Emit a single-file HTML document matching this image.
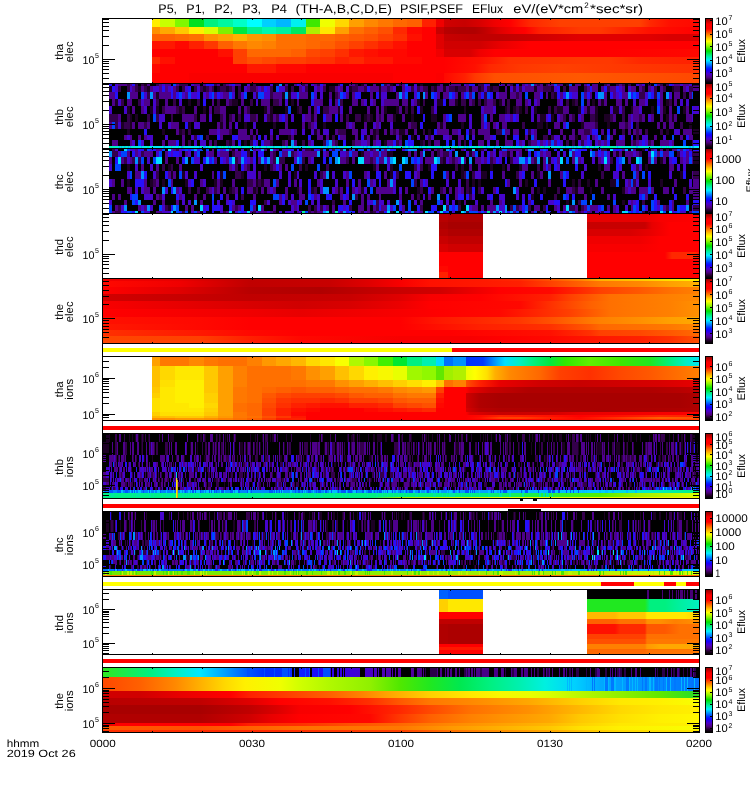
<!DOCTYPE html><html><head><meta charset="utf-8"><title>THEMIS SST EFlux</title><style>html,body{margin:0;padding:0;background:#fff}svg{display:block}path{fill:none}text{text-rendering:geometricPrecision}</style></head><body><svg width="750" height="800" viewBox="0 0 750 800" shape-rendering="crispEdges" font-family="'Liberation Sans', sans-serif" fill="#000"><defs><linearGradient id="g1" gradientUnits="userSpaceOnUse" x1="444" y1="0" x2="699" y2="0"><stop offset="0.0000" stop-color="#d00000"/><stop offset="0.0824" stop-color="#c80000"/><stop offset="0.1412" stop-color="#d80000"/><stop offset="0.2000" stop-color="#f00000"/><stop offset="0.2588" stop-color="#ff0000"/><stop offset="0.3373" stop-color="#ff2800"/><stop offset="0.4549" stop-color="#ff4000"/><stop offset="0.7686" stop-color="#ff4000"/><stop offset="0.8078" stop-color="#ff2800"/><stop offset="0.8863" stop-color="#ff1000"/><stop offset="1.0000" stop-color="#ff0800"/></linearGradient><linearGradient id="g2" gradientUnits="userSpaceOnUse" x1="444" y1="0" x2="699" y2="0"><stop offset="0.0000" stop-color="#b80000"/><stop offset="0.0627" stop-color="#b00000"/><stop offset="0.1216" stop-color="#b00000"/><stop offset="0.1608" stop-color="#c00000"/><stop offset="0.2196" stop-color="#e00000"/><stop offset="0.2784" stop-color="#f80000"/><stop offset="0.3176" stop-color="#ff0000"/><stop offset="0.3765" stop-color="#ff2000"/><stop offset="0.5333" stop-color="#ff3800"/><stop offset="0.6118" stop-color="#ff3800"/><stop offset="0.6902" stop-color="#ff2800"/><stop offset="0.8078" stop-color="#ff1000"/><stop offset="1.0000" stop-color="#ff0000"/></linearGradient><linearGradient id="g3" gradientUnits="userSpaceOnUse" x1="444" y1="0" x2="699" y2="0"><stop offset="0.0000" stop-color="#c80000"/><stop offset="0.1020" stop-color="#c00000"/><stop offset="0.2196" stop-color="#c00000"/><stop offset="0.3176" stop-color="#c80000"/><stop offset="0.4549" stop-color="#d80000"/><stop offset="0.5333" stop-color="#e00000"/><stop offset="0.8078" stop-color="#e00000"/><stop offset="0.8863" stop-color="#d80000"/><stop offset="1.0000" stop-color="#d80000"/></linearGradient><linearGradient id="g4" gradientUnits="userSpaceOnUse" x1="444" y1="0" x2="699" y2="0"><stop offset="0.0000" stop-color="#d00000"/><stop offset="0.1412" stop-color="#d00000"/><stop offset="0.2196" stop-color="#e80000"/><stop offset="0.2980" stop-color="#f80000"/><stop offset="0.3373" stop-color="#ff0000"/><stop offset="1.0000" stop-color="#ff0000"/></linearGradient><linearGradient id="g5" gradientUnits="userSpaceOnUse" x1="444" y1="0" x2="699" y2="0"><stop offset="0.0000" stop-color="#d80000"/><stop offset="0.1020" stop-color="#d80000"/><stop offset="0.1412" stop-color="#f00000"/><stop offset="0.2000" stop-color="#ff0000"/><stop offset="0.6118" stop-color="#ff0000"/><stop offset="1.0000" stop-color="#ff0800"/></linearGradient><linearGradient id="g6" gradientUnits="userSpaceOnUse" x1="444" y1="0" x2="699" y2="0"><stop offset="0.0000" stop-color="#ff0000"/><stop offset="0.1412" stop-color="#ff1000"/><stop offset="0.2588" stop-color="#ff3000"/><stop offset="0.5333" stop-color="#ff3800"/><stop offset="0.6510" stop-color="#ff3800"/><stop offset="0.7686" stop-color="#ff2800"/><stop offset="1.0000" stop-color="#ff2000"/></linearGradient><linearGradient id="g7" gradientUnits="userSpaceOnUse" x1="444" y1="0" x2="699" y2="0"><stop offset="0.0000" stop-color="#ff0000"/><stop offset="0.1216" stop-color="#ff1000"/><stop offset="0.1804" stop-color="#ff2800"/><stop offset="0.2980" stop-color="#ff3800"/><stop offset="0.4549" stop-color="#ff4000"/><stop offset="0.6902" stop-color="#ff3800"/><stop offset="1.0000" stop-color="#ff3000"/></linearGradient><linearGradient id="g8" gradientUnits="userSpaceOnUse" x1="444" y1="0" x2="699" y2="0"><stop offset="0.0000" stop-color="#ff0800"/><stop offset="0.0824" stop-color="#ff2000"/><stop offset="0.1216" stop-color="#ff3800"/><stop offset="0.2000" stop-color="#ff5000"/><stop offset="0.5333" stop-color="#ff5800"/><stop offset="0.7686" stop-color="#ff5000"/><stop offset="1.0000" stop-color="#ff4800"/></linearGradient><linearGradient id="g9" gradientUnits="userSpaceOnUse" x1="109" y1="0" x2="699" y2="0"><stop offset="0.0000" stop-color="#00f0c0"/><stop offset="0.0864" stop-color="#00e8ff"/><stop offset="0.2390" stop-color="#00f0e0"/><stop offset="0.3746" stop-color="#00d8ff"/><stop offset="0.5271" stop-color="#00f0e0"/><stop offset="0.6966" stop-color="#00e0ff"/><stop offset="0.8492" stop-color="#00f0d0"/><stop offset="1.0000" stop-color="#00e8ff"/></linearGradient><linearGradient id="g10" gradientUnits="userSpaceOnUse" x1="587" y1="0" x2="699" y2="0"><stop offset="0.0000" stop-color="#e80000"/><stop offset="0.5179" stop-color="#e80000"/><stop offset="0.6518" stop-color="#f80000"/><stop offset="1.0000" stop-color="#ff0000"/></linearGradient><linearGradient id="g11" gradientUnits="userSpaceOnUse" x1="587" y1="0" x2="699" y2="0"><stop offset="0.0000" stop-color="#c80000"/><stop offset="0.5179" stop-color="#c80000"/><stop offset="0.5804" stop-color="#e80000"/><stop offset="0.7411" stop-color="#ff0000"/><stop offset="1.0000" stop-color="#ff0000"/></linearGradient><linearGradient id="g12" gradientUnits="userSpaceOnUse" x1="587" y1="0" x2="699" y2="0"><stop offset="0.0000" stop-color="#d80000"/><stop offset="0.3839" stop-color="#d80000"/><stop offset="0.5625" stop-color="#e80000"/><stop offset="0.7411" stop-color="#ff0000"/><stop offset="1.0000" stop-color="#ff0000"/></linearGradient><linearGradient id="g13" gradientUnits="userSpaceOnUse" x1="587" y1="0" x2="699" y2="0"><stop offset="0.0000" stop-color="#f00000"/><stop offset="0.4732" stop-color="#f00000"/><stop offset="0.6518" stop-color="#ff0000"/><stop offset="1.0000" stop-color="#ff0000"/></linearGradient><linearGradient id="g14" gradientUnits="userSpaceOnUse" x1="587" y1="0" x2="699" y2="0"><stop offset="0.0000" stop-color="#f80000"/><stop offset="0.4732" stop-color="#f80000"/><stop offset="0.6518" stop-color="#ff0000"/><stop offset="1.0000" stop-color="#ff0000"/></linearGradient><linearGradient id="g15" gradientUnits="userSpaceOnUse" x1="587" y1="0" x2="699" y2="0"><stop offset="0.0000" stop-color="#ff0000"/><stop offset="0.6964" stop-color="#ff0000"/><stop offset="0.7589" stop-color="#ff2800"/><stop offset="0.9643" stop-color="#ff2800"/><stop offset="1.0000" stop-color="#ff1000"/></linearGradient><linearGradient id="g16" gradientUnits="userSpaceOnUse" x1="587" y1="0" x2="699" y2="0"><stop offset="0.0000" stop-color="#ff0000"/><stop offset="1.0000" stop-color="#ff0000"/></linearGradient><linearGradient id="g17" gradientUnits="userSpaceOnUse" x1="587" y1="0" x2="699" y2="0"><stop offset="0.0000" stop-color="#ff0000"/><stop offset="1.0000" stop-color="#ff0000"/></linearGradient><linearGradient id="g18" gradientUnits="userSpaceOnUse" x1="587" y1="0" x2="699" y2="0"><stop offset="0.0000" stop-color="#ff0000"/><stop offset="1.0000" stop-color="#ff0000"/></linearGradient><linearGradient id="g19" gradientUnits="userSpaceOnUse" x1="103" y1="0" x2="699" y2="0"><stop offset="0.0000" stop-color="#f00000"/><stop offset="0.1292" stop-color="#e80000"/><stop offset="0.2466" stop-color="#c00000"/><stop offset="0.3809" stop-color="#c80000"/><stop offset="0.4480" stop-color="#e00000"/><stop offset="0.4983" stop-color="#f80000"/><stop offset="0.5487" stop-color="#ff1000"/><stop offset="0.6326" stop-color="#ff1800"/><stop offset="0.6997" stop-color="#ff2800"/><stop offset="0.7500" stop-color="#ff5000"/><stop offset="0.8003" stop-color="#ff8000"/><stop offset="0.8339" stop-color="#ffb000"/><stop offset="0.9010" stop-color="#ffc800"/><stop offset="0.9513" stop-color="#ffe000"/><stop offset="1.0000" stop-color="#fff000"/></linearGradient><linearGradient id="g20" gradientUnits="userSpaceOnUse" x1="103" y1="0" x2="699" y2="0"><stop offset="0.0000" stop-color="#ff0800"/><stop offset="0.1292" stop-color="#f00000"/><stop offset="0.2466" stop-color="#c00000"/><stop offset="0.3809" stop-color="#c80000"/><stop offset="0.4480" stop-color="#e00000"/><stop offset="0.4983" stop-color="#f80000"/><stop offset="0.5487" stop-color="#ff1000"/><stop offset="0.6326" stop-color="#ff1800"/><stop offset="0.6997" stop-color="#ff2000"/><stop offset="0.7500" stop-color="#ff4000"/><stop offset="0.8003" stop-color="#ff6000"/><stop offset="0.8339" stop-color="#ff7800"/><stop offset="0.9010" stop-color="#ff8800"/><stop offset="0.9513" stop-color="#ffa000"/><stop offset="1.0000" stop-color="#ffb000"/></linearGradient><linearGradient id="g21" gradientUnits="userSpaceOnUse" x1="103" y1="0" x2="699" y2="0"><stop offset="0.0000" stop-color="#ff0000"/><stop offset="0.1292" stop-color="#e00000"/><stop offset="0.2466" stop-color="#b80000"/><stop offset="0.3641" stop-color="#b00000"/><stop offset="0.4480" stop-color="#c00000"/><stop offset="0.4983" stop-color="#c80000"/><stop offset="0.5654" stop-color="#d00000"/><stop offset="0.6158" stop-color="#e80000"/><stop offset="0.6661" stop-color="#ff0000"/><stop offset="0.7500" stop-color="#ff0800"/><stop offset="0.8003" stop-color="#ff2800"/><stop offset="0.8339" stop-color="#ff4000"/><stop offset="0.9010" stop-color="#ff5800"/><stop offset="0.9513" stop-color="#ff7000"/><stop offset="1.0000" stop-color="#ff8000"/></linearGradient><linearGradient id="g22" gradientUnits="userSpaceOnUse" x1="103" y1="0" x2="699" y2="0"><stop offset="0.0000" stop-color="#d00000"/><stop offset="0.2466" stop-color="#c00000"/><stop offset="0.4144" stop-color="#c80000"/><stop offset="0.4983" stop-color="#e00000"/><stop offset="0.5487" stop-color="#f80000"/><stop offset="0.6326" stop-color="#ff0000"/><stop offset="0.7500" stop-color="#ff2000"/><stop offset="0.7836" stop-color="#ff4000"/><stop offset="0.8171" stop-color="#ff5800"/><stop offset="0.8507" stop-color="#ff7000"/><stop offset="0.9010" stop-color="#ff7800"/><stop offset="0.9513" stop-color="#ff8000"/><stop offset="1.0000" stop-color="#ff8800"/></linearGradient><linearGradient id="g23" gradientUnits="userSpaceOnUse" x1="103" y1="0" x2="699" y2="0"><stop offset="0.0000" stop-color="#f80000"/><stop offset="0.2466" stop-color="#d80000"/><stop offset="0.3305" stop-color="#d00000"/><stop offset="0.4144" stop-color="#d80000"/><stop offset="0.4983" stop-color="#ec0000"/><stop offset="0.5487" stop-color="#ff0000"/><stop offset="0.6997" stop-color="#ff0800"/><stop offset="0.7500" stop-color="#ff3000"/><stop offset="0.7836" stop-color="#ff4800"/><stop offset="0.8171" stop-color="#ff6000"/><stop offset="0.8507" stop-color="#ff7000"/><stop offset="0.9010" stop-color="#ff7800"/><stop offset="0.9513" stop-color="#ff8000"/><stop offset="1.0000" stop-color="#ff9000"/></linearGradient><linearGradient id="g24" gradientUnits="userSpaceOnUse" x1="103" y1="0" x2="699" y2="0"><stop offset="0.0000" stop-color="#ff0000"/><stop offset="0.2466" stop-color="#f00000"/><stop offset="0.3305" stop-color="#e80000"/><stop offset="0.4144" stop-color="#f00000"/><stop offset="0.4983" stop-color="#f80000"/><stop offset="0.5654" stop-color="#ff0000"/><stop offset="0.6661" stop-color="#ff0800"/><stop offset="0.7500" stop-color="#ff3000"/><stop offset="0.7836" stop-color="#ff4000"/><stop offset="0.8171" stop-color="#ff5800"/><stop offset="0.8507" stop-color="#ff7000"/><stop offset="0.9010" stop-color="#ff7800"/><stop offset="0.9513" stop-color="#ff8000"/><stop offset="1.0000" stop-color="#ff9000"/></linearGradient><linearGradient id="g25" gradientUnits="userSpaceOnUse" x1="103" y1="0" x2="699" y2="0"><stop offset="0.0000" stop-color="#ff1000"/><stop offset="0.1628" stop-color="#ff0800"/><stop offset="0.2466" stop-color="#ff0000"/><stop offset="0.4983" stop-color="#ff0000"/><stop offset="0.5654" stop-color="#ff1800"/><stop offset="0.6326" stop-color="#ff2800"/><stop offset="0.6997" stop-color="#ff3800"/><stop offset="0.7500" stop-color="#ff5000"/><stop offset="0.8171" stop-color="#ff7800"/><stop offset="0.8339" stop-color="#ff8000"/><stop offset="0.9010" stop-color="#ff9000"/><stop offset="0.9513" stop-color="#ffa000"/><stop offset="1.0000" stop-color="#ffa800"/></linearGradient><linearGradient id="g26" gradientUnits="userSpaceOnUse" x1="103" y1="0" x2="699" y2="0"><stop offset="0.0000" stop-color="#ff1800"/><stop offset="0.2466" stop-color="#ff0000"/><stop offset="0.4983" stop-color="#ff0000"/><stop offset="0.5654" stop-color="#ff1000"/><stop offset="0.6326" stop-color="#ff2000"/><stop offset="0.6997" stop-color="#ff2800"/><stop offset="0.7500" stop-color="#ff3000"/><stop offset="0.8171" stop-color="#ff5800"/><stop offset="0.8339" stop-color="#ff6800"/><stop offset="0.9010" stop-color="#ff7000"/><stop offset="0.9513" stop-color="#ff7800"/><stop offset="1.0000" stop-color="#ff8800"/></linearGradient><linearGradient id="g27" gradientUnits="userSpaceOnUse" x1="103" y1="0" x2="699" y2="0"><stop offset="0.0000" stop-color="#ff3000"/><stop offset="0.1628" stop-color="#ff1800"/><stop offset="0.2466" stop-color="#ff0800"/><stop offset="0.3305" stop-color="#ff0000"/><stop offset="0.5822" stop-color="#ff0000"/><stop offset="0.6661" stop-color="#ff0800"/><stop offset="0.7500" stop-color="#ff1000"/><stop offset="0.8171" stop-color="#ff3000"/><stop offset="0.8339" stop-color="#ff4000"/><stop offset="0.9010" stop-color="#ff4800"/><stop offset="0.9513" stop-color="#ff5800"/><stop offset="1.0000" stop-color="#ff6800"/></linearGradient><linearGradient id="g28" gradientUnits="userSpaceOnUse" x1="103" y1="0" x2="699" y2="0"><stop offset="0.0000" stop-color="#ff4800"/><stop offset="0.1628" stop-color="#ff4000"/><stop offset="0.2466" stop-color="#ff2000"/><stop offset="0.3305" stop-color="#ff0800"/><stop offset="0.4983" stop-color="#f80000"/><stop offset="0.6158" stop-color="#f80000"/><stop offset="0.6661" stop-color="#ff0000"/><stop offset="0.7500" stop-color="#ff0800"/><stop offset="0.8339" stop-color="#ff1800"/><stop offset="0.9010" stop-color="#ff2000"/><stop offset="0.9513" stop-color="#ff3000"/><stop offset="1.0000" stop-color="#ff5000"/></linearGradient><linearGradient id="g29" gradientUnits="userSpaceOnUse" x1="466" y1="0" x2="699" y2="0"><stop offset="0.0000" stop-color="#0030ff"/><stop offset="0.0730" stop-color="#0038ff"/><stop offset="0.1030" stop-color="#0070ff"/><stop offset="0.1330" stop-color="#00a8ff"/><stop offset="0.1674" stop-color="#00e0ff"/><stop offset="0.2318" stop-color="#00f0c0"/><stop offset="0.2876" stop-color="#00f080"/><stop offset="0.3605" stop-color="#00e840"/><stop offset="0.4249" stop-color="#30e800"/><stop offset="0.5322" stop-color="#60f000"/><stop offset="0.6609" stop-color="#40e800"/><stop offset="0.7897" stop-color="#20e820"/><stop offset="0.8755" stop-color="#00f080"/><stop offset="0.9399" stop-color="#00f0c0"/><stop offset="1.0000" stop-color="#00e8f0"/></linearGradient><linearGradient id="g30" gradientUnits="userSpaceOnUse" x1="466" y1="0" x2="699" y2="0"><stop offset="0.0000" stop-color="#e8ff00"/><stop offset="0.0386" stop-color="#ffff00"/><stop offset="0.0901" stop-color="#ffe000"/><stop offset="0.1245" stop-color="#ffb000"/><stop offset="0.1888" stop-color="#ff8800"/><stop offset="0.3176" stop-color="#ff6800"/><stop offset="0.4034" stop-color="#ff4000"/><stop offset="0.5322" stop-color="#ff3000"/><stop offset="0.6609" stop-color="#ff4800"/><stop offset="0.7897" stop-color="#ff5800"/><stop offset="0.9185" stop-color="#ff7000"/><stop offset="1.0000" stop-color="#ff8000"/></linearGradient><linearGradient id="g31" gradientUnits="userSpaceOnUse" x1="466" y1="0" x2="699" y2="0"><stop offset="0.0000" stop-color="#ff5000"/><stop offset="0.0601" stop-color="#ff2000"/><stop offset="0.1459" stop-color="#e80000"/><stop offset="0.3176" stop-color="#d00000"/><stop offset="0.4893" stop-color="#c80000"/><stop offset="0.6609" stop-color="#d00000"/><stop offset="0.8326" stop-color="#d80000"/><stop offset="1.0000" stop-color="#e80000"/></linearGradient><linearGradient id="g32" gradientUnits="userSpaceOnUse" x1="466" y1="0" x2="699" y2="0"><stop offset="0.0000" stop-color="#ff0000"/><stop offset="0.0172" stop-color="#e80000"/><stop offset="0.1030" stop-color="#c80000"/><stop offset="0.2747" stop-color="#b00000"/><stop offset="0.7897" stop-color="#b00000"/><stop offset="0.9185" stop-color="#b80000"/><stop offset="1.0000" stop-color="#c00000"/></linearGradient><linearGradient id="g33" gradientUnits="userSpaceOnUse" x1="466" y1="0" x2="699" y2="0"><stop offset="0.0000" stop-color="#d00000"/><stop offset="0.0601" stop-color="#b00000"/><stop offset="0.1459" stop-color="#a80000"/><stop offset="0.9185" stop-color="#a80000"/><stop offset="1.0000" stop-color="#b00000"/></linearGradient><linearGradient id="g34" gradientUnits="userSpaceOnUse" x1="466" y1="0" x2="699" y2="0"><stop offset="0.0000" stop-color="#d00000"/><stop offset="0.0601" stop-color="#b00000"/><stop offset="0.1459" stop-color="#a80000"/><stop offset="0.9185" stop-color="#a80000"/><stop offset="1.0000" stop-color="#b00000"/></linearGradient><linearGradient id="g35" gradientUnits="userSpaceOnUse" x1="466" y1="0" x2="699" y2="0"><stop offset="0.0000" stop-color="#d00000"/><stop offset="0.0601" stop-color="#b00000"/><stop offset="0.1459" stop-color="#a80000"/><stop offset="0.9185" stop-color="#a80000"/><stop offset="1.0000" stop-color="#b00000"/></linearGradient><linearGradient id="g36" gradientUnits="userSpaceOnUse" x1="466" y1="0" x2="699" y2="0"><stop offset="0.0000" stop-color="#d80000"/><stop offset="0.0601" stop-color="#b80000"/><stop offset="0.1459" stop-color="#b00000"/><stop offset="0.5751" stop-color="#a80000"/><stop offset="1.0000" stop-color="#b00000"/></linearGradient><linearGradient id="g37" gradientUnits="userSpaceOnUse" x1="466" y1="0" x2="699" y2="0"><stop offset="0.0000" stop-color="#ff0000"/><stop offset="0.0172" stop-color="#e00000"/><stop offset="0.1459" stop-color="#c80000"/><stop offset="0.3605" stop-color="#d00000"/><stop offset="0.4893" stop-color="#e80000"/><stop offset="0.6609" stop-color="#f00000"/><stop offset="1.0000" stop-color="#ff0000"/></linearGradient><linearGradient id="g38" gradientUnits="userSpaceOnUse" x1="466" y1="0" x2="699" y2="0"><stop offset="0.0000" stop-color="#ff0000"/><stop offset="0.0601" stop-color="#ff0800"/><stop offset="0.1459" stop-color="#ff2000"/><stop offset="0.3605" stop-color="#ff1000"/><stop offset="0.4893" stop-color="#ff0000"/><stop offset="0.6609" stop-color="#ff1000"/><stop offset="0.8326" stop-color="#ff2800"/><stop offset="1.0000" stop-color="#ff2000"/></linearGradient><linearGradient id="g39" gradientUnits="userSpaceOnUse" x1="466" y1="0" x2="699" y2="0"><stop offset="0.0000" stop-color="#ff0000"/><stop offset="0.0601" stop-color="#ff1000"/><stop offset="0.1459" stop-color="#ff4000"/><stop offset="0.2318" stop-color="#ff4000"/><stop offset="0.3605" stop-color="#ff2000"/><stop offset="0.4893" stop-color="#ff0800"/><stop offset="0.5751" stop-color="#ff2000"/><stop offset="0.7039" stop-color="#ff4000"/><stop offset="0.8326" stop-color="#ff6000"/><stop offset="1.0000" stop-color="#ff5000"/></linearGradient><linearGradient id="g40" gradientUnits="userSpaceOnUse" x1="466" y1="0" x2="699" y2="0"><stop offset="0.0000" stop-color="#ff0000"/><stop offset="0.5751" stop-color="#ff1000"/><stop offset="0.7897" stop-color="#ff3000"/><stop offset="1.0000" stop-color="#ff4000"/></linearGradient><linearGradient id="g41" gradientUnits="userSpaceOnUse" x1="103" y1="0" x2="699" y2="0"><stop offset="0.0000" stop-color="#0080ff"/><stop offset="0.4983" stop-color="#0090ff"/><stop offset="0.6661" stop-color="#00a8ff"/><stop offset="0.7668" stop-color="#00c0ff"/><stop offset="0.8339" stop-color="#00d0ff"/><stop offset="0.9178" stop-color="#00f0c0"/><stop offset="1.0000" stop-color="#00f080"/></linearGradient><linearGradient id="g42" gradientUnits="userSpaceOnUse" x1="103" y1="0" x2="699" y2="0"><stop offset="0.0000" stop-color="#00f088"/><stop offset="0.6326" stop-color="#00f080"/><stop offset="0.7332" stop-color="#20f040"/><stop offset="0.8339" stop-color="#50f000"/><stop offset="0.9010" stop-color="#a0f000"/><stop offset="1.0000" stop-color="#d8ff00"/></linearGradient><linearGradient id="g43" gradientUnits="userSpaceOnUse" x1="103" y1="0" x2="699" y2="0"><stop offset="0.0000" stop-color="#00f080"/><stop offset="0.4480" stop-color="#00f080"/><stop offset="0.4983" stop-color="#a0f000"/><stop offset="0.6661" stop-color="#e0ff00"/><stop offset="1.0000" stop-color="#f8f000"/></linearGradient><linearGradient id="g44" gradientUnits="userSpaceOnUse" x1="103" y1="0" x2="699" y2="0"><stop offset="0.0000" stop-color="#0070ff"/><stop offset="0.4983" stop-color="#0080ff"/><stop offset="0.7500" stop-color="#00a0ff"/><stop offset="1.0000" stop-color="#00c0ff"/></linearGradient><linearGradient id="g45" gradientUnits="userSpaceOnUse" x1="103" y1="0" x2="699" y2="0"><stop offset="0.0000" stop-color="#70e800"/><stop offset="0.3305" stop-color="#80f000"/><stop offset="0.5822" stop-color="#98f000"/><stop offset="0.7668" stop-color="#a8f000"/><stop offset="0.9178" stop-color="#c8f800"/><stop offset="1.0000" stop-color="#d8ff00"/></linearGradient><linearGradient id="g46" gradientUnits="userSpaceOnUse" x1="103" y1="0" x2="699" y2="0"><stop offset="0.0000" stop-color="#ff8000"/><stop offset="0.6661" stop-color="#ff7800"/><stop offset="1.0000" stop-color="#ff6000"/></linearGradient><linearGradient id="g47" gradientUnits="userSpaceOnUse" x1="587" y1="0" x2="699" y2="0"><stop offset="0.0000" stop-color="#20e820"/><stop offset="0.5179" stop-color="#20e820"/><stop offset="0.5625" stop-color="#00f080"/><stop offset="0.6964" stop-color="#00f080"/><stop offset="0.8304" stop-color="#00f0a0"/><stop offset="1.0000" stop-color="#00f0c0"/></linearGradient><linearGradient id="g48" gradientUnits="userSpaceOnUse" x1="587" y1="0" x2="699" y2="0"><stop offset="0.0000" stop-color="#ffb800"/><stop offset="0.2500" stop-color="#ffb800"/><stop offset="0.2946" stop-color="#ffc800"/><stop offset="0.5179" stop-color="#ffc800"/><stop offset="0.5357" stop-color="#ffe800"/><stop offset="0.8750" stop-color="#ffe800"/><stop offset="1.0000" stop-color="#ffd000"/></linearGradient><linearGradient id="g49" gradientUnits="userSpaceOnUse" x1="587" y1="0" x2="699" y2="0"><stop offset="0.0000" stop-color="#ff6000"/><stop offset="0.2500" stop-color="#ff6000"/><stop offset="0.2946" stop-color="#ff7000"/><stop offset="0.5179" stop-color="#ff7000"/><stop offset="0.5357" stop-color="#ff9000"/><stop offset="0.6518" stop-color="#ff9000"/><stop offset="0.7857" stop-color="#ff8000"/><stop offset="1.0000" stop-color="#ff9000"/></linearGradient><linearGradient id="g50" gradientUnits="userSpaceOnUse" x1="587" y1="0" x2="699" y2="0"><stop offset="0.0000" stop-color="#ff1000"/><stop offset="0.2500" stop-color="#ff1000"/><stop offset="0.2946" stop-color="#ff2800"/><stop offset="0.5179" stop-color="#ff2800"/><stop offset="0.5357" stop-color="#ff5800"/><stop offset="0.6964" stop-color="#ff5800"/><stop offset="0.8304" stop-color="#ff7000"/><stop offset="1.0000" stop-color="#ff7000"/></linearGradient><linearGradient id="g51" gradientUnits="userSpaceOnUse" x1="587" y1="0" x2="699" y2="0"><stop offset="0.0000" stop-color="#ff1000"/><stop offset="0.2500" stop-color="#ff1000"/><stop offset="0.2946" stop-color="#ff2800"/><stop offset="0.5179" stop-color="#ff2800"/><stop offset="0.5357" stop-color="#ff5800"/><stop offset="0.6964" stop-color="#ff5800"/><stop offset="0.8304" stop-color="#ff7000"/><stop offset="1.0000" stop-color="#ff7000"/></linearGradient><linearGradient id="g52" gradientUnits="userSpaceOnUse" x1="587" y1="0" x2="699" y2="0"><stop offset="0.0000" stop-color="#ff4000"/><stop offset="0.5179" stop-color="#ff4000"/><stop offset="0.5357" stop-color="#ff7000"/><stop offset="1.0000" stop-color="#ff7000"/></linearGradient><linearGradient id="g53" gradientUnits="userSpaceOnUse" x1="587" y1="0" x2="699" y2="0"><stop offset="0.0000" stop-color="#ff5000"/><stop offset="0.5179" stop-color="#ff5000"/><stop offset="0.5357" stop-color="#ff7800"/><stop offset="1.0000" stop-color="#ff7800"/></linearGradient><linearGradient id="g54" gradientUnits="userSpaceOnUse" x1="587" y1="0" x2="699" y2="0"><stop offset="0.0000" stop-color="#ff8000"/><stop offset="0.5179" stop-color="#ff8000"/><stop offset="0.5357" stop-color="#ff9800"/><stop offset="0.6518" stop-color="#ffa800"/><stop offset="1.0000" stop-color="#ffa800"/></linearGradient><linearGradient id="g55" gradientUnits="userSpaceOnUse" x1="587" y1="0" x2="699" y2="0"><stop offset="0.0000" stop-color="#ff6800"/><stop offset="0.5179" stop-color="#ff6800"/><stop offset="0.5357" stop-color="#ff7000"/><stop offset="1.0000" stop-color="#ff7800"/></linearGradient><linearGradient id="g56" gradientUnits="userSpaceOnUse" x1="103" y1="0" x2="699" y2="0"><stop offset="0.0000" stop-color="#ff4800"/><stop offset="0.0621" stop-color="#ff6000"/><stop offset="0.1208" stop-color="#ff8800"/><stop offset="0.1628" stop-color="#ffb000"/><stop offset="0.2047" stop-color="#ffd800"/><stop offset="0.2383" stop-color="#fff000"/><stop offset="0.2970" stop-color="#f0ff00"/><stop offset="0.3305" stop-color="#d0ff00"/><stop offset="0.3809" stop-color="#b0f800"/><stop offset="0.4480" stop-color="#90f000"/><stop offset="0.4983" stop-color="#50e800"/><stop offset="0.5487" stop-color="#20e820"/><stop offset="0.5990" stop-color="#00e850"/><stop offset="0.6493" stop-color="#00f080"/><stop offset="0.6997" stop-color="#00f0b0"/><stop offset="0.7416" stop-color="#00f0e0"/><stop offset="0.7919" stop-color="#00d0ff"/><stop offset="0.8339" stop-color="#00a8ff"/><stop offset="0.9178" stop-color="#0090ff"/><stop offset="1.0000" stop-color="#0070ff"/></linearGradient><linearGradient id="g57" gradientUnits="userSpaceOnUse" x1="103" y1="0" x2="699" y2="0"><stop offset="0.0000" stop-color="#d00000"/><stop offset="0.0621" stop-color="#d00000"/><stop offset="0.1292" stop-color="#e80000"/><stop offset="0.2131" stop-color="#ff0000"/><stop offset="0.2466" stop-color="#ff2000"/><stop offset="0.3138" stop-color="#ff4000"/><stop offset="0.3809" stop-color="#ff6000"/><stop offset="0.4312" stop-color="#ff8000"/><stop offset="0.4732" stop-color="#ffa000"/><stop offset="0.4983" stop-color="#ffb000"/><stop offset="0.5487" stop-color="#ffd000"/><stop offset="0.6158" stop-color="#ffe800"/><stop offset="0.6661" stop-color="#f8f800"/><stop offset="0.7164" stop-color="#e8ff00"/><stop offset="0.7500" stop-color="#d8ff00"/><stop offset="0.8003" stop-color="#b8f800"/><stop offset="0.8674" stop-color="#90f000"/><stop offset="0.9346" stop-color="#60e800"/><stop offset="0.9849" stop-color="#30e020"/><stop offset="1.0000" stop-color="#30e020"/></linearGradient><linearGradient id="g58" gradientUnits="userSpaceOnUse" x1="103" y1="0" x2="699" y2="0"><stop offset="0.0000" stop-color="#b80000"/><stop offset="0.1628" stop-color="#c00000"/><stop offset="0.2466" stop-color="#e00000"/><stop offset="0.2970" stop-color="#ff0000"/><stop offset="0.3809" stop-color="#ff1000"/><stop offset="0.4480" stop-color="#ff3000"/><stop offset="0.4983" stop-color="#ff5800"/><stop offset="0.5487" stop-color="#ff7800"/><stop offset="0.6158" stop-color="#ff8800"/><stop offset="0.6661" stop-color="#ff9800"/><stop offset="0.7164" stop-color="#ffa800"/><stop offset="0.7500" stop-color="#ffb800"/><stop offset="0.8003" stop-color="#ffd000"/><stop offset="0.8674" stop-color="#ffe800"/><stop offset="0.9346" stop-color="#fff000"/><stop offset="1.0000" stop-color="#f8ff00"/></linearGradient><linearGradient id="g59" gradientUnits="userSpaceOnUse" x1="103" y1="0" x2="699" y2="0"><stop offset="0.0000" stop-color="#a80000"/><stop offset="0.1628" stop-color="#a80000"/><stop offset="0.2466" stop-color="#c00000"/><stop offset="0.2886" stop-color="#d80000"/><stop offset="0.3305" stop-color="#f80000"/><stop offset="0.4144" stop-color="#ff0000"/><stop offset="0.4983" stop-color="#ff2800"/><stop offset="0.5487" stop-color="#ff4800"/><stop offset="0.6158" stop-color="#ff7000"/><stop offset="0.6661" stop-color="#ff8000"/><stop offset="0.7164" stop-color="#ff9000"/><stop offset="0.7500" stop-color="#ffa000"/><stop offset="0.8003" stop-color="#ffb800"/><stop offset="0.8674" stop-color="#ffd800"/><stop offset="0.9346" stop-color="#ffe800"/><stop offset="1.0000" stop-color="#fff000"/></linearGradient><linearGradient id="g60" gradientUnits="userSpaceOnUse" x1="103" y1="0" x2="699" y2="0"><stop offset="0.0000" stop-color="#b00000"/><stop offset="0.1628" stop-color="#b00000"/><stop offset="0.2466" stop-color="#d00000"/><stop offset="0.2802" stop-color="#e80000"/><stop offset="0.3305" stop-color="#ff0000"/><stop offset="0.4480" stop-color="#ff0800"/><stop offset="0.4983" stop-color="#ff3800"/><stop offset="0.5487" stop-color="#ff6000"/><stop offset="0.6158" stop-color="#ff8000"/><stop offset="0.6661" stop-color="#ff9000"/><stop offset="0.7500" stop-color="#ffa800"/><stop offset="0.8003" stop-color="#ffc800"/><stop offset="0.8674" stop-color="#ffe000"/><stop offset="0.9346" stop-color="#fff000"/><stop offset="1.0000" stop-color="#fff800"/></linearGradient><linearGradient id="g61" gradientUnits="userSpaceOnUse" x1="103" y1="0" x2="699" y2="0"><stop offset="0.0000" stop-color="#e80000"/><stop offset="0.0285" stop-color="#ff0000"/><stop offset="0.2131" stop-color="#ff0000"/><stop offset="0.2466" stop-color="#ff2000"/><stop offset="0.3305" stop-color="#ff3000"/><stop offset="0.4144" stop-color="#ff5000"/><stop offset="0.4983" stop-color="#ff6800"/><stop offset="0.5822" stop-color="#ff8800"/><stop offset="0.6661" stop-color="#ffa000"/><stop offset="0.7500" stop-color="#ffb800"/><stop offset="0.8003" stop-color="#ffd000"/><stop offset="0.8674" stop-color="#ffe800"/><stop offset="1.0000" stop-color="#fff000"/></linearGradient><linearGradient id="g62" gradientUnits="userSpaceOnUse" x1="103" y1="0" x2="699" y2="0"><stop offset="0.0000" stop-color="#ff5800"/><stop offset="0.1628" stop-color="#ff5000"/><stop offset="0.2466" stop-color="#ff6000"/><stop offset="0.3305" stop-color="#ff7000"/><stop offset="0.4983" stop-color="#ff7800"/><stop offset="0.5822" stop-color="#ff9800"/><stop offset="0.6661" stop-color="#ffb000"/><stop offset="0.7500" stop-color="#ffc800"/><stop offset="0.8003" stop-color="#ffe000"/><stop offset="0.8674" stop-color="#fff000"/><stop offset="1.0000" stop-color="#f8ff00"/></linearGradient><linearGradient id="g63" gradientUnits="userSpaceOnUse" x1="103" y1="0" x2="699" y2="0"><stop offset="0.0000" stop-color="#ff3000"/><stop offset="0.2466" stop-color="#ff2800"/><stop offset="0.4983" stop-color="#ff4000"/><stop offset="0.5822" stop-color="#ff7000"/><stop offset="0.6661" stop-color="#ff9000"/><stop offset="0.7500" stop-color="#ffa800"/><stop offset="0.8003" stop-color="#ffc000"/><stop offset="0.8674" stop-color="#ffd800"/><stop offset="1.0000" stop-color="#ffe800"/></linearGradient><linearGradient id="g64" gradientUnits="userSpaceOnUse" x1="103" y1="0" x2="420" y2="0"><stop offset="0.0000" stop-color="#30e820"/><stop offset="0.1483" stop-color="#00f080"/><stop offset="0.2271" stop-color="#00f0c0"/><stop offset="0.3060" stop-color="#00e8ff"/><stop offset="0.3849" stop-color="#00a0ff"/><stop offset="0.4479" stop-color="#0060ff"/><stop offset="0.5110" stop-color="#0030ff"/><stop offset="0.6057" stop-color="#0828ff"/><stop offset="0.6845" stop-color="#2008f8"/><stop offset="0.7634" stop-color="#3800e0"/><stop offset="0.8580" stop-color="#4800c0"/><stop offset="0.9369" stop-color="#5000a8"/><stop offset="1.0000" stop-color="#4c0098"/></linearGradient><linearGradient id="g65" x1="0" y1="1" x2="0" y2="0"><stop offset="0.000" stop-color="#000000"/><stop offset="0.035" stop-color="#1e0023"/><stop offset="0.090" stop-color="#500082"/><stop offset="0.140" stop-color="#4b00c8"/><stop offset="0.200" stop-color="#1400ff"/><stop offset="0.235" stop-color="#0028ff"/><stop offset="0.300" stop-color="#0096ff"/><stop offset="0.355" stop-color="#00f0ff"/><stop offset="0.420" stop-color="#00f096"/><stop offset="0.500" stop-color="#00e100"/><stop offset="0.575" stop-color="#8cf500"/><stop offset="0.650" stop-color="#ffff00"/><stop offset="0.700" stop-color="#ffc800"/><stop offset="0.760" stop-color="#ff7800"/><stop offset="0.845" stop-color="#ff0000"/><stop offset="0.920" stop-color="#fa0000"/><stop offset="1.000" stop-color="#960000"/></linearGradient><linearGradient id="g66" x1="0" y1="1" x2="0" y2="0"><stop offset="0.000" stop-color="#000000"/><stop offset="0.035" stop-color="#1e0023"/><stop offset="0.090" stop-color="#500082"/><stop offset="0.140" stop-color="#4b00c8"/><stop offset="0.200" stop-color="#1400ff"/><stop offset="0.235" stop-color="#0028ff"/><stop offset="0.300" stop-color="#0096ff"/><stop offset="0.355" stop-color="#00f0ff"/><stop offset="0.420" stop-color="#00f096"/><stop offset="0.500" stop-color="#00e100"/><stop offset="0.575" stop-color="#8cf500"/><stop offset="0.650" stop-color="#ffff00"/><stop offset="0.700" stop-color="#ffc800"/><stop offset="0.760" stop-color="#ff7800"/><stop offset="0.845" stop-color="#ff0000"/><stop offset="0.920" stop-color="#fa0000"/><stop offset="1.000" stop-color="#960000"/></linearGradient><linearGradient id="g67" x1="0" y1="1" x2="0" y2="0"><stop offset="0.000" stop-color="#000000"/><stop offset="0.035" stop-color="#1e0023"/><stop offset="0.090" stop-color="#500082"/><stop offset="0.140" stop-color="#4b00c8"/><stop offset="0.200" stop-color="#1400ff"/><stop offset="0.235" stop-color="#0028ff"/><stop offset="0.300" stop-color="#0096ff"/><stop offset="0.355" stop-color="#00f0ff"/><stop offset="0.420" stop-color="#00f096"/><stop offset="0.500" stop-color="#00e100"/><stop offset="0.575" stop-color="#8cf500"/><stop offset="0.650" stop-color="#ffff00"/><stop offset="0.700" stop-color="#ffc800"/><stop offset="0.760" stop-color="#ff7800"/><stop offset="0.845" stop-color="#ff0000"/><stop offset="0.920" stop-color="#fa0000"/><stop offset="1.000" stop-color="#960000"/></linearGradient><linearGradient id="g68" x1="0" y1="1" x2="0" y2="0"><stop offset="0.000" stop-color="#000000"/><stop offset="0.035" stop-color="#1e0023"/><stop offset="0.090" stop-color="#500082"/><stop offset="0.140" stop-color="#4b00c8"/><stop offset="0.200" stop-color="#1400ff"/><stop offset="0.235" stop-color="#0028ff"/><stop offset="0.300" stop-color="#0096ff"/><stop offset="0.355" stop-color="#00f0ff"/><stop offset="0.420" stop-color="#00f096"/><stop offset="0.500" stop-color="#00e100"/><stop offset="0.575" stop-color="#8cf500"/><stop offset="0.650" stop-color="#ffff00"/><stop offset="0.700" stop-color="#ffc800"/><stop offset="0.760" stop-color="#ff7800"/><stop offset="0.845" stop-color="#ff0000"/><stop offset="0.920" stop-color="#fa0000"/><stop offset="1.000" stop-color="#960000"/></linearGradient><linearGradient id="g69" x1="0" y1="1" x2="0" y2="0"><stop offset="0.000" stop-color="#000000"/><stop offset="0.035" stop-color="#1e0023"/><stop offset="0.090" stop-color="#500082"/><stop offset="0.140" stop-color="#4b00c8"/><stop offset="0.200" stop-color="#1400ff"/><stop offset="0.235" stop-color="#0028ff"/><stop offset="0.300" stop-color="#0096ff"/><stop offset="0.355" stop-color="#00f0ff"/><stop offset="0.420" stop-color="#00f096"/><stop offset="0.500" stop-color="#00e100"/><stop offset="0.575" stop-color="#8cf500"/><stop offset="0.650" stop-color="#ffff00"/><stop offset="0.700" stop-color="#ffc800"/><stop offset="0.760" stop-color="#ff7800"/><stop offset="0.845" stop-color="#ff0000"/><stop offset="0.920" stop-color="#fa0000"/><stop offset="1.000" stop-color="#960000"/></linearGradient><linearGradient id="g70" x1="0" y1="1" x2="0" y2="0"><stop offset="0.000" stop-color="#000000"/><stop offset="0.035" stop-color="#1e0023"/><stop offset="0.090" stop-color="#500082"/><stop offset="0.140" stop-color="#4b00c8"/><stop offset="0.200" stop-color="#1400ff"/><stop offset="0.235" stop-color="#0028ff"/><stop offset="0.300" stop-color="#0096ff"/><stop offset="0.355" stop-color="#00f0ff"/><stop offset="0.420" stop-color="#00f096"/><stop offset="0.500" stop-color="#00e100"/><stop offset="0.575" stop-color="#8cf500"/><stop offset="0.650" stop-color="#ffff00"/><stop offset="0.700" stop-color="#ffc800"/><stop offset="0.760" stop-color="#ff7800"/><stop offset="0.845" stop-color="#ff0000"/><stop offset="0.920" stop-color="#fa0000"/><stop offset="1.000" stop-color="#960000"/></linearGradient><linearGradient id="g71" x1="0" y1="1" x2="0" y2="0"><stop offset="0.000" stop-color="#000000"/><stop offset="0.035" stop-color="#1e0023"/><stop offset="0.090" stop-color="#500082"/><stop offset="0.140" stop-color="#4b00c8"/><stop offset="0.200" stop-color="#1400ff"/><stop offset="0.235" stop-color="#0028ff"/><stop offset="0.300" stop-color="#0096ff"/><stop offset="0.355" stop-color="#00f0ff"/><stop offset="0.420" stop-color="#00f096"/><stop offset="0.500" stop-color="#00e100"/><stop offset="0.575" stop-color="#8cf500"/><stop offset="0.650" stop-color="#ffff00"/><stop offset="0.700" stop-color="#ffc800"/><stop offset="0.760" stop-color="#ff7800"/><stop offset="0.845" stop-color="#ff0000"/><stop offset="0.920" stop-color="#fa0000"/><stop offset="1.000" stop-color="#960000"/></linearGradient><linearGradient id="g72" x1="0" y1="1" x2="0" y2="0"><stop offset="0.000" stop-color="#000000"/><stop offset="0.035" stop-color="#1e0023"/><stop offset="0.090" stop-color="#500082"/><stop offset="0.140" stop-color="#4b00c8"/><stop offset="0.200" stop-color="#1400ff"/><stop offset="0.235" stop-color="#0028ff"/><stop offset="0.300" stop-color="#0096ff"/><stop offset="0.355" stop-color="#00f0ff"/><stop offset="0.420" stop-color="#00f096"/><stop offset="0.500" stop-color="#00e100"/><stop offset="0.575" stop-color="#8cf500"/><stop offset="0.650" stop-color="#ffff00"/><stop offset="0.700" stop-color="#ffc800"/><stop offset="0.760" stop-color="#ff7800"/><stop offset="0.845" stop-color="#ff0000"/><stop offset="0.920" stop-color="#fa0000"/><stop offset="1.000" stop-color="#960000"/></linearGradient><linearGradient id="g73" x1="0" y1="1" x2="0" y2="0"><stop offset="0.000" stop-color="#000000"/><stop offset="0.035" stop-color="#1e0023"/><stop offset="0.090" stop-color="#500082"/><stop offset="0.140" stop-color="#4b00c8"/><stop offset="0.200" stop-color="#1400ff"/><stop offset="0.235" stop-color="#0028ff"/><stop offset="0.300" stop-color="#0096ff"/><stop offset="0.355" stop-color="#00f0ff"/><stop offset="0.420" stop-color="#00f096"/><stop offset="0.500" stop-color="#00e100"/><stop offset="0.575" stop-color="#8cf500"/><stop offset="0.650" stop-color="#ffff00"/><stop offset="0.700" stop-color="#ffc800"/><stop offset="0.760" stop-color="#ff7800"/><stop offset="0.845" stop-color="#ff0000"/><stop offset="0.920" stop-color="#fa0000"/><stop offset="1.000" stop-color="#960000"/></linearGradient><linearGradient id="g74" x1="0" y1="1" x2="0" y2="0"><stop offset="0.000" stop-color="#000000"/><stop offset="0.035" stop-color="#1e0023"/><stop offset="0.090" stop-color="#500082"/><stop offset="0.140" stop-color="#4b00c8"/><stop offset="0.200" stop-color="#1400ff"/><stop offset="0.235" stop-color="#0028ff"/><stop offset="0.300" stop-color="#0096ff"/><stop offset="0.355" stop-color="#00f0ff"/><stop offset="0.420" stop-color="#00f096"/><stop offset="0.500" stop-color="#00e100"/><stop offset="0.575" stop-color="#8cf500"/><stop offset="0.650" stop-color="#ffff00"/><stop offset="0.700" stop-color="#ffc800"/><stop offset="0.760" stop-color="#ff7800"/><stop offset="0.845" stop-color="#ff0000"/><stop offset="0.920" stop-color="#fa0000"/><stop offset="1.000" stop-color="#960000"/></linearGradient></defs><rect width="750" height="800" fill="#fff"/><rect x="152" y="19" width="8" height="8" fill="#ffee00"/>
<rect x="160" y="19" width="15" height="8" fill="#c8ff00"/>
<rect x="175" y="19" width="14" height="8" fill="#80f800"/>
<rect x="189" y="19" width="15" height="8" fill="#00e020"/>
<rect x="204" y="19" width="14" height="8" fill="#00f080"/>
<rect x="218" y="19" width="15" height="8" fill="#00f8a0"/>
<rect x="233" y="19" width="14" height="8" fill="#00ffc8"/>
<rect x="247" y="19" width="15" height="8" fill="#00ffff"/>
<rect x="262" y="19" width="14" height="8" fill="#00d0ff"/>
<rect x="276" y="19" width="15" height="8" fill="#00b8ff"/>
<rect x="291" y="19" width="15" height="8" fill="#00f0f0"/>
<rect x="306" y="19" width="14" height="8" fill="#40e800"/>
<rect x="320" y="19" width="15" height="8" fill="#f0ff00"/>
<rect x="335" y="19" width="14" height="8" fill="#ffd800"/>
<rect x="349" y="19" width="15" height="8" fill="#ffa000"/>
<rect x="364" y="19" width="14" height="8" fill="#ff8800"/>
<rect x="378" y="19" width="15" height="8" fill="#ff7800"/>
<rect x="393" y="19" width="14" height="8" fill="#ff6800"/>
<rect x="407" y="19" width="15" height="8" fill="#ff6000"/>
<rect x="422" y="19" width="14" height="8" fill="#ff2000"/>
<rect x="436" y="19" width="8" height="8" fill="#f00000"/>
<rect x="444" y="19" width="255" height="8" fill="url(#g1)"/>
<rect x="152" y="27" width="8" height="7" fill="#ff9000"/>
<rect x="160" y="27" width="15" height="7" fill="#ffa800"/>
<rect x="175" y="27" width="14" height="7" fill="#ffc800"/>
<rect x="189" y="27" width="15" height="7" fill="#fff000"/>
<rect x="204" y="27" width="14" height="7" fill="#d8ff00"/>
<rect x="218" y="27" width="15" height="7" fill="#80f000"/>
<rect x="233" y="27" width="14" height="7" fill="#00e840"/>
<rect x="247" y="27" width="15" height="7" fill="#00f090"/>
<rect x="262" y="27" width="14" height="7" fill="#00f8b0"/>
<rect x="276" y="27" width="15" height="7" fill="#00f0a0"/>
<rect x="291" y="27" width="15" height="7" fill="#00e860"/>
<rect x="306" y="27" width="14" height="7" fill="#b0f000"/>
<rect x="320" y="27" width="15" height="7" fill="#ffe800"/>
<rect x="335" y="27" width="14" height="7" fill="#ffa000"/>
<rect x="349" y="27" width="15" height="7" fill="#ff7000"/>
<rect x="364" y="27" width="14" height="7" fill="#ff6000"/>
<rect x="378" y="27" width="15" height="7" fill="#ff5000"/>
<rect x="393" y="27" width="14" height="7" fill="#ff2800"/>
<rect x="407" y="27" width="15" height="7" fill="#ff0800"/>
<rect x="422" y="27" width="14" height="7" fill="#ff0000"/>
<rect x="436" y="27" width="8" height="7" fill="#c80000"/>
<rect x="444" y="27" width="255" height="7" fill="url(#g2)"/>
<rect x="152" y="34" width="23" height="7" fill="#ff6000"/>
<rect x="175" y="34" width="14" height="7" fill="#ff6800"/>
<rect x="189" y="34" width="15" height="7" fill="#ff7000"/>
<rect x="204" y="34" width="14" height="7" fill="#ff9000"/>
<rect x="218" y="34" width="15" height="7" fill="#ffa000"/>
<rect x="233" y="34" width="14" height="7" fill="#ffb000"/>
<rect x="247" y="34" width="15" height="7" fill="#ff9800"/>
<rect x="262" y="34" width="14" height="7" fill="#ff9000"/>
<rect x="276" y="34" width="30" height="7" fill="#ff7000"/>
<rect x="306" y="34" width="29" height="7" fill="#ff6800"/>
<rect x="335" y="34" width="14" height="7" fill="#ff6000"/>
<rect x="349" y="34" width="15" height="7" fill="#ff5800"/>
<rect x="364" y="34" width="14" height="7" fill="#ff5000"/>
<rect x="378" y="34" width="15" height="7" fill="#ff4000"/>
<rect x="393" y="34" width="14" height="7" fill="#ff3000"/>
<rect x="407" y="34" width="15" height="7" fill="#ff1000"/>
<rect x="422" y="34" width="14" height="7" fill="#ff0000"/>
<rect x="436" y="34" width="8" height="7" fill="#e00000"/>
<rect x="444" y="34" width="255" height="7" fill="url(#g3)"/>
<rect x="152" y="41" width="8" height="8" fill="#ff1000"/>
<rect x="160" y="41" width="15" height="8" fill="#ff1800"/>
<rect x="175" y="41" width="14" height="8" fill="#ff0800"/>
<rect x="189" y="41" width="15" height="8" fill="#ff2000"/>
<rect x="204" y="41" width="14" height="8" fill="#ff3800"/>
<rect x="218" y="41" width="15" height="8" fill="#ff6000"/>
<rect x="233" y="41" width="14" height="8" fill="#ff7800"/>
<rect x="247" y="41" width="15" height="8" fill="#ff8800"/>
<rect x="262" y="41" width="14" height="8" fill="#ff8000"/>
<rect x="276" y="41" width="30" height="8" fill="#ff7000"/>
<rect x="306" y="41" width="14" height="8" fill="#ff6800"/>
<rect x="320" y="41" width="15" height="8" fill="#ff6000"/>
<rect x="335" y="41" width="14" height="8" fill="#ff5000"/>
<rect x="349" y="41" width="15" height="8" fill="#ff4000"/>
<rect x="364" y="41" width="14" height="8" fill="#ff3000"/>
<rect x="378" y="41" width="15" height="8" fill="#ff2000"/>
<rect x="393" y="41" width="14" height="8" fill="#ff1000"/>
<rect x="407" y="41" width="29" height="8" fill="#ff0000"/>
<rect x="436" y="41" width="8" height="8" fill="#e00000"/>
<rect x="444" y="41" width="255" height="8" fill="url(#g4)"/>
<rect x="152" y="49" width="66" height="8" fill="#ff0000"/>
<rect x="218" y="49" width="15" height="8" fill="#ff1000"/>
<rect x="233" y="49" width="14" height="8" fill="#ff4000"/>
<rect x="247" y="49" width="44" height="8" fill="#ff6800"/>
<rect x="291" y="49" width="15" height="8" fill="#ff6000"/>
<rect x="306" y="49" width="14" height="8" fill="#ff4800"/>
<rect x="320" y="49" width="15" height="8" fill="#ff4000"/>
<rect x="335" y="49" width="14" height="8" fill="#ff3000"/>
<rect x="349" y="49" width="15" height="8" fill="#ff1800"/>
<rect x="364" y="49" width="14" height="8" fill="#ff1000"/>
<rect x="378" y="49" width="29" height="8" fill="#ff0800"/>
<rect x="407" y="49" width="29" height="8" fill="#ff0000"/>
<rect x="436" y="49" width="8" height="8" fill="#f00000"/>
<rect x="444" y="49" width="255" height="8" fill="url(#g5)"/>
<rect x="152" y="57" width="8" height="7" fill="#ff2800"/>
<rect x="160" y="57" width="15" height="7" fill="#ff1000"/>
<rect x="175" y="57" width="58" height="7" fill="#ff0000"/>
<rect x="233" y="57" width="14" height="7" fill="#ff4000"/>
<rect x="247" y="57" width="15" height="7" fill="#ff5000"/>
<rect x="262" y="57" width="14" height="7" fill="#ff4800"/>
<rect x="276" y="57" width="30" height="7" fill="#ff4000"/>
<rect x="306" y="57" width="14" height="7" fill="#ff3800"/>
<rect x="320" y="57" width="15" height="7" fill="#ff3000"/>
<rect x="335" y="57" width="14" height="7" fill="#ff2000"/>
<rect x="349" y="57" width="15" height="7" fill="#ff2800"/>
<rect x="364" y="57" width="29" height="7" fill="#ff1800"/>
<rect x="393" y="57" width="29" height="7" fill="#ff0800"/>
<rect x="422" y="57" width="14" height="7" fill="#ff0000"/>
<rect x="436" y="57" width="8" height="7" fill="#ff0000"/>
<rect x="444" y="57" width="255" height="7" fill="url(#g6)"/>
<rect x="152" y="64" width="8" height="9" fill="#ff0800"/>
<rect x="160" y="64" width="87" height="9" fill="#ff0000"/>
<rect x="247" y="64" width="29" height="9" fill="#ff1800"/>
<rect x="276" y="64" width="30" height="9" fill="#ff0800"/>
<rect x="306" y="64" width="130" height="9" fill="#ff0000"/>
<rect x="436" y="64" width="8" height="9" fill="#ff0000"/>
<rect x="444" y="64" width="255" height="9" fill="url(#g7)"/>
<rect x="152" y="73" width="37" height="10" fill="#ff0000"/>
<rect x="189" y="73" width="204" height="10" fill="#fa0000"/>
<rect x="393" y="73" width="43" height="10" fill="#ff0000"/>
<rect x="436" y="73" width="8" height="10" fill="#fc0000"/>
<rect x="444" y="73" width="255" height="10" fill="url(#g8)"/>
<rect x="109" y="84" width="590" height="64" fill="#000"/>
<path d="M144 85h3M276 85h3M361 85h3M390 85h3M420 85h3M437 85h3M566 85h3" stroke="#1c0024" stroke-width="2"/>
<path d="M127 85h3M135 85h3M141 85h3M156 85h3M179 85h9M214 85h3M223 85h3M253 85h3M302 85h3M317 85h3M338 85h2M355 85h3M384 85h3M399 85h3M478 85h6M510 85h3M537 85h3M546 85h2M604 85h3M616 85h3M622 85h3M628 85h3M648 85h3M660 85h3M666 85h3M693 85h6" stroke="#34004c" stroke-width="2"/>
<path d="M118 85h9M130 85h2M147 85h3M159 85h3M165 85h6M176 85h3M194 85h6M203 85h3M217 85h3M226 85h3M235 85h6M285 85h3M294 85h3M305 85h3M314 85h3M323 85h3M349 85h6M364 85h3M373 85h3M387 85h3M402 85h3M440 85h3M449 85h12M466 85h3M502 85h3M507 85h3M522 85h3M528 85h3M534 85h3M540 85h3M548 85h6M557 85h6M575 85h6M584 85h3M592 85h6M607 85h3M619 85h3M639 85h3M657 85h3M674 85h6M683 85h6" stroke="#4e008c" stroke-width="2"/>
<path d="M115 85h3M162 85h3M191 85h3M229 85h3M247 85h3M270 85h3M299 85h3M311 85h3M396 85h3M414 85h3M464 85h2M487 85h3M499 85h3M525 85h3M636 85h3M642 85h3M672 85h2M680 85h3M689 85h3" stroke="#4604cc" stroke-width="2"/>
<path d="M109 85h3M132 85h3M206 85h8M232 85h3M297 85h2M320 85h3M340 85h3M469 85h6M484 85h3M516 85h3M587 85h3M669 85h3" stroke="#2610fa" stroke-width="2"/>
<path d="M173 85h3M381 85h3M405 85h3M554 85h3M569 85h3M654 85h3" stroke="#0044ff" stroke-width="2"/>
<path d="M279 85h3M531 85h3" stroke="#0094ff" stroke-width="2"/>
<path d="M109 89h3M138 89h3M147 89h3M203 89h3M217 89h3M226 89h3M329 89h6M349 89h3M379 89h2M434 89h3M443 89h3M455 89h3M469 89h3M478 89h3M490 89h3M534 89h3M551 89h3M672 89h2" stroke="#1c0024" stroke-width="6"/>
<path d="M118 89h3M127 89h3M135 89h3M144 89h3M176 89h3M182 89h3M194 89h3M200 89h3M206 89h3M212 89h2M220 89h6M229 89h3M238 89h3M250 89h6M270 89h3M285 89h3M291 89h3M305 89h3M323 89h3M352 89h6M364 89h3M387 89h3M411 89h3M417 89h3M423 89h5M431 89h3M449 89h6M458 89h8M481 89h3M487 89h3M493 89h6M513 89h3M519 89h3M543 89h8M563 89h3M584 89h3M607 89h3M642 89h3M654 89h3M663 89h3M674 89h6M689 89h4" stroke="#34004c" stroke-width="6"/>
<path d="M132 89h3M141 89h3M150 89h3M159 89h3M165 89h3M173 89h3M209 89h3M232 89h3M247 89h3M256 89h2M261 89h3M299 89h3M317 89h3M335 89h3M340 89h3M358 89h6M370 89h9M381 89h6M390 89h3M402 89h3M420 89h3M437 89h6M446 89h3M466 89h3M472 89h6M505 89h2M525 89h9M537 89h6M569 89h9M587 89h3M592 89h6M601 89h3M610 89h6M622 89h3M631 89h5M639 89h3M648 89h3M660 89h3M683 89h3M693 89h6" stroke="#4e008c" stroke-width="6"/>
<path d="M115 89h3M130 89h2M153 89h6M168 89h3M185 89h3M197 89h3M244 89h3M258 89h3M267 89h3M279 89h6M302 89h3M314 89h3M320 89h3M338 89h2M346 89h3M393 89h3M408 89h3M414 89h3M484 89h3M510 89h3M516 89h3M522 89h3M554 89h3M619 89h3M628 89h3M651 89h3M686 89h3" stroke="#4604cc" stroke-width="6"/>
<path d="M112 89h3M162 89h3M171 89h2M188 89h3M264 89h3M367 89h3M405 89h3M557 89h3M590 89h2M604 89h3M616 89h3" stroke="#2610fa" stroke-width="6"/>
<path d="M276 89h3" stroke="#0044ff" stroke-width="6"/>
<path d="M156 95.5h3M282 95.5h3M288 95.5h3M379 95.5h2M554 95.5h3" stroke="#1c0024" stroke-width="7"/>
<path d="M147 95.5h3M238 95.5h3M256 95.5h2M270 95.5h3M335 95.5h3M484 95.5h3M516 95.5h3M551 95.5h3M639 95.5h6M654 95.5h3M683 95.5h3" stroke="#34004c" stroke-width="7"/>
<path d="M109 95.5h6M130 95.5h8M153 95.5h3M159 95.5h12M173 95.5h3M185 95.5h3M206 95.5h3M214 95.5h3M223 95.5h6M273 95.5h9M299 95.5h9M329 95.5h3M338 95.5h2M346 95.5h3M352 95.5h3M370 95.5h3M396 95.5h3M425 95.5h3M437 95.5h3M443 95.5h6M455 95.5h3M461 95.5h3M469 95.5h3M478 95.5h3M499 95.5h8M510 95.5h6M519 95.5h3M534 95.5h6M546 95.5h2M560 95.5h3M584 95.5h3M590 95.5h2M604 95.5h3M613 95.5h3M622 95.5h6M660 95.5h3M674 95.5h6M689 95.5h3" stroke="#4e008c" stroke-width="7"/>
<path d="M144 95.5h3M182 95.5h3M191 95.5h6M203 95.5h3M220 95.5h3M232 95.5h3M241 95.5h3M253 95.5h3M264 95.5h6M291 95.5h6M314 95.5h3M320 95.5h3M381 95.5h6M402 95.5h3M414 95.5h3M496 95.5h3M572 95.5h6M616 95.5h3M645 95.5h3M669 95.5h3" stroke="#4604cc" stroke-width="7"/>
<path d="M115 95.5h3M171 95.5h2M176 95.5h3M197 95.5h3M209 95.5h3M217 95.5h3M343 95.5h3M355 95.5h6M376 95.5h3M434 95.5h3M452 95.5h3M464 95.5h2M481 95.5h3M490 95.5h3M540 95.5h3M557 95.5h3M563 95.5h3M569 95.5h3M587 95.5h3M595 95.5h3M610 95.5h3M619 95.5h3M631 95.5h2M636 95.5h3M651 95.5h3" stroke="#2610fa" stroke-width="7"/>
<path d="M141 95.5h3M179 95.5h3M188 95.5h3M212 95.5h2M229 95.5h3M244 95.5h3M258 95.5h6M297 95.5h2M311 95.5h3M340 95.5h3M405 95.5h3M417 95.5h3M431 95.5h3M449 95.5h3M466 95.5h3M472 95.5h3M487 95.5h3M525 95.5h3M581 95.5h3M633 95.5h3M648 95.5h3M657 95.5h3M692 95.5h1" stroke="#0044ff" stroke-width="7"/>
<path d="M127 95.5h3M150 95.5h3M285 95.5h3M399 95.5h3M423 95.5h2M566 95.5h3M598 95.5h6M628 95.5h3M666 95.5h3" stroke="#0094ff" stroke-width="7"/>
<path d="M115 102.5h3M188 102.5h3M232 102.5h6M291 102.5h3M417 102.5h3M437 102.5h6M455 102.5h3M499 102.5h3M572 102.5h3M592 102.5h3M601 102.5h3M666 102.5h3" stroke="#1c0024" stroke-width="7"/>
<path d="M121 102.5h3M138 102.5h3M156 102.5h3M173 102.5h3M197 102.5h3M217 102.5h3M229 102.5h3M250 102.5h3M273 102.5h6M340 102.5h3M423 102.5h2M461 102.5h5M472 102.5h3M478 102.5h3M484 102.5h3M493 102.5h3M507 102.5h3M566 102.5h3M575 102.5h3M669 102.5h3" stroke="#34004c" stroke-width="7"/>
<path d="M112 102.5h3M127 102.5h5M144 102.5h6M165 102.5h3M212 102.5h2M226 102.5h3M241 102.5h3M261 102.5h9M279 102.5h3M297 102.5h2M314 102.5h9M335 102.5h3M352 102.5h6M361 102.5h3M373 102.5h3M384 102.5h15M402 102.5h6M414 102.5h3M449 102.5h6M469 102.5h3M487 102.5h6M502 102.5h3M516 102.5h6M525 102.5h3M537 102.5h3M557 102.5h3M587 102.5h3M598 102.5h3M604 102.5h3M616 102.5h6M625 102.5h3M639 102.5h6M660 102.5h3M674 102.5h3" stroke="#4e008c" stroke-width="7"/>
<path d="M118 102.5h3M141 102.5h3M153 102.5h3M179 102.5h3M256 102.5h2M285 102.5h3M329 102.5h3M364 102.5h3M370 102.5h3M381 102.5h3M411 102.5h3M434 102.5h3M528 102.5h3M534 102.5h3M560 102.5h3M633 102.5h3M645 102.5h3M680 102.5h3M686 102.5h3" stroke="#4604cc" stroke-width="7"/>
<path d="M203 102.5h3M311 102.5h3M443 102.5h3M657 102.5h3" stroke="#2610fa" stroke-width="7"/>
<path d="M338 102.5h2M581 102.5h3" stroke="#0044ff" stroke-width="7"/>
<path d="M127 110h3M150 110h3M156 110h3M179 110h3M203 110h3M264 110h3M270 110h3M285 110h3M297 110h2M338 110h2M384 110h3M396 110h3M420 110h3M464 110h2M505 110h2M513 110h3M519 110h3M534 110h3M557 110h6M578 110h3M587 110h3M595 110h3M613 110h6M631 110h2M651 110h3M663 110h3M683 110h3" stroke="#1c0024" stroke-width="8"/>
<path d="M162 110h3M176 110h3M182 110h3M214 110h6M247 110h3M299 110h3M323 110h6M405 110h3M411 110h3M431 110h3M507 110h3M516 110h3M525 110h3M548 110h3M554 110h3M622 110h3" stroke="#34004c" stroke-width="8"/>
<path d="M132 110h3M141 110h3M165 110h11M194 110h3M209 110h3M220 110h6M238 110h3M244 110h3M267 110h3M308 110h3M314 110h3M329 110h9M349 110h3M367 110h3M376 110h3M381 110h3M399 110h3M484 110h9M563 110h6M584 110h3M590 110h5M633 110h6M660 110h3M669 110h3M686 110h3" stroke="#4e008c" stroke-width="8"/>
<path d="M109 110h3M124 110h3M144 110h3M153 110h3M340 110h3M434 110h3M481 110h3M493 110h3M531 110h3M610 110h3M619 110h3M639 110h3M693 110h6" stroke="#4604cc" stroke-width="8"/>
<path d="M317 110h3M417 110h3M581 110h3M692 110h1" stroke="#2610fa" stroke-width="8"/>
<path d="M288 110h3M657 110h3M677 110h3" stroke="#0044ff" stroke-width="8"/>
<path d="M130 118h2M135 118h3M270 118h3M311 118h3M364 118h3M370 118h3M393 118h3M411 118h3M431 118h6M540 118h6M551 118h3M595 118h3M604 118h6M666 118h3M672 118h2" stroke="#1c0024" stroke-width="8"/>
<path d="M109 118h9M127 118h3M147 118h3M156 118h3M171 118h2M194 118h3M220 118h3M229 118h3M238 118h3M250 118h6M267 118h3M276 118h3M346 118h3M355 118h6M367 118h3M379 118h2M563 118h3M572 118h3M590 118h5M610 118h3M622 118h3M639 118h3" stroke="#34004c" stroke-width="8"/>
<path d="M118 118h3M182 118h12M200 118h6M223 118h3M232 118h3M256 118h2M273 118h3M285 118h3M305 118h6M314 118h3M326 118h6M340 118h3M376 118h3M381 118h3M387 118h6M402 118h3M443 118h3M458 118h8M481 118h3M490 118h3M499 118h6M510 118h3M537 118h3M560 118h3M569 118h3M581 118h3M613 118h3M628 118h3M633 118h6M642 118h3M651 118h3M660 118h3M669 118h3M674 118h3M686 118h6" stroke="#4e008c" stroke-width="8"/>
<path d="M159 118h6M209 118h3M244 118h6M264 118h3M279 118h3M291 118h3M302 118h3M469 118h3M505 118h5M516 118h3M531 118h3M546 118h2M557 118h3M578 118h3M631 118h2M648 118h3M692 118h1" stroke="#4604cc" stroke-width="8"/>
<path d="M282 118h3M323 118h3M335 118h3M423 118h2M446 118h3M513 118h3M548 118h3" stroke="#2610fa" stroke-width="8"/>
<path d="M153 118h3M449 118h3M484 118h3" stroke="#0044ff" stroke-width="8"/>
<path d="M121 125.5h3M130 125.5h2M188 125.5h3M220 125.5h3M244 125.5h3M273 125.5h3M323 125.5h3M440 125.5h3M461 125.5h3M537 125.5h6M546 125.5h2M581 125.5h3M607 125.5h3M689 125.5h3" stroke="#1c0024" stroke-width="7"/>
<path d="M115 125.5h3M124 125.5h6M144 125.5h3M308 125.5h3M411 125.5h6M522 125.5h3M595 125.5h3M625 125.5h3M636 125.5h3M680 125.5h3" stroke="#34004c" stroke-width="7"/>
<path d="M109 125.5h3M132 125.5h3M138 125.5h6M147 125.5h3M171 125.5h8M217 125.5h3M223 125.5h3M229 125.5h3M285 125.5h3M302 125.5h3M311 125.5h3M346 125.5h3M352 125.5h3M364 125.5h3M376 125.5h3M408 125.5h3M437 125.5h3M443 125.5h3M481 125.5h3M487 125.5h3M493 125.5h3M502 125.5h5M554 125.5h6M584 125.5h11M619 125.5h6M628 125.5h3M657 125.5h3M663 125.5h3M669 125.5h5" stroke="#4e008c" stroke-width="7"/>
<path d="M118 125.5h3M159 125.5h3M168 125.5h3M194 125.5h6M235 125.5h3M253 125.5h3M314 125.5h3M349 125.5h3M373 125.5h3M379 125.5h2M390 125.5h3M469 125.5h3M496 125.5h3M563 125.5h3" stroke="#4604cc" stroke-width="7"/>
<path d="M185 125.5h3M420 125.5h3M484 125.5h3M631 125.5h2" stroke="#2610fa" stroke-width="7"/>
<path d="M112 125.5h3M566 125.5h3" stroke="#0044ff" stroke-width="7"/>
<path d="M127 132h3M162 132h3M179 132h3M314 132h3M373 132h3M399 132h6M428 132h3M469 132h3M666 132h3M693 132h6" stroke="#1c0024" stroke-width="6"/>
<path d="M182 132h3M188 132h3M229 132h3M338 132h8M376 132h3M393 132h3M423 132h2M496 132h6M528 132h3M584 132h6M622 132h3M636 132h3M645 132h3M660 132h3" stroke="#34004c" stroke-width="6"/>
<path d="M176 132h3M209 132h8M220 132h9M238 132h9M250 132h3M256 132h2M279 132h12M294 132h3M317 132h3M335 132h3M352 132h6M370 132h3M384 132h3M390 132h3M396 132h3M405 132h3M414 132h3M437 132h12M452 132h6M472 132h3M478 132h12M505 132h5M513 132h6M534 132h3M560 132h3M572 132h3M578 132h6M590 132h2M601 132h3M613 132h3M628 132h3M633 132h3M639 132h3M683 132h9" stroke="#4e008c" stroke-width="6"/>
<path d="M217 132h3M270 132h3M291 132h3M302 132h3M311 132h3M323 132h6M361 132h6M458 132h3M531 132h3M548 132h3M674 132h6" stroke="#4604cc" stroke-width="6"/>
<path d="M144 132h3M434 132h3M466 132h3M525 132h3M592 132h6M607 132h3" stroke="#2610fa" stroke-width="6"/>
<path d="M502 132h3" stroke="#0044ff" stroke-width="6"/>
<path d="M250 137.5h3M288 137.5h3M364 137.5h3M373 137.5h3M411 137.5h3M575 137.5h3M604 137.5h3" stroke="#1c0024" stroke-width="5"/>
<path d="M194 137.5h3M206 137.5h3M332 137.5h3M399 137.5h3M428 137.5h3M543 137.5h5M551 137.5h3M636 137.5h3" stroke="#34004c" stroke-width="5"/>
<path d="M124 137.5h3M130 137.5h2M138 137.5h3M144 137.5h3M182 137.5h3M220 137.5h3M238 137.5h12M253 137.5h3M270 137.5h3M291 137.5h3M317 137.5h6M326 137.5h3M340 137.5h6M355 137.5h3M367 137.5h3M376 137.5h3M449 137.5h3M458 137.5h6M484 137.5h6M505 137.5h2M525 137.5h3M534 137.5h3M563 137.5h3M569 137.5h6M581 137.5h6M592 137.5h3M610 137.5h3M654 137.5h3M680 137.5h3M689 137.5h4" stroke="#4e008c" stroke-width="5"/>
<path d="M127 137.5h3M147 137.5h6M165 137.5h3M191 137.5h3M264 137.5h3M276 137.5h3M396 137.5h3M417 137.5h3M425 137.5h3M431 137.5h3M443 137.5h6M472 137.5h3M490 137.5h3M554 137.5h6M595 137.5h3M622 137.5h3M642 137.5h6M663 137.5h3" stroke="#4604cc" stroke-width="5"/>
<path d="M197 137.5h3M217 137.5h3M232 137.5h6M258 137.5h3M308 137.5h3M338 137.5h2M361 137.5h3M408 137.5h3M493 137.5h3M513 137.5h6M587 137.5h3M619 137.5h3M631 137.5h2M686 137.5h3" stroke="#2610fa" stroke-width="5"/>
<path d="M200 137.5h3M466 137.5h3M531 137.5h3M598 137.5h3M607 137.5h3M672 137.5h2" stroke="#0044ff" stroke-width="5"/>
<path d="M229 143h3M244 143h3M384 143h3M420 143h3" stroke="#1c0024" stroke-width="6"/>
<path d="M188 143h3M214 143h3M226 143h3M250 143h3M270 143h3M282 143h3M302 143h3M323 143h3M335 143h3M352 143h3M396 143h3M423 143h2M428 143h3M464 143h2M528 143h3M566 143h3M572 143h3M581 143h3M633 143h3M648 143h3M692 143h1" stroke="#34004c" stroke-width="6"/>
<path d="M112 143h6M130 143h2M162 143h3M168 143h8M182 143h3M209 143h3M232 143h3M264 143h6M285 143h3M294 143h3M308 143h3M332 143h3M355 143h6M367 143h3M373 143h3M387 143h6M399 143h3M434 143h6M458 143h3M478 143h6M496 143h3M505 143h8M519 143h3M531 143h6M540 143h3M548 143h3M554 143h3M598 143h3M604 143h3M616 143h9M631 143h2M636 143h3M651 143h3M660 143h9M672 143h2" stroke="#4e008c" stroke-width="6"/>
<path d="M132 143h3M141 143h3M150 143h3M194 143h3M200 143h6M256 143h2M311 143h3M361 143h6M376 143h5M487 143h3M522 143h3M543 143h3M560 143h3M578 143h3M584 143h3M590 143h2M595 143h3M601 143h3M639 143h3M645 143h3M669 143h3" stroke="#4604cc" stroke-width="6"/>
<path d="M176 143h3M238 143h3M253 143h3M261 143h3M343 143h3M393 143h3M408 143h6M446 143h3M469 143h3M516 143h3M537 143h3M546 143h2M557 143h3M587 143h3M607 143h3M642 143h3M693 143h6" stroke="#2610fa" stroke-width="6"/>
<path d="M138 143h3M326 143h3M405 143h3M452 143h3M551 143h3M683 143h3" stroke="#0044ff" stroke-width="6"/>
<path d="M291 143h3M329 143h3" stroke="#0094ff" stroke-width="6"/>
<rect x="109" y="146" width="590" height="2" fill="url(#g9)"/>
<path d="M119 147h1M121 147h1M124 147h1M128 147h1M130 147h1M141 147h1M163 147h2M181 147h2M199 147h1M203 147h3M207 147h1M216 147h2M228 147h1M230 147h1M239 147h3M255 147h1M259 147h1M260 147h1M266 147h1M273 147h1M281 147h1M286 147h3M292 147h1M298 147h1M309 147h1M327 147h1M332 147h1M336 147h1M363 147h1M366 147h1M367 147h1M370 147h1M371 147h1M379 147h2M387 147h1M388 147h1M392 147h1M403 147h2M408 147h2M413 147h1M419 147h1M421 147h1M442 147h1M458 147h1M464 147h1M466 147h1M468 147h1M486 147h1M494 147h1M503 147h1M521 147h1M539 147h1M544 147h1M560 147h1M565 147h1M571 147h3M576 147h1M577 147h1M582 147h2M584 147h2M589 147h1M594 147h1M600 147h1M610 147h3M617 147h1M636 147h2M689 147h2M692 147h1M693 147h1" stroke="#00b8ff" stroke-width="2" fill="none"/>
<path d="M111 147h1M125 147h1M147 147h1M148 147h1M163 147h1M171 147h1M178 147h1M183 147h1M201 147h1M208 147h1M210 147h3M215 147h1M221 147h1M223 147h2M232 147h1M236 147h1M238 147h1M239 147h1M240 147h1M249 147h1M274 147h1M284 147h1M288 147h3M306 147h1M308 147h1M309 147h1M321 147h1M328 147h1M330 147h1M333 147h1M339 147h1M344 147h3M352 147h1M385 147h1M396 147h1M402 147h1M405 147h1M414 147h3M426 147h1M440 147h1M449 147h1M454 147h3M463 147h1M467 147h1M471 147h1M476 147h2M480 147h1M481 147h2M500 147h1M510 147h1M512 147h1M514 147h1M524 147h3M537 147h1M540 147h1M542 147h2M548 147h2M560 147h1M572 147h1M577 147h1M599 147h1M603 147h1M609 147h4M613 147h3M622 147h1M661 147h1M666 147h1M668 147h1M672 147h2M688 147h1" stroke="#00f8b0" stroke-width="2" fill="none"/>
<rect x="109" y="149" width="590" height="64" fill="#000"/>
<path d="M144 150h3M232 150h3M247 150h3M311 150h3M320 150h3M478 150h3M642 150h3" stroke="#1c0024" stroke-width="2"/>
<path d="M112 150h3M176 150h3M305 150h6M332 150h3M340 150h3M370 150h3M437 150h3M481 150h3M499 150h3M601 150h6M666 150h3" stroke="#34004c" stroke-width="2"/>
<path d="M135 150h3M156 150h6M173 150h3M212 150h2M229 150h3M253 150h3M264 150h3M276 150h3M349 150h3M373 150h3M384 150h3M425 150h3M434 150h3M440 150h3M461 150h3M507 150h15M525 150h3M622 150h3M633 150h3M651 150h3M660 150h3M672 150h5M680 150h3M689 150h3" stroke="#4e008c" stroke-width="2"/>
<path d="M115 150h3M130 150h5M171 150h2M179 150h3M220 150h3M235 150h3M241 150h3M256 150h5M273 150h3M282 150h6M302 150h3M317 150h3M402 150h3M428 150h3M452 150h3M484 150h3M590 150h2M654 150h3" stroke="#4604cc" stroke-width="2"/>
<path d="M138 150h6M150 150h6M182 150h3M188 150h3M197 150h3M223 150h3M288 150h6M297 150h2M314 150h3M329 150h3M390 150h6M423 150h2M464 150h2M493 150h3M540 150h3M546 150h2M554 150h3M569 150h3M578 150h9M598 150h3M613 150h9M645 150h3M686 150h3M693 150h6" stroke="#2610fa" stroke-width="2"/>
<path d="M127 150h3M147 150h3M162 150h3M185 150h3M191 150h3M200 150h3M206 150h3M217 150h3M323 150h3M335 150h5M352 150h3M358 150h6M367 150h3M381 150h3M405 150h3M449 150h3M502 150h5M543 150h3M575 150h3M677 150h3M683 150h3" stroke="#0044ff" stroke-width="2"/>
<path d="M194 150h3M226 150h3M250 150h3M261 150h3M343 150h3M376 150h3M387 150h3M408 150h9M446 150h3M528 150h6M560 150h3M572 150h3M625 150h3M631 150h2" stroke="#0094ff" stroke-width="2"/>
<path d="M124 150h3M168 150h3M270 150h3M472 150h3M610 150h3" stroke="#00dcff" stroke-width="2"/>
<path d="M361 154h3M387 154h6M469 154h3M507 154h3M616 154h3" stroke="#1c0024" stroke-width="6"/>
<path d="M112 154h6M141 154h3M232 154h3M247 154h3M273 154h3M291 154h3M437 154h3M443 154h6M639 154h3M677 154h3M692 154h7" stroke="#34004c" stroke-width="6"/>
<path d="M127 154h3M135 154h3M144 154h9M165 154h3M185 154h3M209 154h5M220 154h9M235 154h6M270 154h3M282 154h6M294 154h3M302 154h15M326 154h3M346 154h3M352 154h6M364 154h6M373 154h6M381 154h6M408 154h3M414 154h3M420 154h3M431 154h3M440 154h3M472 154h3M490 154h3M502 154h5M510 154h3M519 154h3M540 154h3M546 154h5M572 154h3M595 154h3M613 154h3M619 154h3M625 154h8M636 154h3M657 154h3M663 154h6M686 154h3" stroke="#4e008c" stroke-width="6"/>
<path d="M118 154h3M138 154h3M156 154h3M171 154h2M179 154h3M188 154h3M194 154h3M206 154h3M217 154h3M253 154h3M297 154h2M323 154h3M340 154h6M370 154h3M449 154h3M466 154h3M481 154h3M493 154h3M499 154h3M516 154h3M543 154h3M557 154h3M563 154h3M601 154h3M607 154h3M633 154h3M648 154h3M680 154h3" stroke="#4604cc" stroke-width="6"/>
<path d="M132 154h3M168 154h3M173 154h6M241 154h6M258 154h6M299 154h3M487 154h3M528 154h3M534 154h3M575 154h6M598 154h3M683 154h3M689 154h3" stroke="#2610fa" stroke-width="6"/>
<path d="M121 154h6M159 154h3M197 154h3M279 154h3M332 154h6M349 154h3M379 154h2M475 154h3M537 154h3M592 154h3M604 154h3M654 154h3M660 154h3M669 154h5" stroke="#0044ff" stroke-width="6"/>
<path d="M109 154h3M288 154h3M317 154h3M423 154h2M455 154h3M569 154h3M590 154h2" stroke="#0094ff" stroke-width="6"/>
<path d="M651 154h3" stroke="#00dcff" stroke-width="6"/>
<path d="M443 160.5h3M548 160.5h3M660 160.5h3M693 160.5h6" stroke="#1c0024" stroke-width="7"/>
<path d="M124 160.5h3M132 160.5h3M138 160.5h3M235 160.5h3M273 160.5h3M279 160.5h6M302 160.5h3M346 160.5h3M370 160.5h3M440 160.5h3M452 160.5h3M490 160.5h3M510 160.5h3M534 160.5h3M610 160.5h3" stroke="#34004c" stroke-width="7"/>
<path d="M109 160.5h3M121 160.5h3M130 160.5h2M165 160.5h3M176 160.5h3M214 160.5h3M226 160.5h3M238 160.5h3M250 160.5h3M258 160.5h3M270 160.5h3M308 160.5h3M340 160.5h6M352 160.5h3M364 160.5h6M373 160.5h3M379 160.5h5M425 160.5h9M449 160.5h3M455 160.5h3M464 160.5h2M475 160.5h6M484 160.5h3M493 160.5h3M531 160.5h3M543 160.5h3M557 160.5h3M572 160.5h3M578 160.5h3M598 160.5h3M628 160.5h3M648 160.5h3M654 160.5h3M663 160.5h3M680 160.5h3M686 160.5h3M692 160.5h1" stroke="#4e008c" stroke-width="7"/>
<path d="M127 160.5h3M147 160.5h3M194 160.5h6M223 160.5h3M247 160.5h3M294 160.5h3M311 160.5h3M387 160.5h3M420 160.5h3M446 160.5h3M458 160.5h3M481 160.5h3M499 160.5h3M513 160.5h6M551 160.5h3M581 160.5h3M592 160.5h3M601 160.5h3M607 160.5h3M669 160.5h3M683 160.5h3" stroke="#4604cc" stroke-width="7"/>
<path d="M115 160.5h3M182 160.5h3M203 160.5h3M209 160.5h3M220 160.5h3M244 160.5h3M253 160.5h3M264 160.5h3M323 160.5h3M414 160.5h3M487 160.5h3M496 160.5h3M505 160.5h2M525 160.5h3M554 160.5h3M616 160.5h3M672 160.5h5" stroke="#2610fa" stroke-width="7"/>
<path d="M141 160.5h3M153 160.5h3M191 160.5h3M212 160.5h2M229 160.5h3M299 160.5h3M329 160.5h3M376 160.5h3M411 160.5h3M417 160.5h3M566 160.5h3M619 160.5h3M689 160.5h3" stroke="#0044ff" stroke-width="7"/>
<path d="M135 160.5h3M185 160.5h3M206 160.5h3M241 160.5h3M261 160.5h3M267 160.5h3M297 160.5h2M335 160.5h3M384 160.5h3M390 160.5h3M405 160.5h3M437 160.5h3M469 160.5h3M519 160.5h6M528 160.5h3M537 160.5h3M546 160.5h2M575 160.5h3M622 160.5h3M639 160.5h3M651 160.5h3" stroke="#0094ff" stroke-width="7"/>
<path d="M118 160.5h3M156 160.5h6M232 160.5h3M276 160.5h3M338 160.5h2M358 160.5h6M393 160.5h3M402 160.5h3M434 160.5h3M461 160.5h3M560 160.5h3M604 160.5h3M636 160.5h3" stroke="#00dcff" stroke-width="7"/>
<path d="M127 167.5h3M168 167.5h3M264 167.5h3M305 167.5h3M373 167.5h3M390 167.5h3M428 167.5h3M461 167.5h3M490 167.5h3M502 167.5h3M519 167.5h3M598 167.5h3M645 167.5h3" stroke="#1c0024" stroke-width="7"/>
<path d="M162 167.5h3M171 167.5h2M235 167.5h3M247 167.5h3M270 167.5h3M299 167.5h3M326 167.5h3M414 167.5h3M420 167.5h3M455 167.5h3M537 167.5h3M636 167.5h3" stroke="#34004c" stroke-width="7"/>
<path d="M141 167.5h3M156 167.5h3M179 167.5h3M229 167.5h3M244 167.5h3M273 167.5h3M279 167.5h3M285 167.5h3M376 167.5h3M469 167.5h3M478 167.5h3M507 167.5h3M522 167.5h6M543 167.5h3M548 167.5h3M604 167.5h6M669 167.5h5" stroke="#4e008c" stroke-width="7"/>
<path d="M109 167.5h3M135 167.5h3M150 167.5h3M200 167.5h3M232 167.5h3M253 167.5h3M387 167.5h3M417 167.5h3M557 167.5h3M584 167.5h3M619 167.5h3M633 167.5h3M639 167.5h3M677 167.5h3M683 167.5h3" stroke="#4604cc" stroke-width="7"/>
<path d="M241 167.5h3M276 167.5h3M431 167.5h6M546 167.5h2M554 167.5h3M575 167.5h3M616 167.5h3M631 167.5h2" stroke="#2610fa" stroke-width="7"/>
<path d="M115 167.5h6M291 167.5h3M317 167.5h3M399 167.5h3" stroke="#0044ff" stroke-width="7"/>
<path d="M171 175h2M182 175h3M220 175h3M241 175h3M294 175h3M390 175h3M461 175h3M481 175h6M537 175h3M680 175h3" stroke="#1c0024" stroke-width="8"/>
<path d="M156 175h3M235 175h6M320 175h3M396 175h3M464 175h2M472 175h3M516 175h3M601 175h3M693 175h6" stroke="#34004c" stroke-width="8"/>
<path d="M135 175h6M168 175h3M173 175h3M212 175h2M258 175h3M323 175h3M346 175h3M364 175h3M384 175h3M417 175h3M446 175h3M502 175h3M531 175h3M540 175h3M560 175h3M622 175h3M636 175h3M692 175h1" stroke="#4e008c" stroke-width="8"/>
<path d="M127 175h3M153 175h3M185 175h3M194 175h3M247 175h9M279 175h3M288 175h3M297 175h2M314 175h3M332 175h3M343 175h3M367 175h3M414 175h3M452 175h3M475 175h6M519 175h3M581 175h3M613 175h6M669 175h3" stroke="#4604cc" stroke-width="8"/>
<path d="M144 175h3M165 175h3M217 175h3M376 175h5M393 175h3M405 175h6M431 175h3M490 175h3M522 175h3M566 175h3M648 175h3M683 175h3" stroke="#2610fa" stroke-width="8"/>
<path d="M130 175h2M179 175h3M223 175h3M349 175h3M443 175h3M466 175h3M563 175h3M633 175h3M642 175h3" stroke="#0044ff" stroke-width="8"/>
<path d="M141 175h3M326 175h3M548 175h3" stroke="#0094ff" stroke-width="8"/>
<path d="M127 183h3M150 183h3M162 183h3M185 183h3M214 183h3M220 183h3M256 183h2M261 183h3M472 183h3M478 183h3M525 183h3M572 183h3M587 183h3M610 183h6M660 183h3" stroke="#1c0024" stroke-width="8"/>
<path d="M153 183h3M247 183h6M258 183h3M414 183h3M466 183h3M578 183h3M633 183h3" stroke="#34004c" stroke-width="8"/>
<path d="M112 183h3M121 183h3M144 183h3M156 183h3M171 183h2M200 183h3M217 183h3M232 183h3M253 183h3M264 183h6M276 183h3M294 183h3M317 183h3M346 183h3M358 183h3M370 183h3M387 183h3M420 183h3M507 183h3M519 183h3M548 183h3M595 183h3M628 183h3M674 183h3M693 183h6" stroke="#4e008c" stroke-width="8"/>
<path d="M109 183h3M188 183h3M203 183h3M288 183h3M299 183h3M320 183h3M335 183h3M373 183h3M393 183h3M425 183h3M446 183h3M458 183h3M625 183h3M636 183h3M648 183h3M689 183h3" stroke="#4604cc" stroke-width="8"/>
<path d="M135 183h9M191 183h3M308 183h3M352 183h3M379 183h2M423 183h2M505 183h2M534 183h3M563 183h3" stroke="#2610fa" stroke-width="8"/>
<path d="M168 183h3M273 183h3M367 183h3M411 183h3M616 183h3M631 183h2" stroke="#0044ff" stroke-width="8"/>
<path d="M390 183h3" stroke="#0094ff" stroke-width="8"/>
<path d="M229 190.5h3M253 190.5h3M297 190.5h2M311 190.5h3M338 190.5h2M361 190.5h3M417 190.5h3M469 190.5h3M537 190.5h3M543 190.5h3M575 190.5h3M590 190.5h2M622 190.5h3" stroke="#1c0024" stroke-width="7"/>
<path d="M188 190.5h3M197 190.5h3M206 190.5h3M214 190.5h3M232 190.5h3M256 190.5h2M314 190.5h3M420 190.5h3M440 190.5h3M466 190.5h3M478 190.5h3M557 190.5h3M572 190.5h3M683 190.5h3" stroke="#34004c" stroke-width="7"/>
<path d="M127 190.5h5M144 190.5h6M153 190.5h3M176 190.5h3M209 190.5h3M217 190.5h3M223 190.5h3M235 190.5h3M247 190.5h6M261 190.5h3M267 190.5h3M273 190.5h3M285 190.5h3M299 190.5h3M335 190.5h3M340 190.5h3M352 190.5h3M358 190.5h3M376 190.5h17M405 190.5h3M431 190.5h3M443 190.5h3M449 190.5h3M455 190.5h3M461 190.5h3M493 190.5h3M531 190.5h3M566 190.5h6M578 190.5h6M601 190.5h3M625 190.5h3M631 190.5h5M639 190.5h9M651 190.5h3M663 190.5h6M689 190.5h10" stroke="#4e008c" stroke-width="7"/>
<path d="M135 190.5h3M141 190.5h3M165 190.5h3M179 190.5h3M212 190.5h2M270 190.5h3M320 190.5h3M332 190.5h3M355 190.5h3M364 190.5h3M393 190.5h3M399 190.5h3M458 190.5h3M481 190.5h3M516 190.5h3M628 190.5h3M672 190.5h2" stroke="#4604cc" stroke-width="7"/>
<path d="M171 190.5h2M241 190.5h3M308 190.5h3M346 190.5h3M428 190.5h3M472 190.5h3M496 190.5h3" stroke="#2610fa" stroke-width="7"/>
<path d="M370 190.5h3M648 190.5h3" stroke="#0044ff" stroke-width="7"/>
<path d="M162 190.5h3M173 190.5h3M323 190.5h6M513 190.5h3" stroke="#0094ff" stroke-width="7"/>
<path d="M531 197h3" stroke="#1c0024" stroke-width="6"/>
<path d="M159 197h3M241 197h3M355 197h3M417 197h3M469 197h3M554 197h3" stroke="#34004c" stroke-width="6"/>
<path d="M112 197h3M118 197h3M156 197h3M179 197h3M194 197h3M203 197h3M226 197h3M253 197h3M279 197h3M285 197h3M299 197h6M314 197h3M340 197h3M361 197h3M367 197h3M379 197h2M399 197h3M411 197h3M428 197h3M455 197h3M584 197h3M607 197h3M645 197h3M693 197h6" stroke="#4e008c" stroke-width="6"/>
<path d="M144 197h9M162 197h3M182 197h3M235 197h3M291 197h3M317 197h3M346 197h3M423 197h2M472 197h3M487 197h3M499 197h6M516 197h3M522 197h3M613 197h3" stroke="#4604cc" stroke-width="6"/>
<path d="M130 197h2M176 197h3M220 197h3M282 197h3M311 197h3M326 197h6M343 197h3M446 197h3M458 197h6M466 197h3M490 197h3M528 197h3M540 197h3M566 197h3M572 197h3M639 197h3M654 197h3M674 197h3M686 197h3" stroke="#2610fa" stroke-width="6"/>
<path d="M132 197h6M212 197h2M273 197h6M308 197h3M563 197h3M592 197h3M642 197h3" stroke="#0044ff" stroke-width="6"/>
<path d="M352 197h3M437 197h3" stroke="#0094ff" stroke-width="6"/>
<path d="M458 202.5h3M566 202.5h3M622 202.5h3" stroke="#1c0024" stroke-width="5"/>
<path d="M264 202.5h3M332 202.5h3M376 202.5h3M578 202.5h3M642 202.5h3" stroke="#34004c" stroke-width="5"/>
<path d="M124 202.5h3M153 202.5h3M162 202.5h3M176 202.5h3M200 202.5h3M279 202.5h3M291 202.5h6M343 202.5h3M361 202.5h3M420 202.5h3M464 202.5h2M490 202.5h3M499 202.5h3M528 202.5h3M631 202.5h2M657 202.5h3M672 202.5h2M686 202.5h3" stroke="#4e008c" stroke-width="5"/>
<path d="M109 202.5h3M182 202.5h3M188 202.5h3M217 202.5h3M226 202.5h3M232 202.5h3M267 202.5h3M288 202.5h3M299 202.5h3M311 202.5h3M317 202.5h3M367 202.5h6M379 202.5h5M387 202.5h3M399 202.5h3M414 202.5h3M440 202.5h3M446 202.5h3M452 202.5h3M475 202.5h3M502 202.5h3M548 202.5h6M628 202.5h3M633 202.5h3" stroke="#4604cc" stroke-width="5"/>
<path d="M135 202.5h3M212 202.5h2M229 202.5h3M250 202.5h6M282 202.5h3M297 202.5h2M349 202.5h3M522 202.5h3M531 202.5h3M554 202.5h6M636 202.5h3M654 202.5h3M669 202.5h3M693 202.5h6" stroke="#2610fa" stroke-width="5"/>
<path d="M132 202.5h3M305 202.5h3M373 202.5h3M408 202.5h3M437 202.5h3M581 202.5h6M613 202.5h3M651 202.5h3" stroke="#0044ff" stroke-width="5"/>
<path d="M138 202.5h3M194 202.5h3M396 202.5h3M572 202.5h3M590 202.5h2" stroke="#0094ff" stroke-width="5"/>
<path d="M168 208h3" stroke="#1c0024" stroke-width="6"/>
<path d="M118 208h3M165 208h3M235 208h3M308 208h3M314 208h3M320 208h3M349 208h3M376 208h3M420 208h3M446 208h3M458 208h3M510 208h3M516 208h3M528 208h3M543 208h3M569 208h6M581 208h3M666 208h3M693 208h6" stroke="#34004c" stroke-width="6"/>
<path d="M115 208h3M138 208h3M144 208h3M185 208h3M191 208h3M232 208h3M238 208h3M253 208h3M261 208h3M273 208h3M294 208h3M326 208h3M332 208h3M358 208h6M367 208h3M373 208h3M381 208h6M402 208h3M472 208h6M481 208h3M487 208h9M519 208h3M534 208h6M554 208h3M563 208h3M575 208h3M584 208h3M590 208h8M607 208h3M613 208h3M631 208h2M663 208h3M672 208h2" stroke="#4e008c" stroke-width="6"/>
<path d="M121 208h3M141 208h3M150 208h3M162 208h3M203 208h3M220 208h3M291 208h3M297 208h2M317 208h3M323 208h3M343 208h3M390 208h3M469 208h3M499 208h6M557 208h3M616 208h3M625 208h3M645 208h3M657 208h3M692 208h1" stroke="#4604cc" stroke-width="6"/>
<path d="M171 208h2M206 208h3M212 208h8M229 208h3M241 208h3M338 208h5M346 208h3M379 208h2M399 208h3M417 208h3M431 208h6M452 208h3M522 208h3M546 208h2M598 208h3M636 208h3M654 208h3M669 208h3M680 208h6" stroke="#2610fa" stroke-width="6"/>
<path d="M109 208h3M159 208h3M176 208h3M250 208h3M393 208h3M408 208h3M449 208h3M455 208h3M513 208h3M525 208h3M587 208h3M601 208h3M633 208h3M642 208h3M651 208h3M660 208h3M677 208h3" stroke="#0044ff" stroke-width="6"/>
<path d="M124 208h3M147 208h3M173 208h3M387 208h3M496 208h3M505 208h2M686 208h3" stroke="#0094ff" stroke-width="6"/>
<path d="M200 208h3M258 208h3M443 208h3M466 208h3M566 208h3" stroke="#00dcff" stroke-width="6"/>
<path d="M200 212h3M370 212h3M390 212h3M619 212h3M651 212h6" stroke="#1c0024" stroke-width="2"/>
<path d="M115 212h6M182 212h3M223 212h3M253 212h3M273 212h3M308 212h3M314 212h3M361 212h3M373 212h3M379 212h5M466 212h3M540 212h3M578 212h3M601 212h3M642 212h3M648 212h3" stroke="#34004c" stroke-width="2"/>
<path d="M112 212h3M156 212h6M197 212h3M226 212h3M250 212h3M258 212h9M270 212h3M297 212h2M311 212h3M317 212h6M332 212h3M340 212h3M358 212h3M367 212h3M402 212h3M414 212h3M420 212h3M490 212h3M513 212h3M531 212h3M560 212h3M566 212h3M575 212h3M581 212h3M587 212h5M613 212h3M689 212h3" stroke="#4e008c" stroke-width="2"/>
<path d="M144 212h6M162 212h9M191 212h3M220 212h3M235 212h3M244 212h3M256 212h2M267 212h3M279 212h3M285 212h9M299 212h3M364 212h3M376 212h3M408 212h3M417 212h3M452 212h3M478 212h3M484 212h3M496 212h3M502 212h3M595 212h6M616 212h3M672 212h2M680 212h6" stroke="#4604cc" stroke-width="2"/>
<path d="M121 212h6M132 212h3M179 212h3M203 212h3M212 212h2M241 212h3M338 212h2M346 212h3M352 212h3M384 212h3M437 212h3M443 212h3M507 212h3M522 212h3M548 212h3M557 212h3M563 212h3M584 212h3M604 212h6M631 212h2M636 212h3M674 212h3" stroke="#2610fa" stroke-width="2"/>
<path d="M109 212h3M127 212h5M141 212h3M176 212h3M185 212h3M194 212h3M238 212h3M305 212h3M349 212h3M405 212h3M428 212h6M446 212h3M469 212h9M481 212h3M516 212h3M534 212h3M546 212h2M572 212h3M628 212h3M633 212h3M639 212h3M663 212h3M677 212h3M692 212h7" stroke="#0044ff" stroke-width="2"/>
<path d="M323 212h3M343 212h3M411 212h3M464 212h2M493 212h3M505 212h2M510 212h3M525 212h3M569 212h3" stroke="#0094ff" stroke-width="2"/>
<path d="M135 212h3M171 212h2M229 212h3M247 212h3M326 212h3M387 212h3M396 212h3M425 212h3M440 212h3M461 212h3M499 212h3M622 212h6M660 212h3M669 212h3" stroke="#00dcff" stroke-width="2"/>
<path d="M302 212h3M335 212h3M487 212h3" stroke="#00f0a0" stroke-width="2"/>
<rect x="439" y="214" width="9" height="8" fill="#b80000"/>
<rect x="448" y="214" width="35" height="8" fill="#b00000"/>
<rect x="439" y="222" width="9" height="7" fill="#b00000"/>
<rect x="448" y="222" width="35" height="7" fill="#a80000"/>
<rect x="439" y="229" width="9" height="7" fill="#b80000"/>
<rect x="448" y="229" width="35" height="7" fill="#b00000"/>
<rect x="439" y="236" width="9" height="8" fill="#c80000"/>
<rect x="448" y="236" width="35" height="8" fill="#c00000"/>
<rect x="439" y="244" width="9" height="8" fill="#d80000"/>
<rect x="448" y="244" width="35" height="8" fill="#d00000"/>
<rect x="439" y="252" width="9" height="7" fill="#ff0000"/>
<rect x="448" y="252" width="35" height="7" fill="#ff0000"/>
<rect x="439" y="259" width="9" height="7" fill="#ff0000"/>
<rect x="448" y="259" width="35" height="7" fill="#ff0000"/>
<rect x="439" y="266" width="9" height="6" fill="#ff0800"/>
<rect x="448" y="266" width="35" height="6" fill="#ff0000"/>
<rect x="439" y="272" width="9" height="6" fill="#ff2000"/>
<rect x="448" y="272" width="35" height="6" fill="#ff0000"/>
<rect x="587" y="214" width="112" height="8" fill="url(#g10)"/>
<rect x="587" y="222" width="112" height="7" fill="url(#g11)"/>
<rect x="587" y="229" width="112" height="7" fill="url(#g12)"/>
<rect x="587" y="236" width="112" height="8" fill="url(#g13)"/>
<rect x="587" y="244" width="112" height="8" fill="url(#g14)"/>
<rect x="587" y="252" width="112" height="7" fill="url(#g15)"/>
<rect x="587" y="259" width="112" height="7" fill="url(#g16)"/>
<rect x="587" y="266" width="112" height="6" fill="url(#g17)"/>
<rect x="587" y="272" width="112" height="6" fill="url(#g18)"/>
<rect x="103" y="279" width="596" height="2" fill="url(#g19)"/>
<rect x="103" y="281" width="596" height="6" fill="url(#g20)"/>
<rect x="103" y="287" width="596" height="7" fill="url(#g21)"/>
<rect x="103" y="294" width="596" height="7" fill="url(#g22)"/>
<rect x="103" y="301" width="596" height="8" fill="url(#g23)"/>
<rect x="103" y="309" width="596" height="8" fill="url(#g24)"/>
<rect x="103" y="317" width="596" height="7" fill="url(#g25)"/>
<rect x="103" y="324" width="596" height="6" fill="url(#g26)"/>
<rect x="103" y="330" width="596" height="6" fill="url(#g27)"/>
<rect x="103" y="336" width="596" height="7" fill="url(#g28)"/>
<rect x="152" y="357" width="8" height="9" fill="#ffa000"/>
<rect x="160" y="357" width="29" height="9" fill="#ff7800"/>
<rect x="189" y="357" width="15" height="9" fill="#ff8800"/>
<rect x="204" y="357" width="14" height="9" fill="#ff7800"/>
<rect x="218" y="357" width="29" height="9" fill="#ff7000"/>
<rect x="247" y="357" width="15" height="9" fill="#ff8000"/>
<rect x="262" y="357" width="14" height="9" fill="#ff9800"/>
<rect x="276" y="357" width="15" height="9" fill="#ffa800"/>
<rect x="291" y="357" width="15" height="9" fill="#ffb800"/>
<rect x="306" y="357" width="14" height="9" fill="#ffd800"/>
<rect x="320" y="357" width="15" height="9" fill="#ffe800"/>
<rect x="335" y="357" width="14" height="9" fill="#f8ff00"/>
<rect x="349" y="357" width="15" height="9" fill="#b0f800"/>
<rect x="364" y="357" width="14" height="9" fill="#88f800"/>
<rect x="378" y="357" width="15" height="9" fill="#40f000"/>
<rect x="393" y="357" width="14" height="9" fill="#00e830"/>
<rect x="407" y="357" width="15" height="9" fill="#00f080"/>
<rect x="422" y="357" width="14" height="9" fill="#00f0b0"/>
<rect x="436" y="357" width="8" height="9" fill="#00d8ff"/>
<rect x="444" y="357" width="9" height="9" fill="#0070ff"/>
<rect x="453" y="357" width="13" height="9" fill="#0090ff"/>
<rect x="152" y="366" width="8" height="14" fill="#ffc000"/>
<rect x="160" y="366" width="15" height="14" fill="#ffd800"/>
<rect x="175" y="366" width="29" height="14" fill="#ffe800"/>
<rect x="204" y="366" width="14" height="14" fill="#ffc800"/>
<rect x="218" y="366" width="15" height="14" fill="#ffa000"/>
<rect x="233" y="366" width="14" height="14" fill="#ff8000"/>
<rect x="247" y="366" width="44" height="14" fill="#ff7000"/>
<rect x="291" y="366" width="15" height="14" fill="#ff7800"/>
<rect x="306" y="366" width="14" height="14" fill="#ff9000"/>
<rect x="320" y="366" width="15" height="14" fill="#ffa000"/>
<rect x="335" y="366" width="14" height="14" fill="#ffc000"/>
<rect x="349" y="366" width="15" height="14" fill="#ffd800"/>
<rect x="364" y="366" width="14" height="14" fill="#fff000"/>
<rect x="378" y="366" width="15" height="14" fill="#f8f800"/>
<rect x="393" y="366" width="14" height="14" fill="#e8ff00"/>
<rect x="407" y="366" width="15" height="14" fill="#a0f800"/>
<rect x="422" y="366" width="14" height="14" fill="#90f800"/>
<rect x="436" y="366" width="8" height="14" fill="#60e800"/>
<rect x="444" y="366" width="9" height="14" fill="#a0f000"/>
<rect x="453" y="366" width="13" height="14" fill="#b0f000"/>
<rect x="152" y="380" width="8" height="7" fill="#ffc000"/>
<rect x="160" y="380" width="15" height="7" fill="#ffe000"/>
<rect x="175" y="380" width="29" height="7" fill="#fff000"/>
<rect x="204" y="380" width="14" height="7" fill="#ffc800"/>
<rect x="218" y="380" width="15" height="7" fill="#ffa000"/>
<rect x="233" y="380" width="14" height="7" fill="#ff8000"/>
<rect x="247" y="380" width="59" height="7" fill="#ff7000"/>
<rect x="306" y="380" width="29" height="7" fill="#ff7800"/>
<rect x="335" y="380" width="14" height="7" fill="#ff9000"/>
<rect x="349" y="380" width="15" height="7" fill="#ffa000"/>
<rect x="364" y="380" width="14" height="7" fill="#ffb000"/>
<rect x="378" y="380" width="15" height="7" fill="#ffc000"/>
<rect x="393" y="380" width="14" height="7" fill="#ffd000"/>
<rect x="407" y="380" width="15" height="7" fill="#ffe000"/>
<rect x="422" y="380" width="14" height="7" fill="#fff000"/>
<rect x="436" y="380" width="8" height="7" fill="#ffc800"/>
<rect x="444" y="380" width="9" height="7" fill="#ff7000"/>
<rect x="453" y="380" width="13" height="7" fill="#ff8000"/>
<rect x="152" y="387" width="8" height="6" fill="#ffc800"/>
<rect x="160" y="387" width="15" height="6" fill="#ffe800"/>
<rect x="175" y="387" width="29" height="6" fill="#fff000"/>
<rect x="204" y="387" width="14" height="6" fill="#ffc800"/>
<rect x="218" y="387" width="15" height="6" fill="#ffa000"/>
<rect x="233" y="387" width="14" height="6" fill="#ff7800"/>
<rect x="247" y="387" width="15" height="6" fill="#ff7000"/>
<rect x="262" y="387" width="14" height="6" fill="#ff6800"/>
<rect x="276" y="387" width="15" height="6" fill="#ff6000"/>
<rect x="291" y="387" width="15" height="6" fill="#ff5800"/>
<rect x="306" y="387" width="29" height="6" fill="#ff6000"/>
<rect x="335" y="387" width="14" height="6" fill="#ff6800"/>
<rect x="349" y="387" width="29" height="6" fill="#ff7000"/>
<rect x="378" y="387" width="15" height="6" fill="#ff7800"/>
<rect x="393" y="387" width="14" height="6" fill="#ff8800"/>
<rect x="407" y="387" width="15" height="6" fill="#ff9000"/>
<rect x="422" y="387" width="14" height="6" fill="#ff9800"/>
<rect x="436" y="387" width="8" height="6" fill="#ff4000"/>
<rect x="444" y="387" width="22" height="6" fill="#ff0000"/>
<rect x="152" y="393" width="8" height="5" fill="#ffd000"/>
<rect x="160" y="393" width="15" height="5" fill="#ffe800"/>
<rect x="175" y="393" width="29" height="5" fill="#fff000"/>
<rect x="204" y="393" width="14" height="5" fill="#ffd000"/>
<rect x="218" y="393" width="15" height="5" fill="#ffa000"/>
<rect x="233" y="393" width="14" height="5" fill="#ff7800"/>
<rect x="247" y="393" width="15" height="5" fill="#ff7000"/>
<rect x="262" y="393" width="14" height="5" fill="#ff5800"/>
<rect x="276" y="393" width="15" height="5" fill="#ff4800"/>
<rect x="291" y="393" width="44" height="5" fill="#ff4000"/>
<rect x="335" y="393" width="14" height="5" fill="#ff4800"/>
<rect x="349" y="393" width="15" height="5" fill="#ff5800"/>
<rect x="364" y="393" width="29" height="5" fill="#ff6000"/>
<rect x="393" y="393" width="14" height="5" fill="#ff7000"/>
<rect x="407" y="393" width="29" height="5" fill="#ff7800"/>
<rect x="436" y="393" width="8" height="5" fill="#ff2000"/>
<rect x="444" y="393" width="22" height="5" fill="#ff0000"/>
<rect x="152" y="398" width="8" height="5" fill="#ffe000"/>
<rect x="160" y="398" width="15" height="5" fill="#ffe800"/>
<rect x="175" y="398" width="29" height="5" fill="#fff000"/>
<rect x="204" y="398" width="14" height="5" fill="#ffd000"/>
<rect x="218" y="398" width="15" height="5" fill="#ffa000"/>
<rect x="233" y="398" width="14" height="5" fill="#ff7800"/>
<rect x="247" y="398" width="15" height="5" fill="#ff7000"/>
<rect x="262" y="398" width="14" height="5" fill="#ff5000"/>
<rect x="276" y="398" width="15" height="5" fill="#ff3800"/>
<rect x="291" y="398" width="29" height="5" fill="#ff3000"/>
<rect x="320" y="398" width="15" height="5" fill="#ff2800"/>
<rect x="335" y="398" width="14" height="5" fill="#ff3000"/>
<rect x="349" y="398" width="29" height="5" fill="#ff4000"/>
<rect x="378" y="398" width="15" height="5" fill="#ff4800"/>
<rect x="393" y="398" width="14" height="5" fill="#ff5800"/>
<rect x="407" y="398" width="29" height="5" fill="#ff6000"/>
<rect x="436" y="398" width="8" height="5" fill="#ff1000"/>
<rect x="444" y="398" width="22" height="5" fill="#ff0000"/>
<rect x="152" y="403" width="8" height="5" fill="#ffe000"/>
<rect x="160" y="403" width="29" height="5" fill="#ffe800"/>
<rect x="189" y="403" width="15" height="5" fill="#fff000"/>
<rect x="204" y="403" width="14" height="5" fill="#ffd800"/>
<rect x="218" y="403" width="15" height="5" fill="#ffa000"/>
<rect x="233" y="403" width="14" height="5" fill="#ff7000"/>
<rect x="247" y="403" width="15" height="5" fill="#ff6800"/>
<rect x="262" y="403" width="14" height="5" fill="#ff4800"/>
<rect x="276" y="403" width="15" height="5" fill="#ff3000"/>
<rect x="291" y="403" width="15" height="5" fill="#ff2000"/>
<rect x="306" y="403" width="14" height="5" fill="#ff1800"/>
<rect x="320" y="403" width="29" height="5" fill="#ff1000"/>
<rect x="349" y="403" width="29" height="5" fill="#ff2000"/>
<rect x="378" y="403" width="15" height="5" fill="#ff2800"/>
<rect x="393" y="403" width="14" height="5" fill="#ff4000"/>
<rect x="407" y="403" width="15" height="5" fill="#ff4800"/>
<rect x="422" y="403" width="14" height="5" fill="#ff5000"/>
<rect x="436" y="403" width="8" height="5" fill="#ff0800"/>
<rect x="444" y="403" width="22" height="5" fill="#ff0000"/>
<rect x="152" y="408" width="8" height="4" fill="#ffe000"/>
<rect x="160" y="408" width="44" height="4" fill="#ffe800"/>
<rect x="204" y="408" width="14" height="4" fill="#ffd000"/>
<rect x="218" y="408" width="15" height="4" fill="#ffa000"/>
<rect x="233" y="408" width="14" height="4" fill="#ff7000"/>
<rect x="247" y="408" width="15" height="4" fill="#ff6800"/>
<rect x="262" y="408" width="14" height="4" fill="#ff4000"/>
<rect x="276" y="408" width="15" height="4" fill="#ff2000"/>
<rect x="291" y="408" width="15" height="4" fill="#ff1000"/>
<rect x="306" y="408" width="14" height="4" fill="#ff0800"/>
<rect x="320" y="408" width="44" height="4" fill="#ff0000"/>
<rect x="364" y="408" width="14" height="4" fill="#ff0800"/>
<rect x="378" y="408" width="15" height="4" fill="#ff1000"/>
<rect x="393" y="408" width="14" height="4" fill="#ff1800"/>
<rect x="407" y="408" width="15" height="4" fill="#ff2000"/>
<rect x="422" y="408" width="14" height="4" fill="#ff2800"/>
<rect x="436" y="408" width="30" height="4" fill="#ff0000"/>
<rect x="152" y="412" width="8" height="4" fill="#ffd000"/>
<rect x="160" y="412" width="44" height="4" fill="#ffe000"/>
<rect x="204" y="412" width="14" height="4" fill="#ffc800"/>
<rect x="218" y="412" width="15" height="4" fill="#ffa000"/>
<rect x="233" y="412" width="14" height="4" fill="#ff7800"/>
<rect x="247" y="412" width="15" height="4" fill="#ff6800"/>
<rect x="262" y="412" width="14" height="4" fill="#ff4000"/>
<rect x="276" y="412" width="15" height="4" fill="#ff2000"/>
<rect x="291" y="412" width="15" height="4" fill="#ff0800"/>
<rect x="306" y="412" width="160" height="4" fill="#ff0000"/>
<rect x="152" y="416" width="8" height="2" fill="#ffb800"/>
<rect x="160" y="416" width="15" height="2" fill="#ffc000"/>
<rect x="175" y="416" width="29" height="2" fill="#ffc800"/>
<rect x="204" y="416" width="14" height="2" fill="#ffb000"/>
<rect x="218" y="416" width="15" height="2" fill="#ff9800"/>
<rect x="233" y="416" width="14" height="2" fill="#ff7800"/>
<rect x="247" y="416" width="15" height="2" fill="#ff7000"/>
<rect x="262" y="416" width="14" height="2" fill="#ff5000"/>
<rect x="276" y="416" width="15" height="2" fill="#ff3800"/>
<rect x="291" y="416" width="15" height="2" fill="#ff1800"/>
<rect x="306" y="416" width="160" height="2" fill="#ff0000"/>
<rect x="152" y="418" width="23" height="2" fill="#ff9000"/>
<rect x="175" y="418" width="29" height="2" fill="#ff9800"/>
<rect x="204" y="418" width="14" height="2" fill="#ff9000"/>
<rect x="218" y="418" width="15" height="2" fill="#ff8000"/>
<rect x="233" y="418" width="14" height="2" fill="#ff7000"/>
<rect x="247" y="418" width="15" height="2" fill="#ff6000"/>
<rect x="262" y="418" width="14" height="2" fill="#ff4000"/>
<rect x="276" y="418" width="30" height="2" fill="#ff2000"/>
<rect x="306" y="418" width="160" height="2" fill="#ff0000"/>
<rect x="466" y="357" width="233" height="9" fill="url(#g29)"/>
<rect x="466" y="366" width="233" height="14" fill="url(#g30)"/>
<rect x="466" y="380" width="233" height="7" fill="url(#g31)"/>
<rect x="466" y="387" width="233" height="6" fill="url(#g32)"/>
<rect x="466" y="393" width="233" height="5" fill="url(#g33)"/>
<rect x="466" y="398" width="233" height="5" fill="url(#g34)"/>
<rect x="466" y="403" width="233" height="5" fill="url(#g35)"/>
<rect x="466" y="408" width="233" height="4" fill="url(#g36)"/>
<rect x="466" y="412" width="233" height="3" fill="url(#g37)"/>
<rect x="466" y="415" width="233" height="2" fill="url(#g38)"/>
<rect x="466" y="417" width="233" height="2" fill="url(#g39)"/>
<rect x="466" y="419" width="233" height="1" fill="url(#g40)"/>
<rect x="103" y="434" width="596" height="64" fill="#000"/>
<path d="M106 438h4M129 438h1M132 438h1M135 438h1M138 438h1M141 438h1M143 438h1M148 438h1M170 438h4M198 438h1M200 438h2M205 438h1M217 438h1M220 438h1M225 438h1M233 438h1M250 438h1M255 438h1M262 438h1M270 438h1M272 438h2M286 438h1M310 438h1M347 438h1M351 438h2M354 438h1M359 438h1M368 438h1M373 438h2M377 438h5M385 438h2M401 438h1M411 438h1M425 438h2M428 438h1M432 438h1M467 438h1M471 438h1M480 438h1M483 438h1M485 438h1M491 438h1M495 438h1M506 438h1M509 438h2M532 438h1M543 438h2M548 438h1M556 438h1M559 438h3M570 438h1M586 438h1M588 438h1M590 438h1M595 438h1M608 438h1M628 438h1M630 438h2M636 438h1M640 438h1M649 438h1M660 438h1M669 438h1M677 438h1M681 438h2M685 438h1M692 438h3" stroke="#1c0024" stroke-width="8"/>
<path d="M115 438h2M124 438h1M142 438h1M145 438h1M149 438h1M159 438h1M204 438h1M216 438h1M219 438h1M227 438h1M235 438h1M257 438h1M265 438h3M277 438h1M291 438h1M319 438h1M322 438h1M330 438h1M348 438h1M353 438h1M357 438h1M393 438h1M402 438h1M409 438h2M422 438h1M437 438h1M444 438h1M455 438h1M458 438h1M461 438h2M487 438h1M505 438h1M517 438h1M522 438h3M529 438h1M535 438h1M552 438h1M566 438h1M572 438h3M578 438h1M614 438h1M623 438h1M654 438h1M661 438h4M673 438h1M690 438h2" stroke="#34004c" stroke-width="8"/>
<path d="M119 438h2M136 438h2M162 438h1M168 438h1M187 438h1M197 438h1M203 438h1M210 438h3M223 438h1M229 438h1M234 438h1M263 438h1M274 438h2M321 438h1M335 438h1M391 438h2M398 438h2M424 438h1M439 438h1M449 438h2M466 438h1M496 438h1M499 438h2M507 438h1M536 438h2M539 438h1M568 438h1M576 438h2M580 438h2M597 438h1M600 438h1M617 438h1M653 438h1M655 438h2M658 438h2M678 438h1M684 438h1" stroke="#4e008c" stroke-width="8"/>
<path d="M103 448.5h6M141 448.5h1M190 448.5h1M197 448.5h1M212 448.5h1M214 448.5h1M228 448.5h1M240 448.5h3M260 448.5h1M266 448.5h1M284 448.5h1M288 448.5h1M324 448.5h1M327 448.5h1M336 448.5h1M341 448.5h1M445 448.5h1M456 448.5h3M519 448.5h1M531 448.5h1M539 448.5h1M549 448.5h1M562 448.5h3M578 448.5h1M597 448.5h5M616 448.5h4M626 448.5h1M674 448.5h1M677 448.5h1M681 448.5h2M688 448.5h1M691 448.5h2M697 448.5h1" stroke="#1c0024" stroke-width="13"/>
<path d="M115 448.5h2M125 448.5h2M142 448.5h1M150 448.5h1M154 448.5h1M156 448.5h2M165 448.5h3M202 448.5h1M205 448.5h2M216 448.5h1M221 448.5h2M225 448.5h1M234 448.5h1M245 448.5h1M247 448.5h1M250 448.5h1M254 448.5h1M256 448.5h2M265 448.5h1M289 448.5h2M299 448.5h1M304 448.5h4M317 448.5h1M328 448.5h1M332 448.5h3M339 448.5h1M344 448.5h1M351 448.5h1M358 448.5h1M360 448.5h4M377 448.5h1M380 448.5h1M394 448.5h4M404 448.5h1M407 448.5h3M411 448.5h1M414 448.5h1M416 448.5h1M419 448.5h1M422 448.5h1M429 448.5h1M431 448.5h1M437 448.5h1M443 448.5h1M455 448.5h1M460 448.5h1M475 448.5h2M484 448.5h1M506 448.5h2M509 448.5h2M518 448.5h1M541 448.5h2M553 448.5h2M572 448.5h6M596 448.5h1M603 448.5h1M612 448.5h2M624 448.5h1M627 448.5h1M633 448.5h1M645 448.5h1M647 448.5h1M653 448.5h1M660 448.5h1M666 448.5h2M679 448.5h1M684 448.5h1M693 448.5h1" stroke="#34004c" stroke-width="13"/>
<path d="M112 448.5h1M117 448.5h1M123 448.5h2M130 448.5h1M132 448.5h2M137 448.5h2M146 448.5h1M149 448.5h1M152 448.5h2M169 448.5h1M171 448.5h1M175 448.5h2M186 448.5h1M191 448.5h2M195 448.5h1M208 448.5h2M213 448.5h1M215 448.5h1M218 448.5h2M223 448.5h1M239 448.5h1M244 448.5h1M248 448.5h2M253 448.5h1M259 448.5h1M263 448.5h1M267 448.5h1M279 448.5h1M283 448.5h1M287 448.5h1M300 448.5h1M302 448.5h1M310 448.5h1M312 448.5h5M318 448.5h2M325 448.5h2M337 448.5h2M340 448.5h1M342 448.5h1M349 448.5h1M352 448.5h3M357 448.5h1M359 448.5h1M364 448.5h2M367 448.5h1M369 448.5h1M373 448.5h2M398 448.5h1M402 448.5h2M405 448.5h1M413 448.5h1M423 448.5h1M426 448.5h1M428 448.5h1M430 448.5h1M434 448.5h2M439 448.5h1M442 448.5h1M444 448.5h1M454 448.5h1M459 448.5h1M461 448.5h3M469 448.5h2M482 448.5h1M488 448.5h1M490 448.5h2M500 448.5h1M503 448.5h1M505 448.5h1M513 448.5h1M524 448.5h2M535 448.5h1M547 448.5h1M551 448.5h1M557 448.5h1M561 448.5h1M567 448.5h3M581 448.5h4M586 448.5h1M588 448.5h1M591 448.5h2M594 448.5h1M602 448.5h1M604 448.5h1M608 448.5h1M614 448.5h1M623 448.5h1M632 448.5h1M642 448.5h1M646 448.5h1M648 448.5h4M656 448.5h1M662 448.5h1M669 448.5h1M671 448.5h3M675 448.5h1M680 448.5h1" stroke="#4e008c" stroke-width="13"/>
<path d="M151 448.5h1M185 448.5h1M230 448.5h1M233 448.5h1M330 448.5h2M348 448.5h1M381 448.5h1M399 448.5h1M418 448.5h1M478 448.5h1M485 448.5h3M654 448.5h1M685 448.5h1M690 448.5h1" stroke="#4604cc" stroke-width="13"/>
<path d="M522 448.5h1M676 448.5h1M687 448.5h1M694 448.5h1" stroke="#2610fa" stroke-width="13"/>
<path d="M144 458.5h1M152 458.5h1M184 458.5h1M204 458.5h2M220 458.5h1M252 458.5h1M280 458.5h2M319 458.5h1M339 458.5h1M344 458.5h2M369 458.5h2M378 458.5h1M380 458.5h1M386 458.5h1M473 458.5h1M511 458.5h1M545 458.5h2M553 458.5h1M598 458.5h1M612 458.5h1M621 458.5h1M658 458.5h1M660 458.5h1M696 458.5h2" stroke="#1c0024" stroke-width="7"/>
<path d="M116 458.5h1M118 458.5h1M124 458.5h1M133 458.5h1M136 458.5h1M176 458.5h1M195 458.5h1M209 458.5h1M223 458.5h1M226 458.5h3M233 458.5h1M237 458.5h1M242 458.5h1M247 458.5h1M255 458.5h3M265 458.5h3M287 458.5h1M297 458.5h1M299 458.5h2M303 458.5h1M306 458.5h1M313 458.5h1M320 458.5h1M328 458.5h1M371 458.5h1M396 458.5h1M407 458.5h1M409 458.5h2M412 458.5h1M417 458.5h1M422 458.5h1M428 458.5h1M442 458.5h1M446 458.5h1M452 458.5h2M460 458.5h1M479 458.5h1M486 458.5h1M488 458.5h1M492 458.5h1M494 458.5h1M506 458.5h1M535 458.5h3M544 458.5h1M548 458.5h1M563 458.5h1M571 458.5h1M576 458.5h2M580 458.5h2M592 458.5h2M595 458.5h1M609 458.5h1M622 458.5h1M625 458.5h1M627 458.5h3M631 458.5h3M643 458.5h1M647 458.5h2M652 458.5h1M659 458.5h1M662 458.5h3M669 458.5h2M677 458.5h1" stroke="#34004c" stroke-width="7"/>
<path d="M103 458.5h3M109 458.5h5M115 458.5h1M119 458.5h1M121 458.5h3M125 458.5h1M132 458.5h1M135 458.5h1M147 458.5h1M160 458.5h5M166 458.5h1M172 458.5h1M177 458.5h2M182 458.5h2M194 458.5h1M196 458.5h1M198 458.5h1M200 458.5h1M206 458.5h3M212 458.5h1M214 458.5h2M218 458.5h2M221 458.5h1M224 458.5h2M232 458.5h1M234 458.5h1M240 458.5h1M249 458.5h2M261 458.5h2M268 458.5h1M273 458.5h1M277 458.5h1M279 458.5h1M284 458.5h2M298 458.5h1M301 458.5h1M309 458.5h1M311 458.5h2M317 458.5h1M321 458.5h1M329 458.5h4M335 458.5h1M337 458.5h2M341 458.5h2M347 458.5h1M353 458.5h1M355 458.5h3M359 458.5h3M363 458.5h1M372 458.5h1M377 458.5h1M381 458.5h2M384 458.5h2M387 458.5h1M397 458.5h1M400 458.5h3M405 458.5h2M418 458.5h1M424 458.5h3M443 458.5h1M445 458.5h1M451 458.5h1M454 458.5h1M456 458.5h1M461 458.5h2M465 458.5h1M472 458.5h1M482 458.5h1M499 458.5h1M504 458.5h1M508 458.5h2M520 458.5h2M525 458.5h1M540 458.5h1M547 458.5h1M550 458.5h1M557 458.5h1M560 458.5h1M567 458.5h1M569 458.5h2M572 458.5h2M583 458.5h2M587 458.5h1M591 458.5h1M596 458.5h1M602 458.5h3M606 458.5h2M610 458.5h1M614 458.5h1M616 458.5h1M618 458.5h2M623 458.5h2M626 458.5h1M630 458.5h1M634 458.5h2M639 458.5h3M665 458.5h1M668 458.5h1M672 458.5h2M676 458.5h1M678 458.5h1M685 458.5h1M691 458.5h2M695 458.5h1M698 458.5h1" stroke="#4e008c" stroke-width="7"/>
<path d="M114 458.5h1M139 458.5h2M143 458.5h1M146 458.5h1M167 458.5h2M181 458.5h1M190 458.5h2M197 458.5h1M229 458.5h2M244 458.5h2M269 458.5h1M275 458.5h1M286 458.5h1M296 458.5h1M307 458.5h1M315 458.5h2M323 458.5h1M334 458.5h1M348 458.5h3M375 458.5h1M398 458.5h1M404 458.5h1M430 458.5h1M436 458.5h1M440 458.5h1M469 458.5h3M480 458.5h1M489 458.5h2M495 458.5h1M503 458.5h1M512 458.5h2M522 458.5h2M556 458.5h1M566 458.5h1M585 458.5h1M608 458.5h1M645 458.5h2M651 458.5h1M654 458.5h2M684 458.5h1M686 458.5h1M693 458.5h2" stroke="#4604cc" stroke-width="7"/>
<path d="M142 458.5h1M263 458.5h1M291 458.5h3M308 458.5h1M340 458.5h1M392 458.5h3M438 458.5h1M467 458.5h1M539 458.5h1M549 458.5h1M552 458.5h1M564 458.5h2M594 458.5h1M644 458.5h1" stroke="#2610fa" stroke-width="7"/>
<path d="M141 464.5h1M287 464.5h1M334 464.5h2M342 464.5h1M355 464.5h1M475 464.5h2M484 464.5h1M573 464.5h1M603 464.5h1" stroke="#1c0024" stroke-width="5"/>
<path d="M115 464.5h1M128 464.5h1M138 464.5h1M170 464.5h1M173 464.5h1M187 464.5h1M194 464.5h1M215 464.5h1M229 464.5h1M237 464.5h2M240 464.5h1M243 464.5h2M248 464.5h1M251 464.5h1M263 464.5h1M270 464.5h2M276 464.5h1M280 464.5h3M285 464.5h1M291 464.5h1M301 464.5h1M307 464.5h1M316 464.5h1M332 464.5h1M348 464.5h2M351 464.5h1M363 464.5h1M377 464.5h1M410 464.5h2M413 464.5h1M421 464.5h1M489 464.5h1M493 464.5h1M518 464.5h2M521 464.5h1M532 464.5h1M537 464.5h1M543 464.5h1M546 464.5h1M556 464.5h3M604 464.5h1M621 464.5h2M648 464.5h1M656 464.5h2M659 464.5h2M686 464.5h1M693 464.5h1" stroke="#34004c" stroke-width="5"/>
<path d="M110 464.5h2M114 464.5h1M116 464.5h1M119 464.5h3M134 464.5h2M139 464.5h1M146 464.5h2M149 464.5h1M156 464.5h2M161 464.5h1M167 464.5h1M169 464.5h1M171 464.5h1M181 464.5h1M183 464.5h2M197 464.5h1M206 464.5h1M210 464.5h1M216 464.5h1M221 464.5h2M228 464.5h1M233 464.5h2M245 464.5h2M250 464.5h1M258 464.5h2M264 464.5h2M267 464.5h1M286 464.5h1M289 464.5h1M292 464.5h2M296 464.5h1M303 464.5h2M310 464.5h2M314 464.5h2M323 464.5h1M325 464.5h1M338 464.5h1M341 464.5h1M352 464.5h1M358 464.5h2M364 464.5h1M366 464.5h1M387 464.5h1M396 464.5h1M400 464.5h4M408 464.5h2M415 464.5h5M430 464.5h2M437 464.5h2M441 464.5h3M453 464.5h1M463 464.5h3M491 464.5h2M494 464.5h1M500 464.5h1M506 464.5h2M528 464.5h2M533 464.5h1M540 464.5h2M547 464.5h1M559 464.5h3M566 464.5h1M574 464.5h1M576 464.5h1M578 464.5h2M582 464.5h1M594 464.5h2M597 464.5h3M609 464.5h1M614 464.5h1M617 464.5h1M627 464.5h1M629 464.5h3M635 464.5h2M638 464.5h1M640 464.5h2M643 464.5h2M651 464.5h1M661 464.5h2M666 464.5h1M670 464.5h1M677 464.5h2M685 464.5h1M691 464.5h1M695 464.5h3" stroke="#4e008c" stroke-width="5"/>
<path d="M109 464.5h1M118 464.5h1M122 464.5h1M129 464.5h2M133 464.5h1M142 464.5h1M153 464.5h3M162 464.5h2M165 464.5h1M175 464.5h1M180 464.5h1M185 464.5h2M189 464.5h2M192 464.5h2M195 464.5h1M199 464.5h2M204 464.5h2M207 464.5h1M209 464.5h1M211 464.5h2M218 464.5h1M232 464.5h1M236 464.5h1M239 464.5h1M241 464.5h1M252 464.5h3M256 464.5h2M260 464.5h1M269 464.5h1M272 464.5h2M288 464.5h1M290 464.5h1M294 464.5h2M300 464.5h1M305 464.5h1M308 464.5h1M318 464.5h1M320 464.5h3M328 464.5h1M345 464.5h1M350 464.5h1M353 464.5h2M362 464.5h1M367 464.5h1M369 464.5h2M372 464.5h1M378 464.5h1M381 464.5h1M383 464.5h4M390 464.5h1M392 464.5h2M398 464.5h1M414 464.5h1M422 464.5h7M435 464.5h2M439 464.5h1M449 464.5h1M455 464.5h1M467 464.5h2M470 464.5h2M473 464.5h1M479 464.5h2M483 464.5h1M485 464.5h2M498 464.5h1M501 464.5h1M524 464.5h1M542 464.5h1M549 464.5h1M552 464.5h3M562 464.5h4M571 464.5h2M580 464.5h1M585 464.5h1M588 464.5h2M592 464.5h1M600 464.5h1M618 464.5h2M626 464.5h1M628 464.5h1M632 464.5h1M649 464.5h2M665 464.5h1M668 464.5h1M671 464.5h1M674 464.5h1M692 464.5h1M698 464.5h1" stroke="#4604cc" stroke-width="5"/>
<path d="M125 464.5h2M179 464.5h1M182 464.5h1M188 464.5h1M191 464.5h1M203 464.5h1M226 464.5h1M230 464.5h1M235 464.5h1M247 464.5h1M266 464.5h1M277 464.5h1M283 464.5h1M297 464.5h1M306 464.5h1M331 464.5h1M368 464.5h1M405 464.5h1M429 464.5h1M459 464.5h1M466 464.5h1M472 464.5h1M478 464.5h1M490 464.5h1M505 464.5h1M514 464.5h1M527 464.5h1M570 464.5h1M584 464.5h1M586 464.5h1M593 464.5h1M633 464.5h1M645 464.5h1M647 464.5h1M658 464.5h1M664 464.5h1M667 464.5h1M683 464.5h2" stroke="#2610fa" stroke-width="5"/>
<path d="M113 464.5h1M231 464.5h1M375 464.5h1M382 464.5h1M391 464.5h1M420 464.5h1M477 464.5h1M601 464.5h1M680 464.5h3" stroke="#0044ff" stroke-width="5"/>
<path d="M250 469.5h1M311 469.5h1M465 469.5h1M523 469.5h1M596 469.5h1M640 469.5h1" stroke="#1c0024" stroke-width="5"/>
<path d="M131 469.5h1M146 469.5h1M148 469.5h1M169 469.5h2M181 469.5h1M185 469.5h1M195 469.5h3M205 469.5h1M207 469.5h2M215 469.5h1M225 469.5h1M236 469.5h1M244 469.5h1M248 469.5h1M259 469.5h1M288 469.5h1M294 469.5h1M303 469.5h3M310 469.5h1M317 469.5h1M324 469.5h2M328 469.5h1M330 469.5h2M333 469.5h1M345 469.5h2M357 469.5h1M363 469.5h1M370 469.5h1M374 469.5h1M380 469.5h1M383 469.5h1M387 469.5h1M407 469.5h1M412 469.5h1M419 469.5h1M449 469.5h1M452 469.5h1M461 469.5h1M464 469.5h1M511 469.5h1M531 469.5h2M538 469.5h1M575 469.5h1M581 469.5h1M591 469.5h2M609 469.5h1M617 469.5h1M620 469.5h2M625 469.5h2M635 469.5h2M641 469.5h1M645 469.5h2M670 469.5h1M673 469.5h2M676 469.5h2M679 469.5h1M684 469.5h1M694 469.5h1" stroke="#34004c" stroke-width="5"/>
<path d="M114 469.5h4M119 469.5h1M123 469.5h2M139 469.5h1M144 469.5h1M150 469.5h3M156 469.5h1M166 469.5h1M189 469.5h3M199 469.5h1M214 469.5h1M227 469.5h2M233 469.5h1M240 469.5h3M252 469.5h1M267 469.5h1M269 469.5h1M274 469.5h2M282 469.5h3M287 469.5h1M291 469.5h1M296 469.5h5M309 469.5h1M316 469.5h1M318 469.5h1M323 469.5h1M327 469.5h1M332 469.5h1M341 469.5h1M343 469.5h1M353 469.5h2M358 469.5h1M368 469.5h2M372 469.5h2M378 469.5h2M382 469.5h1M390 469.5h1M395 469.5h2M401 469.5h1M409 469.5h1M411 469.5h1M413 469.5h2M417 469.5h1M425 469.5h1M430 469.5h1M432 469.5h1M435 469.5h1M437 469.5h3M442 469.5h1M445 469.5h1M448 469.5h1M456 469.5h1M459 469.5h1M462 469.5h1M477 469.5h2M485 469.5h1M495 469.5h1M497 469.5h1M502 469.5h5M514 469.5h1M520 469.5h2M525 469.5h1M529 469.5h2M535 469.5h1M548 469.5h1M552 469.5h2M577 469.5h4M582 469.5h1M584 469.5h2M589 469.5h1M595 469.5h1M604 469.5h1M610 469.5h1M613 469.5h1M622 469.5h2M631 469.5h1M634 469.5h1M637 469.5h3M653 469.5h1M663 469.5h1M665 469.5h1M667 469.5h1M671 469.5h1M675 469.5h1M681 469.5h1M683 469.5h1M688 469.5h1M691 469.5h2M696 469.5h2" stroke="#4e008c" stroke-width="5"/>
<path d="M106 469.5h4M111 469.5h1M120 469.5h2M126 469.5h1M128 469.5h3M140 469.5h4M145 469.5h1M147 469.5h1M158 469.5h1M162 469.5h4M168 469.5h1M173 469.5h1M177 469.5h1M186 469.5h1M188 469.5h1M193 469.5h1M200 469.5h1M203 469.5h1M209 469.5h1M211 469.5h3M216 469.5h1M229 469.5h1M232 469.5h1M237 469.5h2M243 469.5h1M245 469.5h1M251 469.5h1M253 469.5h2M256 469.5h1M258 469.5h1M266 469.5h1M272 469.5h1M277 469.5h2M285 469.5h2M308 469.5h1M312 469.5h1M315 469.5h1M321 469.5h2M329 469.5h1M339 469.5h1M344 469.5h1M347 469.5h1M356 469.5h1M361 469.5h1M365 469.5h3M371 469.5h1M376 469.5h1M385 469.5h1M393 469.5h2M403 469.5h4M410 469.5h1M420 469.5h2M426 469.5h1M436 469.5h1M440 469.5h2M450 469.5h1M463 469.5h1M471 469.5h1M473 469.5h1M480 469.5h2M487 469.5h2M493 469.5h1M501 469.5h1M512 469.5h2M528 469.5h1M533 469.5h1M543 469.5h1M549 469.5h2M555 469.5h1M558 469.5h2M561 469.5h3M569 469.5h5M576 469.5h1M588 469.5h1M593 469.5h2M597 469.5h1M599 469.5h3M608 469.5h1M627 469.5h2M647 469.5h2M652 469.5h1M654 469.5h3M668 469.5h1M680 469.5h1M687 469.5h1M690 469.5h1M698 469.5h1" stroke="#4604cc" stroke-width="5"/>
<path d="M136 469.5h1M149 469.5h1M154 469.5h2M174 469.5h2M179 469.5h2M192 469.5h1M198 469.5h1M201 469.5h1M226 469.5h1M230 469.5h1M234 469.5h1M249 469.5h1M257 469.5h1M262 469.5h3M280 469.5h2M302 469.5h1M306 469.5h1M313 469.5h2M326 469.5h1M340 469.5h1M381 469.5h1M384 469.5h1M391 469.5h2M397 469.5h2M408 469.5h1M423 469.5h2M427 469.5h1M443 469.5h1M455 469.5h1M460 469.5h1M472 469.5h1M476 469.5h1M479 469.5h1M486 469.5h1M498 469.5h1M515 469.5h1M524 469.5h1M551 469.5h1M567 469.5h1M574 469.5h1M590 469.5h1M605 469.5h1M611 469.5h2M616 469.5h1M618 469.5h1M633 469.5h1M669 469.5h1M678 469.5h1M686 469.5h1" stroke="#2610fa" stroke-width="5"/>
<path d="M171 469.5h2M183 469.5h2M202 469.5h1M247 469.5h1M255 469.5h1M348 469.5h5M360 469.5h1M386 469.5h1M453 469.5h2M489 469.5h2M494 469.5h1M540 469.5h1M546 469.5h1M556 469.5h2M564 469.5h1M614 469.5h1M649 469.5h2M657 469.5h2" stroke="#0044ff" stroke-width="5"/>
<path d="M230 475h1M246 475h1M378 475h1M448 475h1M476 475h1M519 475h1M560 475h1M586 475h1M600 475h2" stroke="#1c0024" stroke-width="6"/>
<path d="M112 475h1M121 475h1M132 475h1M145 475h1M147 475h1M151 475h2M158 475h1M161 475h1M180 475h1M208 475h2M212 475h1M231 475h2M239 475h4M244 475h1M252 475h1M257 475h2M272 475h1M276 475h1M290 475h1M307 475h1M324 475h2M331 475h4M358 475h1M365 475h1M372 475h2M380 475h4M390 475h3M418 475h1M424 475h1M431 475h1M468 475h1M480 475h1M485 475h1M488 475h2M493 475h1M499 475h1M504 475h1M508 475h1M515 475h1M518 475h1M520 475h1M523 475h1M537 475h1M553 475h1M559 475h1M572 475h2M587 475h1M595 475h1M610 475h1M621 475h2M634 475h1M645 475h1M665 475h1M681 475h1M692 475h1M694 475h2M698 475h1" stroke="#34004c" stroke-width="6"/>
<path d="M103 475h3M119 475h2M122 475h1M137 475h1M140 475h2M148 475h2M153 475h2M156 475h1M160 475h1M165 475h3M171 475h1M174 475h2M178 475h2M185 475h1M189 475h5M200 475h1M211 475h1M216 475h2M223 475h3M228 475h1M254 475h1M260 475h1M270 475h2M280 475h1M285 475h3M289 475h1M295 475h1M300 475h2M304 475h1M308 475h3M323 475h1M338 475h1M345 475h1M349 475h2M352 475h1M356 475h1M362 475h1M376 475h2M386 475h1M398 475h1M401 475h1M403 475h4M408 475h1M410 475h2M419 475h3M426 475h1M429 475h1M436 475h1M438 475h2M450 475h1M453 475h2M456 475h1M467 475h1M472 475h1M478 475h1M486 475h1M491 475h2M498 475h1M510 475h1M513 475h1M517 475h1M521 475h1M526 475h1M529 475h1M533 475h1M536 475h1M542 475h2M545 475h1M554 475h1M566 475h2M570 475h1M579 475h1M582 475h1M596 475h1M599 475h1M602 475h2M608 475h1M624 475h1M627 475h2M631 475h1M635 475h1M639 475h1M653 475h1M661 475h1M667 475h1M669 475h1M675 475h2M679 475h1M687 475h3M693 475h1" stroke="#4e008c" stroke-width="6"/>
<path d="M106 475h3M110 475h2M113 475h1M123 475h2M131 475h1M134 475h1M138 475h2M143 475h1M150 475h1M169 475h2M176 475h1M181 475h2M195 475h2M201 475h1M205 475h1M213 475h1M215 475h1M219 475h3M226 475h1M235 475h2M247 475h2M251 475h1M263 475h2M277 475h3M291 475h1M297 475h1M314 475h2M317 475h2M320 475h2M326 475h3M344 475h1M355 475h1M359 475h1M361 475h1M367 475h1M374 475h1M384 475h1M393 475h1M395 475h3M400 475h1M414 475h2M417 475h1M422 475h1M425 475h1M440 475h1M444 475h4M451 475h1M455 475h1M458 475h1M460 475h2M463 475h1M471 475h1M475 475h1M477 475h1M481 475h1M484 475h1M487 475h1M490 475h1M501 475h3M505 475h1M509 475h1M524 475h2M539 475h3M549 475h2M561 475h2M568 475h1M574 475h1M580 475h1M597 475h1M604 475h2M607 475h1M617 475h3M623 475h1M626 475h1M630 475h1M632 475h2M643 475h1M646 475h1M651 475h1M659 475h1M663 475h2M668 475h1M677 475h2M680 475h1M682 475h1M685 475h2M690 475h1" stroke="#4604cc" stroke-width="6"/>
<path d="M116 475h1M130 475h1M142 475h1M155 475h1M255 475h1M259 475h1M306 475h1M312 475h1M316 475h1M340 475h1M351 475h1M353 475h1M357 475h1M385 475h1M399 475h1M409 475h1M412 475h2M427 475h2M432 475h2M441 475h1M449 475h1M479 475h1M494 475h4M530 475h1M544 475h1M584 475h2M598 475h1M620 475h1M640 475h3M655 475h2" stroke="#2610fa" stroke-width="6"/>
<path d="M292 475h2M296 475h1M313 475h1M341 475h1M366 475h1M379 475h1M514 475h1M555 475h3" stroke="#0044ff" stroke-width="6"/>
<path d="M133 480h1M137 480h1M152 480h1M214 480h2M227 480h1M237 480h1M281 480h1M315 480h1M368 480h1M371 480h1M384 480h1M406 480h1M483 480h2M661 480h1" stroke="#1c0024" stroke-width="4"/>
<path d="M103 480h6M116 480h1M129 480h1M132 480h1M140 480h3M156 480h1M159 480h1M161 480h1M164 480h1M167 480h2M180 480h1M182 480h2M186 480h1M194 480h2M216 480h2M219 480h1M234 480h1M239 480h2M242 480h1M262 480h1M267 480h1M276 480h1M282 480h2M285 480h1M312 480h1M314 480h1M326 480h1M332 480h1M337 480h3M346 480h1M352 480h5M367 480h1M370 480h1M411 480h2M422 480h2M436 480h1M442 480h1M447 480h1M461 480h1M479 480h1M482 480h1M495 480h3M503 480h1M506 480h2M527 480h1M542 480h2M547 480h1M549 480h3M553 480h1M558 480h3M563 480h2M567 480h1M569 480h1M579 480h1M602 480h1M606 480h2M613 480h1M624 480h1M652 480h1M655 480h1M667 480h1M673 480h1" stroke="#34004c" stroke-width="4"/>
<path d="M111 480h1M121 480h3M125 480h1M127 480h2M139 480h1M144 480h3M154 480h1M158 480h1M162 480h1M165 480h2M170 480h1M174 480h4M190 480h1M197 480h2M202 480h1M204 480h2M218 480h1M223 480h3M228 480h2M233 480h1M248 480h4M254 480h2M259 480h1M266 480h1M268 480h3M277 480h4M286 480h1M298 480h1M300 480h2M304 480h1M307 480h1M317 480h1M334 480h2M345 480h1M350 480h2M361 480h1M369 480h1M374 480h1M376 480h1M379 480h2M382 480h1M385 480h1M389 480h1M393 480h6M400 480h1M403 480h1M407 480h3M415 480h4M445 480h2M451 480h4M463 480h1M465 480h3M469 480h1M475 480h3M491 480h4M505 480h1M510 480h2M513 480h1M519 480h1M522 480h2M525 480h1M533 480h1M536 480h1M540 480h1M544 480h1M548 480h1M562 480h1M565 480h1M580 480h2M586 480h1M589 480h1M591 480h2M595 480h4M608 480h1M622 480h2M629 480h1M636 480h1M643 480h8M653 480h2M656 480h4M663 480h1M665 480h1M672 480h1M676 480h2M680 480h3M687 480h1M691 480h3M697 480h1" stroke="#4e008c" stroke-width="4"/>
<path d="M113 480h1M115 480h1M117 480h3M126 480h1M134 480h2M147 480h1M153 480h1M155 480h1M173 480h1M179 480h1M189 480h1M199 480h2M203 480h1M208 480h3M212 480h1M230 480h2M235 480h2M238 480h1M241 480h1M243 480h1M258 480h1M261 480h1M264 480h1M272 480h4M284 480h1M288 480h1M305 480h2M319 480h1M328 480h3M340 480h2M347 480h3M358 480h2M378 480h1M401 480h1M427 480h6M437 480h1M448 480h3M457 480h1M459 480h1M470 480h1M472 480h3M485 480h1M487 480h1M489 480h2M498 480h1M502 480h1M512 480h1M517 480h1M528 480h3M532 480h1M537 480h1M539 480h1M554 480h4M570 480h1M574 480h5M584 480h2M590 480h1M599 480h1M603 480h1M620 480h2M625 480h1M632 480h1M640 480h3M651 480h1M662 480h1M666 480h1M668 480h1M675 480h1M694 480h1M698 480h1" stroke="#4604cc" stroke-width="4"/>
<path d="M110 480h1M130 480h1M136 480h1M149 480h1M221 480h2M246 480h2M287 480h1M293 480h1M320 480h2M323 480h1M327 480h1M331 480h1M342 480h1M388 480h1M402 480h1M414 480h1M420 480h1M424 480h1M439 480h1M468 480h1M526 480h1M531 480h1M541 480h1M552 480h1M561 480h1M588 480h1M600 480h1M605 480h1M619 480h1M630 480h1M669 480h1M684 480h1M688 480h1" stroke="#2610fa" stroke-width="4"/>
<path d="M120 480h1M181 480h1M292 480h1M309 480h3M322 480h1M344 480h1M364 480h1M383 480h1M387 480h1M391 480h2M413 480h1M438 480h1M538 480h1M572 480h2M610 480h2M633 480h1" stroke="#0044ff" stroke-width="4"/>
<path d="M159 484.5h2M173 484.5h1M186 484.5h1M203 484.5h1M224 484.5h1M249 484.5h1M370 484.5h1M403 484.5h1M437 484.5h1M525 484.5h1M535 484.5h2M631 484.5h1M636 484.5h1M668 484.5h1" stroke="#1c0024" stroke-width="5"/>
<path d="M125 484.5h2M129 484.5h1M131 484.5h2M134 484.5h1M147 484.5h1M165 484.5h1M179 484.5h1M206 484.5h1M208 484.5h3M216 484.5h3M228 484.5h1M242 484.5h1M252 484.5h1M259 484.5h2M275 484.5h2M279 484.5h2M284 484.5h1M294 484.5h1M296 484.5h3M311 484.5h1M324 484.5h1M337 484.5h1M350 484.5h1M365 484.5h1M379 484.5h1M389 484.5h1M391 484.5h1M398 484.5h1M409 484.5h1M423 484.5h1M431 484.5h2M453 484.5h3M463 484.5h1M467 484.5h1M473 484.5h1M484 484.5h3M504 484.5h1M517 484.5h1M523 484.5h1M528 484.5h1M531 484.5h2M538 484.5h3M549 484.5h1M567 484.5h1M583 484.5h4M592 484.5h1M596 484.5h1M618 484.5h1M629 484.5h2M643 484.5h1M645 484.5h1M654 484.5h1M664 484.5h1M671 484.5h1M681 484.5h1M693 484.5h2" stroke="#34004c" stroke-width="5"/>
<path d="M106 484.5h3M112 484.5h3M121 484.5h4M128 484.5h1M130 484.5h1M137 484.5h1M141 484.5h2M146 484.5h1M148 484.5h2M154 484.5h2M157 484.5h1M161 484.5h2M164 484.5h1M178 484.5h1M180 484.5h1M183 484.5h1M188 484.5h4M194 484.5h1M196 484.5h1M205 484.5h1M230 484.5h2M240 484.5h1M243 484.5h1M246 484.5h2M258 484.5h1M263 484.5h1M267 484.5h1M269 484.5h1M278 484.5h1M281 484.5h1M285 484.5h1M290 484.5h1M292 484.5h2M301 484.5h1M303 484.5h1M305 484.5h1M309 484.5h1M312 484.5h1M320 484.5h2M323 484.5h1M327 484.5h1M335 484.5h1M339 484.5h2M346 484.5h3M351 484.5h4M356 484.5h2M363 484.5h1M366 484.5h1M382 484.5h1M385 484.5h2M392 484.5h5M404 484.5h5M411 484.5h2M414 484.5h1M418 484.5h1M421 484.5h2M426 484.5h4M439 484.5h3M444 484.5h4M449 484.5h1M451 484.5h1M459 484.5h2M464 484.5h2M470 484.5h2M474 484.5h1M499 484.5h3M503 484.5h1M506 484.5h1M508 484.5h3M516 484.5h1M518 484.5h4M527 484.5h1M534 484.5h1M541 484.5h1M543 484.5h1M545 484.5h3M552 484.5h2M563 484.5h1M570 484.5h3M574 484.5h1M577 484.5h2M580 484.5h1M582 484.5h1M591 484.5h1M594 484.5h1M597 484.5h2M600 484.5h1M603 484.5h1M605 484.5h1M609 484.5h3M621 484.5h2M626 484.5h1M637 484.5h1M639 484.5h3M649 484.5h2M656 484.5h1M659 484.5h1M663 484.5h1M669 484.5h1M672 484.5h1M676 484.5h1M679 484.5h1M683 484.5h1M690 484.5h1M692 484.5h1M695 484.5h1" stroke="#4e008c" stroke-width="5"/>
<path d="M103 484.5h3M110 484.5h1M116 484.5h2M139 484.5h1M145 484.5h1M151 484.5h1M156 484.5h1M168 484.5h1M176 484.5h2M181 484.5h1M192 484.5h1M195 484.5h1M198 484.5h1M204 484.5h1M211 484.5h1M241 484.5h1M248 484.5h1M257 484.5h1M304 484.5h1M310 484.5h1M313 484.5h3M326 484.5h1M330 484.5h1M332 484.5h2M359 484.5h2M362 484.5h1M369 484.5h1M380 484.5h2M387 484.5h2M413 484.5h1M415 484.5h2M419 484.5h1M425 484.5h1M433 484.5h3M448 484.5h1M458 484.5h1M469 484.5h1M475 484.5h1M478 484.5h3M492 484.5h3M505 484.5h1M514 484.5h1M526 484.5h1M529 484.5h1M533 484.5h1M558 484.5h1M561 484.5h2M579 484.5h1M581 484.5h1M588 484.5h3M606 484.5h2M613 484.5h2M644 484.5h1M653 484.5h1M662 484.5h1M670 484.5h1M673 484.5h2M682 484.5h1M697 484.5h2" stroke="#4604cc" stroke-width="5"/>
<path d="M115 484.5h1M136 484.5h1M172 484.5h1M174 484.5h2M187 484.5h1M193 484.5h1M245 484.5h1M253 484.5h2M277 484.5h1M283 484.5h1M302 484.5h1M307 484.5h1M322 484.5h1M343 484.5h1M430 484.5h1M438 484.5h1M461 484.5h2M481 484.5h1M559 484.5h1M593 484.5h1M615 484.5h1M619 484.5h2M634 484.5h1M642 484.5h1M652 484.5h1M661 484.5h1M678 484.5h1M686 484.5h1" stroke="#2610fa" stroke-width="5"/>
<path d="M291 484.5h1M420 484.5h1M466 484.5h1M524 484.5h1M677 484.5h1M696 484.5h1" stroke="#0044ff" stroke-width="5"/>
<path d="M206 488.5h2M260 488.5h1M311 488.5h1M338 488.5h1M355 488.5h3M366 488.5h1M396 488.5h1M419 488.5h1M454 488.5h1M524 488.5h1M571 488.5h2M578 488.5h1M585 488.5h1M613 488.5h2" stroke="#1c0024" stroke-width="3"/>
<path d="M103 488.5h3M111 488.5h1M113 488.5h2M118 488.5h1M143 488.5h1M155 488.5h2M160 488.5h2M171 488.5h1M201 488.5h1M218 488.5h1M223 488.5h2M242 488.5h1M257 488.5h1M259 488.5h1M276 488.5h2M295 488.5h1M303 488.5h1M321 488.5h1M395 488.5h1M399 488.5h1M404 488.5h1M414 488.5h2M420 488.5h1M436 488.5h2M439 488.5h1M468 488.5h1M502 488.5h1M509 488.5h4M534 488.5h1M548 488.5h1M573 488.5h1M588 488.5h1M607 488.5h1M616 488.5h1M626 488.5h1M632 488.5h1M637 488.5h2M653 488.5h1" stroke="#34004c" stroke-width="3"/>
<path d="M115 488.5h1M137 488.5h1M144 488.5h2M173 488.5h1M175 488.5h1M180 488.5h4M186 488.5h1M194 488.5h1M196 488.5h1M199 488.5h1M205 488.5h1M208 488.5h3M215 488.5h1M221 488.5h2M226 488.5h2M272 488.5h1M275 488.5h1M280 488.5h1M284 488.5h2M288 488.5h1M294 488.5h1M300 488.5h1M306 488.5h1M316 488.5h1M324 488.5h2M330 488.5h2M334 488.5h1M336 488.5h2M344 488.5h1M354 488.5h1M360 488.5h2M364 488.5h1M373 488.5h1M384 488.5h1M387 488.5h2M398 488.5h1M400 488.5h1M402 488.5h1M407 488.5h1M413 488.5h1M430 488.5h1M443 488.5h1M457 488.5h1M460 488.5h1M462 488.5h1M464 488.5h3M471 488.5h1M473 488.5h4M480 488.5h1M486 488.5h1M488 488.5h1M491 488.5h3M499 488.5h3M503 488.5h1M506 488.5h1M516 488.5h2M525 488.5h2M538 488.5h1M540 488.5h1M551 488.5h2M555 488.5h1M557 488.5h2M570 488.5h1M580 488.5h3M587 488.5h1M589 488.5h3M597 488.5h2M604 488.5h1M606 488.5h1M612 488.5h1M620 488.5h1M622 488.5h2M628 488.5h2M634 488.5h1M647 488.5h1M649 488.5h3M654 488.5h1M659 488.5h1M676 488.5h2M686 488.5h2" stroke="#4e008c" stroke-width="3"/>
<path d="M106 488.5h4M120 488.5h1M126 488.5h2M130 488.5h1M133 488.5h1M138 488.5h1M152 488.5h1M159 488.5h1M162 488.5h1M166 488.5h1M169 488.5h2M187 488.5h1M192 488.5h2M198 488.5h1M216 488.5h1M220 488.5h1M247 488.5h2M250 488.5h1M254 488.5h1M258 488.5h1M261 488.5h3M271 488.5h1M274 488.5h1M278 488.5h2M282 488.5h1M289 488.5h2M307 488.5h1M310 488.5h1M313 488.5h3M317 488.5h1M320 488.5h1M328 488.5h1M339 488.5h2M350 488.5h3M359 488.5h1M370 488.5h2M385 488.5h1M389 488.5h1M392 488.5h3M405 488.5h2M421 488.5h1M425 488.5h1M429 488.5h1M444 488.5h1M448 488.5h1M450 488.5h1M455 488.5h1M461 488.5h1M478 488.5h2M489 488.5h2M513 488.5h1M528 488.5h1M535 488.5h2M541 488.5h1M543 488.5h1M547 488.5h1M549 488.5h1M556 488.5h1M560 488.5h2M566 488.5h1M568 488.5h2M602 488.5h1M618 488.5h1M639 488.5h1M645 488.5h2M655 488.5h1M673 488.5h1M684 488.5h1M688 488.5h3" stroke="#4604cc" stroke-width="3"/>
<path d="M112 488.5h1M116 488.5h2M121 488.5h2M125 488.5h1M140 488.5h2M150 488.5h2M158 488.5h1M184 488.5h2M188 488.5h3M219 488.5h1M228 488.5h1M235 488.5h4M244 488.5h1M246 488.5h1M264 488.5h1M281 488.5h1M286 488.5h2M292 488.5h1M332 488.5h2M335 488.5h1M358 488.5h1M376 488.5h1M379 488.5h2M397 488.5h1M426 488.5h3M446 488.5h1M458 488.5h1M467 488.5h1M469 488.5h2M472 488.5h1M481 488.5h1M487 488.5h1M530 488.5h1M544 488.5h2M550 488.5h1M563 488.5h1M574 488.5h3M583 488.5h1M594 488.5h2M601 488.5h1M619 488.5h1M636 488.5h1M642 488.5h2M648 488.5h1M661 488.5h1M671 488.5h1M674 488.5h1M678 488.5h1M683 488.5h1M696 488.5h2" stroke="#2610fa" stroke-width="3"/>
<path d="M134 488.5h1M146 488.5h1M167 488.5h1M231 488.5h2M241 488.5h1M252 488.5h1M256 488.5h1M296 488.5h2M304 488.5h1M435 488.5h1M445 488.5h1M518 488.5h1M532 488.5h2M546 488.5h1M564 488.5h1M644 488.5h1M656 488.5h3M660 488.5h1M662 488.5h1M664 488.5h2M667 488.5h3M685 488.5h1M694 488.5h1M698 488.5h1" stroke="#0044ff" stroke-width="3"/>
<path d="M666 488.5h1M670 488.5h1M675 488.5h1M691 488.5h1M693 488.5h1M695 488.5h1" stroke="#0094ff" stroke-width="3"/>
<path d="M663 488.5h1" stroke="#00dcff" stroke-width="3"/>
<rect x="103" y="490" width="596" height="3" fill="url(#g41)"/>
<path d="M105 491.5h1M108 491.5h5M117 491.5h1M118 491.5h1M119 491.5h2M125 491.5h3M130 491.5h1M132 491.5h3M139 491.5h1M140 491.5h1M143 491.5h1M148 491.5h2M154 491.5h1M158 491.5h1M159 491.5h1M160 491.5h1M175 491.5h1M176 491.5h2M185 491.5h1M192 491.5h2M195 491.5h1M196 491.5h1M199 491.5h2M207 491.5h1M208 491.5h2M211 491.5h1M212 491.5h1M213 491.5h2M216 491.5h1M221 491.5h2M223 491.5h2M230 491.5h2M232 491.5h1M238 491.5h2M247 491.5h2M249 491.5h1M251 491.5h1M269 491.5h1M270 491.5h2M272 491.5h1M274 491.5h1M276 491.5h1M279 491.5h1M280 491.5h2M291 491.5h1M295 491.5h1M298 491.5h2M302 491.5h1M308 491.5h3M316 491.5h1M318 491.5h3M325 491.5h2M331 491.5h1M338 491.5h1M341 491.5h5M346 491.5h1M348 491.5h4M354 491.5h1M356 491.5h1M362 491.5h1M363 491.5h3M368 491.5h2M370 491.5h2M374 491.5h1M377 491.5h1M379 491.5h1M380 491.5h1M381 491.5h1M386 491.5h2M389 491.5h1M391 491.5h2M397 491.5h1M400 491.5h1M406 491.5h1M409 491.5h1M410 491.5h2M412 491.5h1M413 491.5h1M418 491.5h1M419 491.5h1M427 491.5h2M436 491.5h1M438 491.5h2M453 491.5h2M457 491.5h1M459 491.5h1M465 491.5h1M466 491.5h3M469 491.5h2M472 491.5h1M474 491.5h1M491 491.5h1M493 491.5h1M494 491.5h2M499 491.5h1M500 491.5h1M503 491.5h1M504 491.5h1M505 491.5h2M509 491.5h1M520 491.5h2M525 491.5h3M538 491.5h1M541 491.5h1M542 491.5h1M548 491.5h1M549 491.5h2M552 491.5h2M554 491.5h1M556 491.5h1M558 491.5h2M566 491.5h1M570 491.5h1M573 491.5h1M576 491.5h2M578 491.5h1M579 491.5h1" stroke="#0058ff" stroke-width="3" fill="none"/>
<path d="M103 491.5h1M121 491.5h1M122 491.5h1M130 491.5h1M133 491.5h1M135 491.5h1M138 491.5h2M140 491.5h1M148 491.5h1M150 491.5h1M154 491.5h1M157 491.5h2M159 491.5h1M166 491.5h1M173 491.5h1M180 491.5h2M183 491.5h1M188 491.5h2M191 491.5h1M194 491.5h1M196 491.5h4M204 491.5h1M206 491.5h3M210 491.5h1M212 491.5h1M213 491.5h1M220 491.5h1M224 491.5h1M233 491.5h1M235 491.5h2M237 491.5h1M248 491.5h2M275 491.5h1M280 491.5h1M282 491.5h1M290 491.5h1M291 491.5h1M303 491.5h1M305 491.5h1M313 491.5h1M324 491.5h1M329 491.5h2M332 491.5h2M334 491.5h3M346 491.5h1M353 491.5h3M364 491.5h1M365 491.5h1M372 491.5h1M382 491.5h1M384 491.5h1M386 491.5h1M388 491.5h1M389 491.5h1M390 491.5h2M393 491.5h1M396 491.5h1M397 491.5h1M404 491.5h1M413 491.5h1M414 491.5h1M420 491.5h1M425 491.5h1M431 491.5h2M434 491.5h1M436 491.5h1M439 491.5h2M447 491.5h1M449 491.5h1M450 491.5h1M451 491.5h1M457 491.5h1M469 491.5h1M471 491.5h1M479 491.5h1M488 491.5h2M494 491.5h3M499 491.5h1M508 491.5h3M520 491.5h1M523 491.5h1M528 491.5h2M535 491.5h1M540 491.5h3M555 491.5h2M571 491.5h1M576 491.5h1M577 491.5h1M579 491.5h1M580 491.5h1M582 491.5h3M586 491.5h1M599 491.5h2M605 491.5h3M612 491.5h2M626 491.5h2M635 491.5h2" stroke="#00c0ff" stroke-width="3" fill="none"/>
<rect x="103" y="493" width="596" height="4" fill="url(#g42)"/>
<path d="M111 495h2M113 495h1M132 495h1M136 495h1M137 495h1M138 495h2M149 495h1M150 495h1M153 495h1M162 495h1M166 495h4M182 495h2M186 495h1M188 495h1M193 495h1M199 495h1M200 495h1M211 495h2M213 495h1M218 495h1M239 495h1M246 495h2M251 495h1M261 495h3M281 495h1M285 495h1M289 495h2M294 495h1M300 495h1M301 495h2M308 495h1M314 495h2M320 495h3M333 495h2M342 495h1M345 495h2M349 495h1M367 495h1M376 495h2M382 495h1M387 495h1M393 495h1M398 495h1M403 495h1M406 495h1M415 495h1M416 495h2M433 495h3M442 495h1M446 495h1M449 495h1M450 495h5M461 495h1M471 495h1M479 495h1M488 495h2M499 495h3M509 495h1M510 495h1M522 495h1M523 495h1M539 495h1M540 495h1M543 495h2M546 495h3M552 495h1" stroke="#00e8a0" stroke-width="4" fill="none"/>
<rect x="103" y="497" width="596" height="1" fill="url(#g43)"/>
<rect x="176" y="472" width="1" height="6" fill="#00c0ff"/>
<rect x="176" y="478" width="1" height="20" fill="#f0f000"/>
<rect x="177" y="480" width="1" height="18" fill="#e0a020"/>
<rect x="103" y="512" width="596" height="64" fill="#000"/>
<path d="M111 516h1M134 516h1M146 516h1M183 516h1M188 516h1M198 516h1M226 516h2M266 516h1M276 516h1M285 516h1M287 516h1M298 516h1M303 516h2M309 516h1M313 516h1M320 516h2M327 516h1M333 516h2M337 516h1M342 516h1M349 516h1M357 516h1M381 516h1M385 516h1M394 516h1M398 516h1M401 516h2M404 516h1M409 516h1M422 516h1M424 516h1M449 516h1M453 516h1M465 516h1M472 516h1M474 516h1M477 516h1M490 516h1M497 516h1M499 516h1M513 516h1M515 516h1M546 516h2M604 516h1M634 516h1M640 516h1M653 516h3M659 516h2M673 516h1M679 516h3" stroke="#1c0024" stroke-width="8"/>
<path d="M129 516h1M169 516h1M178 516h1M187 516h1M190 516h1M199 516h1M206 516h1M209 516h1M214 516h1M218 516h4M223 516h1M236 516h1M246 516h4M257 516h2M272 516h1M299 516h1M312 516h1M319 516h1M343 516h1M353 516h1M363 516h2M396 516h1M410 516h2M423 516h1M433 516h1M445 516h1M460 516h1M471 516h1M473 516h1M476 516h1M482 516h1M484 516h1M489 516h1M491 516h1M507 516h1M514 516h1M525 516h1M536 516h1M539 516h2M551 516h1M553 516h1M576 516h1M582 516h3M608 516h2M621 516h1M666 516h1M669 516h3M678 516h1M697 516h1" stroke="#34004c" stroke-width="8"/>
<path d="M124 516h1M128 516h1M131 516h2M135 516h1M144 516h1M192 516h2M197 516h1M200 516h1M202 516h1M204 516h2M224 516h1M228 516h4M234 516h1M251 516h1M253 516h3M262 516h1M275 516h1M294 516h1M301 516h2M314 516h1M328 516h1M331 516h1M344 516h1M350 516h1M362 516h1M365 516h1M368 516h1M370 516h1M382 516h1M384 516h1M392 516h1M429 516h2M435 516h1M441 516h1M454 516h3M463 516h1M470 516h1M492 516h1M494 516h3M500 516h1M519 516h1M523 516h1M541 516h2M548 516h1M556 516h1M567 516h1M573 516h2M592 516h2M613 516h2M618 516h1M643 516h1M677 516h1M684 516h1" stroke="#4e008c" stroke-width="8"/>
<path d="M160 516h4M171 516h1M217 516h1M263 516h1M282 516h2M318 516h1M432 516h1M446 516h1M469 516h1M498 516h1M545 516h1M651 516h1M674 516h1M691 516h1M694 516h1" stroke="#4604cc" stroke-width="8"/>
<path d="M110 516h1M119 516h2M359 516h2M451 516h1M488 516h1M562 516h3" stroke="#2610fa" stroke-width="8"/>
<path d="M106 526h3M110 526h1M113 526h1M120 526h1M130 526h1M155 526h1M223 526h2M233 526h2M297 526h1M326 526h2M347 526h1M358 526h1M371 526h4M378 526h1M390 526h2M409 526h2M425 526h1M498 526h1M501 526h1M565 526h1M573 526h1M587 526h1M594 526h1M629 526h1M639 526h1M650 526h1M670 526h1" stroke="#1c0024" stroke-width="12"/>
<path d="M111 526h2M126 526h1M129 526h1M141 526h1M152 526h1M163 526h1M192 526h1M199 526h1M209 526h1M240 526h1M254 526h2M269 526h1M290 526h1M302 526h1M312 526h1M315 526h1M321 526h1M332 526h2M336 526h2M342 526h1M361 526h1M364 526h2M369 526h1M407 526h1M417 526h1M420 526h1M424 526h1M439 526h1M456 526h1M462 526h1M471 526h1M477 526h1M488 526h1M595 526h1M598 526h1M600 526h1M613 526h1M619 526h3M632 526h1M636 526h1M640 526h1M643 526h1M677 526h2M686 526h2" stroke="#34004c" stroke-width="12"/>
<path d="M115 526h1M124 526h2M132 526h1M134 526h1M144 526h2M153 526h2M156 526h1M160 526h1M175 526h1M177 526h1M180 526h1M182 526h3M190 526h2M198 526h1M211 526h2M214 526h1M218 526h2M222 526h1M225 526h1M237 526h3M244 526h2M257 526h1M275 526h1M280 526h1M282 526h1M284 526h1M287 526h1M291 526h1M308 526h4M316 526h1M325 526h1M351 526h1M362 526h1M367 526h1M386 526h1M393 526h5M408 526h1M413 526h4M418 526h1M426 526h1M431 526h3M444 526h1M452 526h2M474 526h1M494 526h2M502 526h2M507 526h1M510 526h1M512 526h3M529 526h1M532 526h1M535 526h1M537 526h2M541 526h2M545 526h2M551 526h1M555 526h1M560 526h2M571 526h2M581 526h1M605 526h1M612 526h1M615 526h1M635 526h1M638 526h1M648 526h2M673 526h1M679 526h3M692 526h1M695 526h1M698 526h1" stroke="#4e008c" stroke-width="12"/>
<path d="M131 526h1M151 526h1M194 526h1M226 526h1M243 526h1M265 526h3M298 526h1M303 526h1M313 526h2M323 526h1M343 526h1M350 526h1M352 526h1M368 526h1M379 526h2M385 526h1M389 526h1M411 526h1M422 526h2M448 526h2M455 526h1M463 526h1M468 526h1M479 526h1M518 526h1M590 526h2M597 526h1M633 526h1M644 526h1M664 526h1M668 526h1M671 526h1" stroke="#4604cc" stroke-width="12"/>
<path d="M116 526h1M173 526h1M193 526h1M270 526h2M278 526h2M283 526h1M294 526h2M320 526h1M335 526h1M353 526h2M451 526h1M454 526h1M460 526h2M517 526h1M525 526h4M588 526h1M602 526h1M609 526h1M628 526h1" stroke="#2610fa" stroke-width="12"/>
<path d="M242 526h1M246 526h2M301 526h1M383 526h1M562 526h1" stroke="#0044ff" stroke-width="12"/>
<path d="M258 536h1M265 536h1M302 536h1M506 536h1M575 536h1" stroke="#1c0024" stroke-width="8"/>
<path d="M118 536h2M135 536h1M137 536h1M145 536h1M156 536h1M160 536h1M167 536h1M181 536h2M185 536h1M196 536h1M200 536h1M203 536h1M216 536h3M221 536h1M223 536h1M228 536h1M231 536h1M239 536h1M243 536h1M250 536h1M261 536h1M263 536h2M291 536h1M296 536h1M300 536h1M303 536h1M309 536h1M326 536h3M346 536h1M351 536h1M401 536h1M406 536h1M414 536h1M417 536h1M419 536h2M449 536h1M461 536h1M485 536h2M493 536h1M497 536h2M502 536h1M514 536h1M542 536h1M548 536h1M556 536h1M607 536h1M612 536h1M621 536h1M628 536h1M639 536h1M649 536h1M651 536h1M653 536h2M675 536h1M684 536h1M695 536h1" stroke="#34004c" stroke-width="8"/>
<path d="M103 536h3M110 536h2M113 536h1M121 536h2M124 536h1M136 536h1M140 536h1M142 536h1M148 536h1M153 536h2M157 536h1M166 536h1M168 536h1M175 536h2M179 536h1M183 536h1M187 536h1M195 536h1M197 536h1M199 536h1M202 536h1M205 536h1M207 536h2M215 536h1M220 536h1M226 536h2M230 536h1M232 536h2M236 536h2M240 536h1M242 536h1M244 536h1M247 536h3M256 536h1M268 536h1M271 536h2M277 536h3M285 536h1M293 536h1M297 536h1M304 536h1M306 536h2M316 536h2M331 536h1M333 536h3M337 536h1M339 536h4M350 536h1M355 536h1M366 536h5M372 536h1M375 536h3M386 536h1M388 536h2M391 536h1M396 536h1M404 536h2M413 536h1M418 536h1M421 536h1M427 536h6M437 536h1M444 536h2M450 536h3M456 536h1M460 536h1M462 536h1M465 536h1M469 536h1M474 536h2M481 536h2M488 536h1M491 536h1M499 536h3M503 536h2M516 536h5M522 536h3M526 536h4M535 536h1M539 536h1M541 536h1M545 536h1M549 536h1M551 536h1M555 536h1M557 536h1M562 536h1M564 536h3M579 536h1M590 536h1M598 536h2M606 536h1M611 536h1M614 536h3M618 536h1M622 536h1M629 536h1M635 536h1M637 536h1M644 536h1M647 536h1M652 536h1M659 536h1M665 536h1M670 536h1M672 536h1M678 536h4M687 536h4M693 536h1" stroke="#4e008c" stroke-width="8"/>
<path d="M109 536h1M131 536h1M139 536h1M141 536h1M163 536h3M174 536h1M180 536h1M186 536h1M201 536h1M206 536h1M224 536h2M238 536h1M241 536h1M246 536h1M255 536h1M273 536h2M287 536h1M294 536h2M308 536h1M312 536h1M322 536h1M329 536h2M338 536h1M343 536h1M347 536h2M353 536h2M356 536h1M365 536h1M371 536h1M378 536h1M385 536h1M407 536h1M425 536h2M434 536h1M439 536h2M448 536h1M459 536h1M476 536h1M513 536h1M532 536h1M536 536h1M543 536h1M546 536h2M554 536h1M563 536h1M570 536h1M574 536h1M576 536h1M584 536h1M604 536h1M610 536h1M617 536h1M620 536h1M630 536h1M645 536h1M648 536h1M655 536h1M658 536h1M662 536h3M666 536h1M673 536h2M691 536h1M698 536h1" stroke="#4604cc" stroke-width="8"/>
<path d="M123 536h1M138 536h1M151 536h1M161 536h1M177 536h2M189 536h1M193 536h1M204 536h1M211 536h1M253 536h2M257 536h1M262 536h1M276 536h1M282 536h1M305 536h1M319 536h1M393 536h1M395 536h1M403 536h1M410 536h2M436 536h1M441 536h1M471 536h3M479 536h1M512 536h1M531 536h1M537 536h2M552 536h1M573 536h1M587 536h1M592 536h1M627 536h1M633 536h2M642 536h2M646 536h1M657 536h1M677 536h1" stroke="#2610fa" stroke-width="8"/>
<path d="M112 536h1M114 536h1M120 536h1M129 536h2M150 536h1M212 536h3M259 536h1M266 536h1M270 536h1M283 536h1M310 536h2M318 536h1M332 536h1M387 536h1M399 536h1M402 536h1M453 536h1M463 536h1M583 536h1M685 536h1" stroke="#0044ff" stroke-width="8"/>
<path d="M133 536h2M301 536h1M384 536h1M416 536h1M558 536h1M561 536h1M571 536h1M593 536h1" stroke="#0094ff" stroke-width="8"/>
<path d="M236 543h2M252 543h2M413 543h1M492 543h1M518 543h1M591 543h1M596 543h1M614 543h2M636 543h1M657 543h1" stroke="#1c0024" stroke-width="6"/>
<path d="M120 543h1M125 543h1M127 543h1M130 543h1M142 543h2M145 543h4M168 543h1M186 543h1M206 543h1M210 543h2M223 543h2M302 543h1M310 543h1M325 543h2M328 543h1M332 543h1M345 543h1M350 543h1M355 543h1M380 543h1M405 543h1M421 543h1M427 543h1M436 543h1M452 543h1M471 543h1M495 543h1M507 543h2M528 543h1M542 543h1M552 543h1M573 543h1M587 543h1M594 543h1M605 543h1M611 543h2M638 543h1M672 543h1" stroke="#34004c" stroke-width="6"/>
<path d="M113 543h3M119 543h1M134 543h3M152 543h1M156 543h3M160 543h1M169 543h1M182 543h1M190 543h2M197 543h2M212 543h1M216 543h1M225 543h1M240 543h1M243 543h1M261 543h1M264 543h1M270 543h2M273 543h1M275 543h1M300 543h1M304 543h2M308 543h1M323 543h2M334 543h3M339 543h1M347 543h2M384 543h1M390 543h1M396 543h1M398 543h1M414 543h2M419 543h2M423 543h1M425 543h1M431 543h1M433 543h1M437 543h1M453 543h1M457 543h1M466 543h1M469 543h1M480 543h1M496 543h1M505 543h1M514 543h2M522 543h2M527 543h1M532 543h2M537 543h1M540 543h2M543 543h2M553 543h1M557 543h10M568 543h1M579 543h6M593 543h1M595 543h1M602 543h1M604 543h1M609 543h2M619 543h3M633 543h1M642 543h2M646 543h1M648 543h2M653 543h2M658 543h2M661 543h1M663 543h1M667 543h1M682 543h1M686 543h1M696 543h1" stroke="#4e008c" stroke-width="6"/>
<path d="M106 543h3M111 543h2M121 543h1M129 543h1M132 543h2M137 543h2M154 543h1M161 543h1M164 543h1M174 543h1M184 543h1M192 543h1M199 543h1M209 543h1M219 543h1M234 543h1M241 543h1M244 543h1M247 543h1M260 543h1M262 543h1M268 543h1M279 543h2M284 543h1M292 543h1M295 543h2M301 543h1M309 543h1M311 543h3M315 543h2M327 543h1M329 543h1M349 543h1M357 543h3M361 543h1M367 543h2M370 543h1M383 543h1M387 543h2M391 543h1M393 543h1M399 543h2M406 543h1M410 543h3M416 543h2M424 543h1M438 543h2M443 543h1M446 543h1M451 543h1M461 543h4M470 543h1M474 543h2M479 543h1M498 543h3M502 543h2M509 543h1M512 543h1M525 543h1M570 543h1M588 543h1M598 543h1M601 543h1M608 543h1M616 543h1M634 543h1M647 543h1M650 543h1M666 543h1M674 543h3M681 543h1M683 543h3M694 543h1" stroke="#4604cc" stroke-width="6"/>
<path d="M150 543h1M153 543h1M155 543h1M159 543h1M163 543h1M170 543h2M178 543h2M185 543h1M204 543h2M215 543h1M220 543h1M228 543h1M230 543h1M254 543h1M272 543h1M297 543h1M317 543h1M319 543h1M340 543h1M343 543h1M354 543h1M364 543h1M366 543h1M372 543h1M394 543h2M397 543h1M409 543h1M418 543h1M434 543h2M444 543h2M458 543h1M468 543h1M473 543h1M493 543h1M501 543h1M504 543h1M513 543h1M516 543h2M519 543h1M545 543h1M547 543h1M572 543h1M575 543h1M613 543h1M617 543h2M628 543h3M635 543h1M690 543h1" stroke="#2610fa" stroke-width="6"/>
<path d="M149 543h1M151 543h1M165 543h1M172 543h1M175 543h1M181 543h1M193 543h1M195 543h1M222 543h1M229 543h1M259 543h1M278 543h1M285 543h3M303 543h1M375 543h1M402 543h1M408 543h1M426 543h1M455 543h2M476 543h1M497 543h1M535 543h2M551 543h1M592 543h1M622 543h1M655 543h1M660 543h1M664 543h1M697 543h2" stroke="#0044ff" stroke-width="6"/>
<path d="M291 543h1M320 543h1M337 543h1M362 543h1M365 543h1M422 543h1M432 543h1M467 543h1M530 543h1M546 543h1M555 543h1M567 543h1M668 543h1" stroke="#0094ff" stroke-width="6"/>
<path d="M179 548h1M210 548h1M219 548h2M253 548h1M287 548h1M304 548h3M358 548h1M403 548h1M409 548h1M428 548h1M439 548h1M481 548h1M540 548h1M551 548h1M578 548h1M698 548h1" stroke="#1c0024" stroke-width="4"/>
<path d="M111 548h1M121 548h1M123 548h1M129 548h1M142 548h1M144 548h1M165 548h1M176 548h1M187 548h1M257 548h1M267 548h1M361 548h3M378 548h1M417 548h3M421 548h1M452 548h1M471 548h1M477 548h2M491 548h1M505 548h1M515 548h1M538 548h1M541 548h1M552 548h1M600 548h1M620 548h1M632 548h1M648 548h1M665 548h4M683 548h1M688 548h1" stroke="#34004c" stroke-width="4"/>
<path d="M106 548h3M117 548h1M126 548h1M130 548h1M136 548h2M166 548h1M170 548h2M190 548h2M193 548h5M199 548h3M206 548h1M211 548h1M216 548h1M229 548h1M236 548h4M242 548h1M247 548h1M250 548h1M252 548h1M261 548h1M265 548h2M268 548h3M288 548h3M298 548h1M300 548h1M309 548h1M317 548h2M331 548h1M339 548h1M345 548h2M370 548h1M373 548h3M380 548h1M388 548h2M398 548h1M406 548h1M432 548h1M487 548h1M495 548h1M500 548h2M511 548h1M533 548h1M553 548h1M558 548h1M564 548h2M573 548h2M601 548h1M607 548h1M612 548h2M617 548h1M622 548h4M634 548h1M639 548h1M643 548h2M647 548h1M654 548h1M656 548h1M672 548h1M678 548h1M684 548h2" stroke="#4e008c" stroke-width="4"/>
<path d="M109 548h2M134 548h1M138 548h1M147 548h1M154 548h2M160 548h3M169 548h1M181 548h1M185 548h2M188 548h1M208 548h1M213 548h3M217 548h1M223 548h1M225 548h1M231 548h1M243 548h1M248 548h1M259 548h2M262 548h1M264 548h1M272 548h1M303 548h1M308 548h1M312 548h2M319 548h2M332 548h1M340 548h1M343 548h1M357 548h1M368 548h2M371 548h1M381 548h1M383 548h1M390 548h1M400 548h3M415 548h2M426 548h1M429 548h1M445 548h2M458 548h1M479 548h1M489 548h2M493 548h2M516 548h4M521 548h2M524 548h1M536 548h2M547 548h2M559 548h1M570 548h3M587 548h1M591 548h1M593 548h1M598 548h1M602 548h2M615 548h1M628 548h2M631 548h1M636 548h1M640 548h1M646 548h1M657 548h4M662 548h1M664 548h1M670 548h2M676 548h1M680 548h2M686 548h2M692 548h2M695 548h2" stroke="#4604cc" stroke-width="4"/>
<path d="M103 548h3M112 548h1M122 548h1M128 548h1M131 548h1M133 548h1M135 548h1M152 548h1M164 548h1M174 548h2M182 548h1M192 548h1M209 548h1M221 548h2M230 548h1M233 548h2M249 548h1M254 548h2M263 548h1M271 548h1M277 548h1M285 548h2M296 548h2M302 548h1M310 548h1M315 548h2M323 548h1M342 548h1M348 548h2M351 548h1M365 548h1M379 548h1M386 548h2M392 548h1M395 548h1M397 548h1M399 548h1M404 548h1M424 548h2M430 548h1M435 548h3M440 548h5M447 548h1M449 548h1M464 548h1M466 548h1M470 548h1M473 548h1M485 548h1M499 548h1M527 548h1M530 548h1M545 548h2M549 548h1M560 548h3M566 548h1M569 548h1M579 548h2M584 548h1M586 548h1M588 548h1M605 548h1M608 548h4M616 548h1M621 548h1M627 548h1M630 548h1M637 548h1M663 548h1M689 548h3" stroke="#2610fa" stroke-width="4"/>
<path d="M149 548h1M151 548h1M156 548h1M173 548h1M177 548h2M226 548h1M251 548h1M307 548h1M322 548h1M333 548h2M338 548h1M347 548h1M355 548h2M360 548h1M376 548h1M384 548h2M391 548h1M394 548h1M396 548h1M407 548h1M420 548h1M461 548h1M467 548h3M475 548h2M482 548h2M486 548h1M508 548h3M520 548h1M525 548h1M589 548h1M604 548h1M653 548h1M677 548h1M679 548h1" stroke="#0044ff" stroke-width="4"/>
<path d="M114 548h3M141 548h1M184 548h1M202 548h2M212 548h1M228 548h1M246 548h1M256 548h1M258 548h1M275 548h1M279 548h1M328 548h2M350 548h1M423 548h1M455 548h1M465 548h1M526 548h1M535 548h1M575 548h1M597 548h1M652 548h1M655 548h1M674 548h1" stroke="#0094ff" stroke-width="4"/>
<path d="M129 552.5h2M135 552.5h1M148 552.5h3M177 552.5h1M213 552.5h1M222 552.5h1M226 552.5h1M235 552.5h2M267 552.5h2M300 552.5h1M374 552.5h1M408 552.5h2M420 552.5h1M474 552.5h1M534 552.5h1M627 552.5h1M671 552.5h1" stroke="#1c0024" stroke-width="5"/>
<path d="M109 552.5h1M133 552.5h1M143 552.5h3M159 552.5h2M209 552.5h1M230 552.5h1M270 552.5h1M272 552.5h1M296 552.5h1M351 552.5h1M354 552.5h1M364 552.5h2M391 552.5h1M411 552.5h1M426 552.5h2M441 552.5h4M470 552.5h1M475 552.5h1M494 552.5h1M513 552.5h1M533 552.5h1M535 552.5h1M553 552.5h1M559 552.5h1M580 552.5h1M582 552.5h1M592 552.5h2M612 552.5h1M636 552.5h1M645 552.5h1M675 552.5h1M687 552.5h1" stroke="#34004c" stroke-width="5"/>
<path d="M139 552.5h1M152 552.5h1M164 552.5h1M185 552.5h1M200 552.5h1M206 552.5h3M214 552.5h2M221 552.5h1M229 552.5h1M243 552.5h3M248 552.5h1M293 552.5h3M297 552.5h1M299 552.5h1M325 552.5h2M329 552.5h1M332 552.5h1M344 552.5h1M350 552.5h1M352 552.5h2M369 552.5h1M383 552.5h2M392 552.5h1M394 552.5h2M430 552.5h6M438 552.5h1M459 552.5h1M461 552.5h1M464 552.5h2M479 552.5h5M504 552.5h1M507 552.5h3M512 552.5h1M549 552.5h1M552 552.5h1M554 552.5h1M563 552.5h5M579 552.5h1M581 552.5h1M601 552.5h1M620 552.5h1M629 552.5h1M633 552.5h1M660 552.5h1M663 552.5h2M670 552.5h1M689 552.5h2M698 552.5h1" stroke="#4e008c" stroke-width="5"/>
<path d="M116 552.5h1M124 552.5h2M131 552.5h2M140 552.5h1M146 552.5h1M156 552.5h1M166 552.5h2M172 552.5h1M174 552.5h1M179 552.5h2M183 552.5h1M188 552.5h1M194 552.5h1M202 552.5h3M210 552.5h3M217 552.5h2M237 552.5h2M242 552.5h1M247 552.5h1M253 552.5h1M255 552.5h2M266 552.5h1M284 552.5h1M306 552.5h1M310 552.5h2M316 552.5h4M327 552.5h1M330 552.5h1M336 552.5h1M356 552.5h1M360 552.5h1M362 552.5h1M378 552.5h1M381 552.5h2M385 552.5h1M389 552.5h2M393 552.5h1M398 552.5h3M405 552.5h1M407 552.5h1M418 552.5h1M439 552.5h1M453 552.5h2M467 552.5h1M487 552.5h1M498 552.5h1M503 552.5h1M523 552.5h1M526 552.5h1M528 552.5h1M543 552.5h2M551 552.5h1M568 552.5h1M574 552.5h1M578 552.5h1M583 552.5h1M586 552.5h4M591 552.5h1M604 552.5h2M610 552.5h1M616 552.5h1M631 552.5h1M652 552.5h1M654 552.5h1M657 552.5h1M662 552.5h1M672 552.5h1M674 552.5h1M676 552.5h3M680 552.5h4M685 552.5h2M692 552.5h2M696 552.5h1" stroke="#4604cc" stroke-width="5"/>
<path d="M112 552.5h2M120 552.5h1M127 552.5h1M154 552.5h1M163 552.5h1M181 552.5h2M225 552.5h1M231 552.5h1M249 552.5h2M257 552.5h2M277 552.5h1M286 552.5h1M292 552.5h1M304 552.5h2M320 552.5h1M323 552.5h1M331 552.5h1M334 552.5h1M345 552.5h1M348 552.5h1M357 552.5h1M373 552.5h1M376 552.5h1M379 552.5h2M387 552.5h1M396 552.5h2M401 552.5h1M416 552.5h1M419 552.5h1M425 552.5h1M429 552.5h1M457 552.5h2M462 552.5h2M466 552.5h1M486 552.5h1M489 552.5h2M495 552.5h1M500 552.5h1M506 552.5h1M511 552.5h1M514 552.5h4M519 552.5h1M524 552.5h1M527 552.5h1M529 552.5h2M540 552.5h1M562 552.5h1M571 552.5h2M584 552.5h2M626 552.5h1M632 552.5h1M639 552.5h2M642 552.5h1M647 552.5h1M649 552.5h3M653 552.5h1M659 552.5h1M665 552.5h1M688 552.5h1" stroke="#2610fa" stroke-width="5"/>
<path d="M118 552.5h2M126 552.5h1M141 552.5h1M147 552.5h1M157 552.5h2M193 552.5h1M196 552.5h1M201 552.5h1M228 552.5h1M232 552.5h1M246 552.5h1M271 552.5h1M275 552.5h1M282 552.5h2M285 552.5h1M298 552.5h1M302 552.5h2M321 552.5h2M341 552.5h1M347 552.5h1M355 552.5h1M359 552.5h1M388 552.5h1M412 552.5h1M421 552.5h1M436 552.5h1M468 552.5h1M491 552.5h1M518 552.5h1M520 552.5h1M536 552.5h1M538 552.5h1M541 552.5h1M545 552.5h2M561 552.5h1M575 552.5h3M622 552.5h2M667 552.5h1M679 552.5h1M691 552.5h1" stroke="#0044ff" stroke-width="5"/>
<path d="M117 552.5h1M134 552.5h1M142 552.5h1M153 552.5h1M155 552.5h1M178 552.5h1M254 552.5h1M259 552.5h1M265 552.5h1M273 552.5h2M276 552.5h1M335 552.5h1M340 552.5h1M410 552.5h1M450 552.5h1M476 552.5h1M499 552.5h1M602 552.5h1M617 552.5h1M621 552.5h1M644 552.5h1M668 552.5h1" stroke="#0094ff" stroke-width="5"/>
<path d="M173 552.5h1M260 552.5h1M337 552.5h1M548 552.5h1M597 552.5h2M613 552.5h1" stroke="#00dcff" stroke-width="5"/>
<path d="M161 557.5h1M187 557.5h2M257 557.5h1M559 557.5h1M575 557.5h1" stroke="#1c0024" stroke-width="5"/>
<path d="M137 557.5h1M155 557.5h1M159 557.5h1M186 557.5h1M189 557.5h1M250 557.5h2M261 557.5h1M265 557.5h1M294 557.5h1M302 557.5h1M308 557.5h1M318 557.5h1M348 557.5h1M358 557.5h1M369 557.5h2M376 557.5h1M407 557.5h1M426 557.5h1M447 557.5h1M458 557.5h1M474 557.5h1M502 557.5h1M507 557.5h1M512 557.5h4M526 557.5h1M534 557.5h3M539 557.5h1M552 557.5h1M566 557.5h1M638 557.5h1M647 557.5h1M669 557.5h2M686 557.5h2M697 557.5h1" stroke="#34004c" stroke-width="5"/>
<path d="M106 557.5h4M111 557.5h3M121 557.5h2M133 557.5h2M138 557.5h1M148 557.5h3M156 557.5h3M160 557.5h1M165 557.5h2M174 557.5h1M179 557.5h1M192 557.5h1M200 557.5h3M213 557.5h1M216 557.5h3M222 557.5h2M233 557.5h1M235 557.5h1M238 557.5h1M262 557.5h2M273 557.5h1M277 557.5h1M281 557.5h1M283 557.5h1M285 557.5h3M289 557.5h1M295 557.5h2M319 557.5h1M321 557.5h1M328 557.5h1M332 557.5h1M336 557.5h1M355 557.5h2M371 557.5h2M378 557.5h1M380 557.5h1M382 557.5h1M386 557.5h1M398 557.5h1M403 557.5h3M414 557.5h2M441 557.5h1M445 557.5h2M448 557.5h3M454 557.5h1M478 557.5h2M484 557.5h2M493 557.5h1M511 557.5h1M522 557.5h2M529 557.5h2M544 557.5h2M549 557.5h1M551 557.5h1M554 557.5h1M569 557.5h3M573 557.5h1M576 557.5h1M579 557.5h2M593 557.5h1M595 557.5h1M604 557.5h1M607 557.5h1M611 557.5h2M618 557.5h1M620 557.5h1M623 557.5h1M625 557.5h1M629 557.5h1M639 557.5h3M644 557.5h1M648 557.5h1M651 557.5h1M654 557.5h1M672 557.5h2M676 557.5h1M680 557.5h1M685 557.5h1M688 557.5h2" stroke="#4e008c" stroke-width="5"/>
<path d="M110 557.5h1M114 557.5h3M118 557.5h1M125 557.5h1M129 557.5h1M146 557.5h2M151 557.5h1M154 557.5h1M168 557.5h1M171 557.5h1M196 557.5h1M207 557.5h4M212 557.5h1M214 557.5h2M226 557.5h3M232 557.5h1M243 557.5h1M245 557.5h3M252 557.5h1M264 557.5h1M266 557.5h1M268 557.5h1M270 557.5h3M299 557.5h1M304 557.5h1M306 557.5h2M315 557.5h1M324 557.5h3M329 557.5h3M339 557.5h2M343 557.5h1M349 557.5h4M354 557.5h1M361 557.5h1M363 557.5h4M379 557.5h1M384 557.5h2M393 557.5h1M395 557.5h2M409 557.5h1M416 557.5h1M420 557.5h4M443 557.5h1M453 557.5h1M465 557.5h5M488 557.5h1M492 557.5h1M495 557.5h1M500 557.5h2M509 557.5h1M516 557.5h1M518 557.5h1M520 557.5h2M527 557.5h1M533 557.5h1M540 557.5h2M548 557.5h1M556 557.5h1M558 557.5h1M564 557.5h2M568 557.5h1M581 557.5h1M584 557.5h3M598 557.5h3M602 557.5h1M606 557.5h1M615 557.5h1M622 557.5h1M636 557.5h1M649 557.5h1M661 557.5h1M667 557.5h1M671 557.5h1M696 557.5h1" stroke="#4604cc" stroke-width="5"/>
<path d="M103 557.5h3M139 557.5h1M143 557.5h3M152 557.5h2M164 557.5h1M169 557.5h1M206 557.5h1M219 557.5h3M224 557.5h1M234 557.5h1M241 557.5h1M254 557.5h1M269 557.5h1M275 557.5h1M282 557.5h1M298 557.5h1M300 557.5h1M305 557.5h1M309 557.5h1M320 557.5h1M322 557.5h1M334 557.5h1M337 557.5h2M344 557.5h1M367 557.5h1M430 557.5h1M437 557.5h2M442 557.5h1M455 557.5h1M470 557.5h1M472 557.5h1M486 557.5h2M496 557.5h3M503 557.5h1M510 557.5h1M525 557.5h1M528 557.5h1M542 557.5h1M546 557.5h1M550 557.5h1M561 557.5h2M567 557.5h1M578 557.5h1M596 557.5h2M610 557.5h1M619 557.5h1M624 557.5h1M635 557.5h1M637 557.5h1M642 557.5h1M656 557.5h1M664 557.5h1M677 557.5h1M690 557.5h1" stroke="#2610fa" stroke-width="5"/>
<path d="M117 557.5h1M119 557.5h2M124 557.5h1M126 557.5h1M163 557.5h1M170 557.5h1M176 557.5h1M193 557.5h3M197 557.5h1M225 557.5h1M255 557.5h1M259 557.5h1M276 557.5h1M278 557.5h3M292 557.5h1M317 557.5h1M345 557.5h1M347 557.5h1M389 557.5h1M410 557.5h1M418 557.5h2M435 557.5h2M440 557.5h1M451 557.5h1M471 557.5h1M494 557.5h1M531 557.5h1M537 557.5h2M572 557.5h1M574 557.5h1M587 557.5h1M616 557.5h1M633 557.5h1M650 557.5h1M659 557.5h2M662 557.5h2M682 557.5h1M694 557.5h1" stroke="#0044ff" stroke-width="5"/>
<path d="M140 557.5h3M183 557.5h3M190 557.5h2M198 557.5h1M205 557.5h1M260 557.5h1M274 557.5h1M397 557.5h1M412 557.5h1M456 557.5h2M508 557.5h1M653 557.5h1M681 557.5h1" stroke="#0094ff" stroke-width="5"/>
<path d="M424 557.5h2M592 557.5h1M594 557.5h1M617 557.5h1M683 557.5h1" stroke="#00dcff" stroke-width="5"/>
<path d="M203 562.5h1M294 562.5h1M372 562.5h1M432 562.5h1M467 562.5h1M473 562.5h1M479 562.5h1M592 562.5h2M690 562.5h1" stroke="#1c0024" stroke-width="5"/>
<path d="M119 562.5h1M125 562.5h1M127 562.5h1M129 562.5h1M146 562.5h1M149 562.5h1M174 562.5h1M191 562.5h2M244 562.5h1M250 562.5h1M275 562.5h2M295 562.5h1M306 562.5h1M312 562.5h1M332 562.5h2M342 562.5h1M358 562.5h2M362 562.5h1M366 562.5h1M368 562.5h2M411 562.5h2M420 562.5h1M425 562.5h2M429 562.5h1M437 562.5h1M458 562.5h1M461 562.5h2M464 562.5h1M469 562.5h2M476 562.5h1M490 562.5h1M502 562.5h2M514 562.5h1M534 562.5h2M540 562.5h2M567 562.5h2M573 562.5h2M576 562.5h1M579 562.5h1M584 562.5h1M603 562.5h1M607 562.5h2M611 562.5h1M613 562.5h1M616 562.5h2M623 562.5h1M627 562.5h3M637 562.5h1M641 562.5h1M645 562.5h1M657 562.5h1M662 562.5h1M665 562.5h1M669 562.5h1" stroke="#34004c" stroke-width="5"/>
<path d="M113 562.5h4M120 562.5h1M124 562.5h1M130 562.5h2M133 562.5h1M137 562.5h1M154 562.5h2M164 562.5h1M172 562.5h2M175 562.5h3M179 562.5h1M189 562.5h1M193 562.5h1M196 562.5h1M198 562.5h1M210 562.5h2M229 562.5h2M235 562.5h3M243 562.5h1M246 562.5h1M251 562.5h3M257 562.5h2M262 562.5h2M273 562.5h2M285 562.5h1M291 562.5h3M299 562.5h1M304 562.5h1M318 562.5h1M334 562.5h1M338 562.5h1M341 562.5h1M344 562.5h3M351 562.5h2M360 562.5h1M365 562.5h1M367 562.5h1M390 562.5h2M395 562.5h1M402 562.5h1M405 562.5h2M408 562.5h2M413 562.5h1M415 562.5h1M418 562.5h2M421 562.5h1M435 562.5h1M446 562.5h1M448 562.5h1M465 562.5h1M486 562.5h1M489 562.5h1M492 562.5h1M494 562.5h1M497 562.5h1M500 562.5h2M504 562.5h1M509 562.5h1M521 562.5h1M528 562.5h1M549 562.5h1M551 562.5h1M553 562.5h2M556 562.5h2M560 562.5h1M566 562.5h1M577 562.5h1M581 562.5h2M586 562.5h3M595 562.5h1M605 562.5h1M609 562.5h1M621 562.5h1M624 562.5h1M630 562.5h2M636 562.5h1M659 562.5h2M670 562.5h1M675 562.5h2M678 562.5h1M687 562.5h2M691 562.5h5" stroke="#4e008c" stroke-width="5"/>
<path d="M128 562.5h1M134 562.5h3M161 562.5h1M165 562.5h2M182 562.5h1M185 562.5h2M197 562.5h1M206 562.5h4M220 562.5h1M255 562.5h1M260 562.5h1M272 562.5h1M277 562.5h2M288 562.5h1M324 562.5h3M330 562.5h1M335 562.5h1M343 562.5h1M347 562.5h1M354 562.5h2M357 562.5h1M364 562.5h1M371 562.5h1M375 562.5h2M379 562.5h3M385 562.5h2M393 562.5h1M398 562.5h3M403 562.5h2M414 562.5h1M428 562.5h1M430 562.5h1M439 562.5h1M449 562.5h5M457 562.5h1M499 562.5h1M518 562.5h2M533 562.5h1M561 562.5h1M565 562.5h1M570 562.5h1M583 562.5h1M591 562.5h1M596 562.5h2M606 562.5h1M618 562.5h1M632 562.5h1M635 562.5h1M647 562.5h1M663 562.5h1M666 562.5h3M673 562.5h1M677 562.5h1M680 562.5h1M683 562.5h1M686 562.5h1M698 562.5h1" stroke="#4604cc" stroke-width="5"/>
<path d="M111 562.5h1M147 562.5h1M151 562.5h2M159 562.5h1M162 562.5h2M180 562.5h2M183 562.5h1M190 562.5h1M194 562.5h2M200 562.5h2M213 562.5h1M219 562.5h1M224 562.5h1M231 562.5h1M238 562.5h2M245 562.5h1M261 562.5h1M264 562.5h1M269 562.5h1M287 562.5h1M307 562.5h1M319 562.5h2M348 562.5h1M363 562.5h1M401 562.5h1M422 562.5h1M424 562.5h1M433 562.5h2M454 562.5h2M485 562.5h1M505 562.5h2M515 562.5h1M526 562.5h2M538 562.5h1M544 562.5h1M547 562.5h1M550 562.5h1M555 562.5h1M558 562.5h1M571 562.5h1M594 562.5h1M634 562.5h1M650 562.5h1M672 562.5h1" stroke="#2610fa" stroke-width="5"/>
<path d="M109 562.5h1M112 562.5h1M142 562.5h2M148 562.5h1M204 562.5h1M249 562.5h1M259 562.5h1M268 562.5h1M284 562.5h1M308 562.5h4M314 562.5h1M329 562.5h1M384 562.5h1M438 562.5h1M443 562.5h1M478 562.5h1M487 562.5h2M495 562.5h1M517 562.5h1M520 562.5h1M522 562.5h1M529 562.5h2M589 562.5h1M610 562.5h1M644 562.5h1M649 562.5h1" stroke="#0044ff" stroke-width="5"/>
<path d="M126 562.5h1M223 562.5h1M289 562.5h1M350 562.5h1M459 562.5h1M531 562.5h1M542 562.5h2M562 562.5h1M620 562.5h1" stroke="#0094ff" stroke-width="5"/>
<path d="M197 567h1M365 567h1M474 567h1M526 567h1M569 567h2M592 567h2M603 567h1M646 567h1M695 567h1" stroke="#1c0024" stroke-width="4"/>
<path d="M110 567h1M137 567h2M142 567h2M146 567h1M150 567h1M166 567h1M191 567h1M210 567h2M231 567h1M315 567h2M319 567h1M362 567h1M373 567h2M388 567h2M391 567h1M405 567h2M436 567h1M450 567h1M457 567h1M463 567h2M475 567h1M504 567h1M515 567h1M540 567h1M560 567h1M565 567h1M591 567h1M601 567h1M611 567h1M637 567h1M664 567h1M690 567h1M698 567h1" stroke="#34004c" stroke-width="4"/>
<path d="M131 567h2M144 567h2M155 567h1M170 567h1M186 567h3M194 567h1M205 567h1M209 567h1M215 567h1M217 567h3M228 567h3M236 567h1M240 567h1M244 567h1M278 567h4M289 567h1M293 567h1M310 567h1M314 567h1M322 567h1M343 567h1M349 567h1M392 567h2M407 567h1M478 567h1M486 567h2M491 567h1M496 567h1M505 567h1M512 567h1M516 567h1M519 567h1M521 567h2M538 567h1M542 567h2M561 567h1M589 567h2M595 567h2M602 567h1M608 567h1M621 567h1M633 567h1M640 567h2M658 567h2M679 567h1M682 567h2" stroke="#4e008c" stroke-width="4"/>
<path d="M109 567h1M115 567h1M122 567h1M140 567h2M158 567h1M160 567h1M164 567h2M169 567h1M189 567h1M198 567h1M202 567h1M208 567h1M232 567h1M242 567h1M253 567h1M264 567h1M271 567h1M291 567h1M307 567h1M313 567h1M328 567h5M340 567h1M366 567h2M370 567h2M384 567h1M404 567h1M437 567h1M444 567h1M449 567h1M492 567h1M502 567h1M506 567h1M539 567h1M541 567h1M552 567h2M567 567h1M584 567h1M588 567h1M613 567h1M628 567h1M639 567h1M644 567h1M648 567h1M666 567h1M669 567h2M678 567h1M688 567h1M694 567h1" stroke="#4604cc" stroke-width="4"/>
<path d="M103 567h3M124 567h2M133 567h1M147 567h1M149 567h1M167 567h1M176 567h1M178 567h2M185 567h1M195 567h1M200 567h1M237 567h1M248 567h1M252 567h1M257 567h1M259 567h2M288 567h1M298 567h2M323 567h1M333 567h1M336 567h1M338 567h1M347 567h1M350 567h2M357 567h2M368 567h1M375 567h2M382 567h1M387 567h1M390 567h1M413 567h2M423 567h1M453 567h1M500 567h2M529 567h1M535 567h1M545 567h1M559 567h1M562 567h1M575 567h1M629 567h1M650 567h1M652 567h1M663 567h1M675 567h1M691 567h1" stroke="#2610fa" stroke-width="4"/>
<path d="M159 567h1M216 567h1M251 567h1M266 567h1M303 567h1M311 567h1M324 567h1M355 567h1M369 567h1M394 567h3M424 567h3M466 567h1M483 567h1M528 567h1M548 567h1M605 567h2M631 567h1M692 567h2" stroke="#0044ff" stroke-width="4"/>
<path d="M162 567h2M190 567h1M356 567h1" stroke="#0094ff" stroke-width="4"/>
<rect x="103" y="569" width="596" height="2" fill="url(#g44)"/>
<path d="M108 570h1M115 570h2M125 570h1M126 570h1M136 570h2M142 570h4M148 570h1M149 570h1M151 570h1M153 570h2M156 570h1M159 570h2M185 570h2M190 570h1M191 570h2M196 570h1M197 570h1M199 570h1M203 570h2M208 570h1M212 570h1M215 570h1M216 570h2M220 570h1M221 570h1M227 570h1M229 570h1M231 570h1M237 570h1M239 570h1M241 570h2M243 570h1M244 570h1M249 570h2M252 570h5M258 570h3M268 570h1M275 570h2M284 570h1M286 570h1M292 570h2M297 570h1M301 570h1M309 570h1M312 570h1M314 570h1M315 570h1M323 570h1M325 570h1M338 570h1M339 570h2M345 570h2M348 570h1M349 570h3M357 570h1M362 570h2M377 570h1M378 570h1M381 570h2M387 570h1M390 570h1M392 570h1M396 570h1M399 570h1M406 570h2M410 570h2M412 570h1M417 570h2M425 570h1M439 570h1M440 570h1M443 570h1M444 570h1M448 570h1M450 570h2M462 570h4M470 570h1M475 570h1M485 570h1M488 570h1M492 570h2M501 570h3M510 570h1M512 570h1M514 570h1M518 570h2M526 570h2M530 570h1M533 570h1M534 570h2M540 570h1M542 570h1M545 570h1M561 570h1M562 570h2M564 570h1M569 570h1M572 570h2M574 570h3M577 570h3M593 570h1M595 570h1M607 570h2M610 570h1M614 570h1M615 570h1M620 570h3M629 570h1M635 570h1M638 570h1M641 570h1M648 570h2M656 570h1M657 570h2M661 570h1M662 570h1M664 570h1M665 570h1M667 570h2M674 570h1M675 570h1M677 570h1M678 570h1M682 570h3M688 570h1M689 570h3M697 570h1" stroke="#00c0ff" stroke-width="2" fill="none"/>
<path d="M114 570h1M117 570h1M122 570h1M132 570h2M137 570h3M142 570h1M153 570h1M157 570h1M168 570h1M183 570h1M198 570h2M215 570h3M229 570h2M235 570h1M254 570h2M259 570h3M271 570h1M272 570h2M276 570h2M284 570h2M288 570h1M293 570h1M319 570h1M324 570h1M326 570h1M330 570h1M343 570h1M344 570h1M356 570h2M367 570h1M368 570h2M370 570h2M382 570h1M411 570h1M421 570h1M422 570h4M446 570h1M466 570h1M470 570h1M477 570h1M487 570h2M501 570h1M506 570h1M508 570h3M511 570h1M518 570h1M522 570h1M539 570h1M542 570h1M587 570h2M591 570h1M593 570h1M596 570h1M609 570h1M615 570h2M632 570h1M638 570h1M648 570h1M669 570h1M671 570h3M676 570h2M679 570h3" stroke="#1828f8" stroke-width="2" fill="none"/>
<rect x="103" y="571" width="596" height="4" fill="url(#g45)"/>
<path d="M105 573h1M106 573h1M110 573h2M120 573h1M136 573h1M151 573h2M163 573h1M166 573h2M170 573h2M174 573h1M177 573h1M181 573h2M187 573h2M189 573h1M244 573h3M256 573h2M258 573h1M259 573h1M260 573h1M284 573h2M290 573h1M293 573h1M296 573h1M298 573h1M306 573h2M312 573h1M321 573h1M328 573h2M338 573h2M344 573h2M352 573h1M365 573h1M367 573h1M369 573h1M384 573h1M407 573h1M414 573h2M418 573h2M447 573h3M458 573h1M459 573h1M486 573h1M493 573h1M497 573h2M502 573h1M518 573h1M519 573h1M532 573h1M534 573h1M535 573h1M536 573h1M538 573h1M539 573h1M543 573h1M552 573h1M555 573h1M561 573h3M578 573h2M580 573h1M596 573h1M599 573h2M603 573h1M620 573h1M623 573h1M625 573h1M626 573h1M659 573h1M664 573h1M670 573h2M672 573h1M679 573h1M680 573h1M682 573h1M687 573h1M691 573h1" stroke="#48e800" stroke-width="4" fill="none"/>
<path d="M105 573h2M122 573h1M127 573h2M130 573h2M134 573h1M154 573h1M155 573h1M168 573h1M173 573h1M194 573h1M200 573h2M203 573h1M206 573h1M232 573h1M242 573h1M244 573h1M248 573h1M252 573h1M259 573h1M260 573h1M268 573h1M269 573h1M272 573h1M277 573h1M290 573h1M297 573h1M327 573h3M332 573h1M337 573h1M350 573h1M351 573h1M355 573h2M357 573h1M391 573h1M392 573h1M412 573h1M420 573h1M427 573h2M433 573h1M437 573h2M447 573h1M458 573h2M461 573h1M466 573h2M479 573h1M499 573h1M500 573h2M502 573h1M515 573h1M535 573h3M540 573h1M541 573h2M556 573h1M560 573h1M568 573h1M569 573h3M580 573h1M582 573h1M585 573h3M596 573h1M615 573h1M629 573h2M631 573h1M637 573h1M639 573h1M650 573h1M653 573h1M676 573h1M683 573h2M696 573h1" stroke="#b8f800" stroke-width="4" fill="none"/>
<rect x="103" y="575" width="596" height="1" fill="url(#g46)"/>
<rect x="439" y="590" width="9" height="9" fill="#0060ff"/>
<rect x="448" y="590" width="35" height="9" fill="#0050ff"/>
<rect x="439" y="599" width="9" height="13" fill="#ffd000"/>
<rect x="448" y="599" width="35" height="13" fill="#ffe800"/>
<rect x="439" y="612" width="9" height="7" fill="#ff0000"/>
<rect x="448" y="612" width="35" height="7" fill="#ff0000"/>
<rect x="439" y="619" width="9" height="5" fill="#c00000"/>
<rect x="448" y="619" width="35" height="5" fill="#c00000"/>
<rect x="439" y="624" width="9" height="20" fill="#b00000"/>
<rect x="448" y="624" width="35" height="20" fill="#ac0000"/>
<rect x="439" y="644" width="9" height="3" fill="#ff0000"/>
<rect x="448" y="644" width="35" height="3" fill="#ff0000"/>
<rect x="439" y="647" width="9" height="3" fill="#ff1800"/>
<rect x="448" y="647" width="35" height="3" fill="#ff1800"/>
<rect x="439" y="650" width="9" height="4" fill="#ff0000"/>
<rect x="448" y="650" width="35" height="4" fill="#ff0000"/>
<rect x="587" y="590" width="112" height="9" fill="#000"/>
<path d="M647 594.5h1M648 594.5h1M662 594.5h1M669 594.5h1M672 594.5h1M676 594.5h1M678 594.5h1M680 594.5h1M681 594.5h1M682 594.5h1M684 594.5h1M687 594.5h1M690 594.5h1M691 594.5h2M695 594.5h2" stroke="#480078" stroke-width="9" fill="none"/>
<rect x="587" y="599" width="112" height="13" fill="url(#g47)"/>
<rect x="587" y="612" width="112" height="7" fill="url(#g48)"/>
<rect x="587" y="619" width="112" height="5" fill="url(#g49)"/>
<rect x="587" y="624" width="112" height="5" fill="url(#g50)"/>
<rect x="587" y="629" width="112" height="5" fill="url(#g51)"/>
<rect x="587" y="634" width="112" height="5" fill="url(#g52)"/>
<rect x="587" y="639" width="112" height="5" fill="url(#g53)"/>
<rect x="587" y="644" width="112" height="5" fill="url(#g54)"/>
<rect x="587" y="649" width="112" height="5" fill="url(#g55)"/>
<rect x="103" y="677" width="596" height="14" fill="url(#g56)"/>
<rect x="103" y="691" width="596" height="7" fill="url(#g57)"/>
<rect x="103" y="698" width="596" height="7" fill="url(#g58)"/>
<rect x="103" y="705" width="596" height="9" fill="url(#g59)"/>
<rect x="103" y="714" width="596" height="9" fill="url(#g60)"/>
<rect x="103" y="723" width="596" height="3" fill="url(#g61)"/>
<rect x="103" y="726" width="596" height="4" fill="url(#g62)"/>
<rect x="103" y="730" width="596" height="2" fill="url(#g63)"/>
<path d="M567 684h1M569 684h1M571 684h1M586 684h1M604 684h1M607 684h2M613 684h3M622 684h1M629 684h1M632 684h1M635 684h1M637 684h1M649 684h2M653 684h1M666 684h2M670 684h1M681 684h1M684 684h1M685 684h3M690 684h1M694 684h1" stroke="#00b8ff" stroke-width="14" fill="none"/>
<path d="M592 684h1M594 684h1M605 684h2M607 684h1M611 684h1M612 684h2M626 684h3M642 684h1M645 684h2M655 684h3M659 684h1M663 684h1M667 684h3M674 684h2M685 684h2M690 684h1" stroke="#0078ff" stroke-width="14" fill="none"/>
<rect x="103" y="668" width="317" height="9" fill="url(#g64)"/>
<path d="M289 672.5h1M292 672.5h1M293 672.5h1M295 672.5h4M309 672.5h3M331 672.5h1M334 672.5h2M336 672.5h1M339 672.5h1M342 672.5h1M344 672.5h1M360 672.5h5M373 672.5h1M377 672.5h1M379 672.5h3M385 672.5h1M391 672.5h1M393 672.5h1M394 672.5h1M396 672.5h1M397 672.5h1M401 672.5h1M402 672.5h1M403 672.5h4M407 672.5h4M414 672.5h3" stroke="#000" stroke-width="9" fill="none"/>
<path d="M247 672.5h2M249 672.5h1M264 672.5h1M274 672.5h1M282 672.5h1M283 672.5h2M285 672.5h3M289 672.5h1M305 672.5h1M309 672.5h1M318 672.5h1M323 672.5h4M327 672.5h3" stroke="#0050ff" stroke-width="9" fill="none"/>
<rect x="420" y="668" width="279" height="9" fill="#000"/>
<path d="M420 672.5h1M421 672.5h1M423 672.5h1M425 672.5h1M430 672.5h3M435 672.5h1M436 672.5h1M437 672.5h1M440 672.5h2M445 672.5h1M447 672.5h2M450 672.5h1M451 672.5h1M455 672.5h1M456 672.5h1M459 672.5h1M466 672.5h1M468 672.5h2M471 672.5h2M474 672.5h1M476 672.5h1M477 672.5h1M478 672.5h2M480 672.5h3M483 672.5h1M484 672.5h4M488 672.5h1M494 672.5h3M497 672.5h1M501 672.5h3M511 672.5h1M514 672.5h2M516 672.5h1M521 672.5h2M524 672.5h3M527 672.5h1M531 672.5h1M534 672.5h1M538 672.5h1M543 672.5h1M544 672.5h1M546 672.5h4M552 672.5h1M559 672.5h1M563 672.5h2M566 672.5h1M572 672.5h1M590 672.5h1M597 672.5h3M610 672.5h1M612 672.5h1M615 672.5h1M617 672.5h1M619 672.5h1M620 672.5h1M631 672.5h1M635 672.5h2M640 672.5h1M655 672.5h1M657 672.5h1M663 672.5h1M667 672.5h1M671 672.5h1M677 672.5h2M683 672.5h1M690 672.5h1M691 672.5h1M693 672.5h2" stroke="#480088" stroke-width="9" fill="none"/>
<path d="M425 672.5h1M430 672.5h3M433 672.5h4M464 672.5h1M465 672.5h1M467 672.5h1M480 672.5h1M481 672.5h1M505 672.5h1M512 672.5h2M537 672.5h1M538 672.5h1M544 672.5h1M547 672.5h2M569 672.5h2M576 672.5h3M586 672.5h1M595 672.5h1M596 672.5h1M605 672.5h2M617 672.5h2M620 672.5h2M624 672.5h2M657 672.5h1M662 672.5h3M673 672.5h2M679 672.5h1M683 672.5h1M687 672.5h1M694 672.5h2" stroke="#2a0048" stroke-width="9" fill="none"/>
<rect x="103" y="348" width="349" height="4" fill="#ffff00"/>
<rect x="452" y="348" width="247" height="4" fill="#ff0000"/>
<rect x="103" y="426" width="596" height="4" fill="#ff0000"/>
<rect x="103" y="504" width="596" height="4" fill="#ff0000"/>
<rect x="103" y="582" width="596" height="4" fill="#ffff00"/>
<rect x="601" y="582" width="33" height="4" fill="#ff0000"/>
<rect x="664" y="582" width="12" height="4" fill="#ff0000"/>
<rect x="686" y="582" width="13" height="4" fill="#ff0000"/>
<rect x="103" y="659" width="596" height="4" fill="#ff0000"/>
<rect x="520" y="499" width="3" height="2" fill="#000"/>
<rect x="533" y="499" width="4" height="2" fill="#000"/>
<rect x="508" y="509" width="33" height="2" fill="#000"/>
<rect x="102" y="18" width="598" height="1" fill="#000"/>
<rect x="102" y="83" width="598" height="1" fill="#000"/>
<rect x="152" y="19" width="1" height="1" fill="#000"/>
<rect x="152" y="82" width="1" height="1" fill="#000"/>
<rect x="202" y="19" width="1" height="1" fill="#000"/>
<rect x="202" y="82" width="1" height="1" fill="#000"/>
<rect x="252" y="19" width="1" height="1" fill="#000"/>
<rect x="252" y="82" width="1" height="1" fill="#000"/>
<rect x="301" y="19" width="1" height="1" fill="#000"/>
<rect x="301" y="82" width="1" height="1" fill="#000"/>
<rect x="351" y="19" width="1" height="1" fill="#000"/>
<rect x="351" y="82" width="1" height="1" fill="#000"/>
<rect x="401" y="19" width="1" height="1" fill="#000"/>
<rect x="401" y="82" width="1" height="1" fill="#000"/>
<rect x="450" y="19" width="1" height="1" fill="#000"/>
<rect x="450" y="82" width="1" height="1" fill="#000"/>
<rect x="500" y="19" width="1" height="1" fill="#000"/>
<rect x="500" y="82" width="1" height="1" fill="#000"/>
<rect x="550" y="19" width="1" height="1" fill="#000"/>
<rect x="550" y="82" width="1" height="1" fill="#000"/>
<rect x="599" y="19" width="1" height="1" fill="#000"/>
<rect x="599" y="82" width="1" height="1" fill="#000"/>
<rect x="649" y="19" width="1" height="1" fill="#000"/>
<rect x="649" y="82" width="1" height="1" fill="#000"/>
<rect x="103" y="59" width="12" height="1" fill="#000"/>
<rect x="687" y="59" width="12" height="1" fill="#000"/>
<rect x="103" y="78" width="6" height="1" fill="#000"/>
<rect x="693" y="78" width="6" height="1" fill="#000"/>
<rect x="103" y="73" width="6" height="1" fill="#000"/>
<rect x="693" y="73" width="6" height="1" fill="#000"/>
<rect x="103" y="69" width="6" height="1" fill="#000"/>
<rect x="693" y="69" width="6" height="1" fill="#000"/>
<rect x="103" y="66" width="6" height="1" fill="#000"/>
<rect x="693" y="66" width="6" height="1" fill="#000"/>
<rect x="103" y="63" width="6" height="1" fill="#000"/>
<rect x="693" y="63" width="6" height="1" fill="#000"/>
<rect x="103" y="61" width="6" height="1" fill="#000"/>
<rect x="693" y="61" width="6" height="1" fill="#000"/>
<rect x="103" y="45" width="6" height="1" fill="#000"/>
<rect x="693" y="45" width="6" height="1" fill="#000"/>
<rect x="103" y="36" width="6" height="1" fill="#000"/>
<rect x="693" y="36" width="6" height="1" fill="#000"/>
<rect x="103" y="30" width="6" height="1" fill="#000"/>
<rect x="693" y="30" width="6" height="1" fill="#000"/>
<rect x="103" y="26" width="6" height="1" fill="#000"/>
<rect x="693" y="26" width="6" height="1" fill="#000"/>
<rect x="103" y="22" width="6" height="1" fill="#000"/>
<rect x="693" y="22" width="6" height="1" fill="#000"/>
<rect x="103" y="19" width="6" height="1" fill="#000"/>
<rect x="693" y="19" width="6" height="1" fill="#000"/>
<rect x="102" y="83" width="598" height="1" fill="#000"/>
<rect x="102" y="148" width="598" height="1" fill="#000"/>
<rect x="152" y="84" width="1" height="1" fill="#000"/>
<rect x="152" y="147" width="1" height="1" fill="#000"/>
<rect x="202" y="84" width="1" height="1" fill="#000"/>
<rect x="202" y="147" width="1" height="1" fill="#000"/>
<rect x="252" y="84" width="1" height="1" fill="#000"/>
<rect x="252" y="147" width="1" height="1" fill="#000"/>
<rect x="301" y="84" width="1" height="1" fill="#000"/>
<rect x="301" y="147" width="1" height="1" fill="#000"/>
<rect x="351" y="84" width="1" height="1" fill="#000"/>
<rect x="351" y="147" width="1" height="1" fill="#000"/>
<rect x="401" y="84" width="1" height="1" fill="#000"/>
<rect x="401" y="147" width="1" height="1" fill="#000"/>
<rect x="450" y="84" width="1" height="1" fill="#000"/>
<rect x="450" y="147" width="1" height="1" fill="#000"/>
<rect x="500" y="84" width="1" height="1" fill="#000"/>
<rect x="500" y="147" width="1" height="1" fill="#000"/>
<rect x="550" y="84" width="1" height="1" fill="#000"/>
<rect x="550" y="147" width="1" height="1" fill="#000"/>
<rect x="599" y="84" width="1" height="1" fill="#000"/>
<rect x="599" y="147" width="1" height="1" fill="#000"/>
<rect x="649" y="84" width="1" height="1" fill="#000"/>
<rect x="649" y="147" width="1" height="1" fill="#000"/>
<rect x="103" y="124" width="12" height="1" fill="#000"/>
<rect x="687" y="124" width="12" height="1" fill="#000"/>
<rect x="103" y="143" width="6" height="1" fill="#000"/>
<rect x="693" y="143" width="6" height="1" fill="#000"/>
<rect x="103" y="138" width="6" height="1" fill="#000"/>
<rect x="693" y="138" width="6" height="1" fill="#000"/>
<rect x="103" y="134" width="6" height="1" fill="#000"/>
<rect x="693" y="134" width="6" height="1" fill="#000"/>
<rect x="103" y="131" width="6" height="1" fill="#000"/>
<rect x="693" y="131" width="6" height="1" fill="#000"/>
<rect x="103" y="128" width="6" height="1" fill="#000"/>
<rect x="693" y="128" width="6" height="1" fill="#000"/>
<rect x="103" y="126" width="6" height="1" fill="#000"/>
<rect x="693" y="126" width="6" height="1" fill="#000"/>
<rect x="103" y="110" width="6" height="1" fill="#000"/>
<rect x="693" y="110" width="6" height="1" fill="#000"/>
<rect x="103" y="101" width="6" height="1" fill="#000"/>
<rect x="693" y="101" width="6" height="1" fill="#000"/>
<rect x="103" y="95" width="6" height="1" fill="#000"/>
<rect x="693" y="95" width="6" height="1" fill="#000"/>
<rect x="103" y="91" width="6" height="1" fill="#000"/>
<rect x="693" y="91" width="6" height="1" fill="#000"/>
<rect x="103" y="87" width="6" height="1" fill="#000"/>
<rect x="693" y="87" width="6" height="1" fill="#000"/>
<rect x="103" y="84" width="6" height="1" fill="#000"/>
<rect x="693" y="84" width="6" height="1" fill="#000"/>
<rect x="102" y="148" width="598" height="1" fill="#000"/>
<rect x="102" y="213" width="598" height="1" fill="#000"/>
<rect x="152" y="149" width="1" height="1" fill="#000"/>
<rect x="152" y="212" width="1" height="1" fill="#000"/>
<rect x="202" y="149" width="1" height="1" fill="#000"/>
<rect x="202" y="212" width="1" height="1" fill="#000"/>
<rect x="252" y="149" width="1" height="1" fill="#000"/>
<rect x="252" y="212" width="1" height="1" fill="#000"/>
<rect x="301" y="149" width="1" height="1" fill="#000"/>
<rect x="301" y="212" width="1" height="1" fill="#000"/>
<rect x="351" y="149" width="1" height="1" fill="#000"/>
<rect x="351" y="212" width="1" height="1" fill="#000"/>
<rect x="401" y="149" width="1" height="1" fill="#000"/>
<rect x="401" y="212" width="1" height="1" fill="#000"/>
<rect x="450" y="149" width="1" height="1" fill="#000"/>
<rect x="450" y="212" width="1" height="1" fill="#000"/>
<rect x="500" y="149" width="1" height="1" fill="#000"/>
<rect x="500" y="212" width="1" height="1" fill="#000"/>
<rect x="550" y="149" width="1" height="1" fill="#000"/>
<rect x="550" y="212" width="1" height="1" fill="#000"/>
<rect x="599" y="149" width="1" height="1" fill="#000"/>
<rect x="599" y="212" width="1" height="1" fill="#000"/>
<rect x="649" y="149" width="1" height="1" fill="#000"/>
<rect x="649" y="212" width="1" height="1" fill="#000"/>
<rect x="103" y="189" width="12" height="1" fill="#000"/>
<rect x="687" y="189" width="12" height="1" fill="#000"/>
<rect x="103" y="208" width="6" height="1" fill="#000"/>
<rect x="693" y="208" width="6" height="1" fill="#000"/>
<rect x="103" y="203" width="6" height="1" fill="#000"/>
<rect x="693" y="203" width="6" height="1" fill="#000"/>
<rect x="103" y="199" width="6" height="1" fill="#000"/>
<rect x="693" y="199" width="6" height="1" fill="#000"/>
<rect x="103" y="196" width="6" height="1" fill="#000"/>
<rect x="693" y="196" width="6" height="1" fill="#000"/>
<rect x="103" y="193" width="6" height="1" fill="#000"/>
<rect x="693" y="193" width="6" height="1" fill="#000"/>
<rect x="103" y="191" width="6" height="1" fill="#000"/>
<rect x="693" y="191" width="6" height="1" fill="#000"/>
<rect x="103" y="175" width="6" height="1" fill="#000"/>
<rect x="693" y="175" width="6" height="1" fill="#000"/>
<rect x="103" y="166" width="6" height="1" fill="#000"/>
<rect x="693" y="166" width="6" height="1" fill="#000"/>
<rect x="103" y="160" width="6" height="1" fill="#000"/>
<rect x="693" y="160" width="6" height="1" fill="#000"/>
<rect x="103" y="156" width="6" height="1" fill="#000"/>
<rect x="693" y="156" width="6" height="1" fill="#000"/>
<rect x="103" y="152" width="6" height="1" fill="#000"/>
<rect x="693" y="152" width="6" height="1" fill="#000"/>
<rect x="103" y="149" width="6" height="1" fill="#000"/>
<rect x="693" y="149" width="6" height="1" fill="#000"/>
<rect x="102" y="213" width="598" height="1" fill="#000"/>
<rect x="102" y="278" width="598" height="1" fill="#000"/>
<rect x="152" y="214" width="1" height="1" fill="#000"/>
<rect x="152" y="277" width="1" height="1" fill="#000"/>
<rect x="202" y="214" width="1" height="1" fill="#000"/>
<rect x="202" y="277" width="1" height="1" fill="#000"/>
<rect x="252" y="214" width="1" height="1" fill="#000"/>
<rect x="252" y="277" width="1" height="1" fill="#000"/>
<rect x="301" y="214" width="1" height="1" fill="#000"/>
<rect x="301" y="277" width="1" height="1" fill="#000"/>
<rect x="351" y="214" width="1" height="1" fill="#000"/>
<rect x="351" y="277" width="1" height="1" fill="#000"/>
<rect x="401" y="214" width="1" height="1" fill="#000"/>
<rect x="401" y="277" width="1" height="1" fill="#000"/>
<rect x="450" y="214" width="1" height="1" fill="#000"/>
<rect x="450" y="277" width="1" height="1" fill="#000"/>
<rect x="500" y="214" width="1" height="1" fill="#000"/>
<rect x="500" y="277" width="1" height="1" fill="#000"/>
<rect x="550" y="214" width="1" height="1" fill="#000"/>
<rect x="550" y="277" width="1" height="1" fill="#000"/>
<rect x="599" y="214" width="1" height="1" fill="#000"/>
<rect x="599" y="277" width="1" height="1" fill="#000"/>
<rect x="649" y="214" width="1" height="1" fill="#000"/>
<rect x="649" y="277" width="1" height="1" fill="#000"/>
<rect x="103" y="254" width="12" height="1" fill="#000"/>
<rect x="687" y="254" width="12" height="1" fill="#000"/>
<rect x="103" y="273" width="6" height="1" fill="#000"/>
<rect x="693" y="273" width="6" height="1" fill="#000"/>
<rect x="103" y="268" width="6" height="1" fill="#000"/>
<rect x="693" y="268" width="6" height="1" fill="#000"/>
<rect x="103" y="264" width="6" height="1" fill="#000"/>
<rect x="693" y="264" width="6" height="1" fill="#000"/>
<rect x="103" y="261" width="6" height="1" fill="#000"/>
<rect x="693" y="261" width="6" height="1" fill="#000"/>
<rect x="103" y="258" width="6" height="1" fill="#000"/>
<rect x="693" y="258" width="6" height="1" fill="#000"/>
<rect x="103" y="256" width="6" height="1" fill="#000"/>
<rect x="693" y="256" width="6" height="1" fill="#000"/>
<rect x="103" y="240" width="6" height="1" fill="#000"/>
<rect x="693" y="240" width="6" height="1" fill="#000"/>
<rect x="103" y="231" width="6" height="1" fill="#000"/>
<rect x="693" y="231" width="6" height="1" fill="#000"/>
<rect x="103" y="225" width="6" height="1" fill="#000"/>
<rect x="693" y="225" width="6" height="1" fill="#000"/>
<rect x="103" y="221" width="6" height="1" fill="#000"/>
<rect x="693" y="221" width="6" height="1" fill="#000"/>
<rect x="103" y="217" width="6" height="1" fill="#000"/>
<rect x="693" y="217" width="6" height="1" fill="#000"/>
<rect x="103" y="214" width="6" height="1" fill="#000"/>
<rect x="693" y="214" width="6" height="1" fill="#000"/>
<rect x="102" y="278" width="598" height="1" fill="#000"/>
<rect x="102" y="343" width="598" height="1" fill="#000"/>
<rect x="152" y="342" width="1" height="1" fill="#000"/>
<rect x="202" y="342" width="1" height="1" fill="#000"/>
<rect x="252" y="279" width="1" height="1" fill="#000"/>
<rect x="252" y="342" width="1" height="1" fill="#000"/>
<rect x="301" y="342" width="1" height="1" fill="#000"/>
<rect x="351" y="342" width="1" height="1" fill="#000"/>
<rect x="401" y="279" width="1" height="1" fill="#000"/>
<rect x="401" y="342" width="1" height="1" fill="#000"/>
<rect x="450" y="342" width="1" height="1" fill="#000"/>
<rect x="500" y="342" width="1" height="1" fill="#000"/>
<rect x="550" y="279" width="1" height="1" fill="#000"/>
<rect x="550" y="342" width="1" height="1" fill="#000"/>
<rect x="599" y="342" width="1" height="1" fill="#000"/>
<rect x="649" y="342" width="1" height="1" fill="#000"/>
<rect x="103" y="318" width="12" height="1" fill="#000"/>
<rect x="687" y="318" width="12" height="1" fill="#000"/>
<rect x="103" y="337" width="6" height="1" fill="#000"/>
<rect x="693" y="337" width="6" height="1" fill="#000"/>
<rect x="103" y="332" width="6" height="1" fill="#000"/>
<rect x="693" y="332" width="6" height="1" fill="#000"/>
<rect x="103" y="329" width="6" height="1" fill="#000"/>
<rect x="693" y="329" width="6" height="1" fill="#000"/>
<rect x="103" y="326" width="6" height="1" fill="#000"/>
<rect x="693" y="326" width="6" height="1" fill="#000"/>
<rect x="103" y="323" width="6" height="1" fill="#000"/>
<rect x="693" y="323" width="6" height="1" fill="#000"/>
<rect x="103" y="320" width="6" height="1" fill="#000"/>
<rect x="693" y="320" width="6" height="1" fill="#000"/>
<rect x="103" y="304" width="6" height="1" fill="#000"/>
<rect x="693" y="304" width="6" height="1" fill="#000"/>
<rect x="103" y="296" width="6" height="1" fill="#000"/>
<rect x="693" y="296" width="6" height="1" fill="#000"/>
<rect x="103" y="290" width="6" height="1" fill="#000"/>
<rect x="693" y="290" width="6" height="1" fill="#000"/>
<rect x="103" y="285" width="6" height="1" fill="#000"/>
<rect x="693" y="285" width="6" height="1" fill="#000"/>
<rect x="103" y="281" width="6" height="1" fill="#000"/>
<rect x="693" y="281" width="6" height="1" fill="#000"/>
<rect x="103" y="278" width="6" height="1" fill="#000"/>
<rect x="693" y="278" width="6" height="1" fill="#000"/>
<rect x="102" y="356" width="598" height="1" fill="#000"/>
<rect x="102" y="420" width="598" height="1" fill="#000"/>
<rect x="252" y="357" width="1" height="1" fill="#000"/>
<rect x="252" y="419" width="1" height="1" fill="#000"/>
<rect x="401" y="357" width="1" height="1" fill="#000"/>
<rect x="401" y="419" width="1" height="1" fill="#000"/>
<rect x="550" y="357" width="1" height="1" fill="#000"/>
<rect x="550" y="419" width="1" height="1" fill="#000"/>
<rect x="103" y="414" width="12" height="1" fill="#000"/>
<rect x="687" y="414" width="12" height="1" fill="#000"/>
<rect x="103" y="378" width="12" height="1" fill="#000"/>
<rect x="687" y="378" width="12" height="1" fill="#000"/>
<rect x="103" y="417" width="6" height="1" fill="#000"/>
<rect x="693" y="417" width="6" height="1" fill="#000"/>
<rect x="103" y="415" width="6" height="1" fill="#000"/>
<rect x="693" y="415" width="6" height="1" fill="#000"/>
<rect x="103" y="403" width="6" height="1" fill="#000"/>
<rect x="693" y="403" width="6" height="1" fill="#000"/>
<rect x="103" y="397" width="6" height="1" fill="#000"/>
<rect x="693" y="397" width="6" height="1" fill="#000"/>
<rect x="103" y="392" width="6" height="1" fill="#000"/>
<rect x="693" y="392" width="6" height="1" fill="#000"/>
<rect x="103" y="389" width="6" height="1" fill="#000"/>
<rect x="693" y="389" width="6" height="1" fill="#000"/>
<rect x="103" y="386" width="6" height="1" fill="#000"/>
<rect x="693" y="386" width="6" height="1" fill="#000"/>
<rect x="103" y="383" width="6" height="1" fill="#000"/>
<rect x="693" y="383" width="6" height="1" fill="#000"/>
<rect x="103" y="381" width="6" height="1" fill="#000"/>
<rect x="693" y="381" width="6" height="1" fill="#000"/>
<rect x="103" y="379" width="6" height="1" fill="#000"/>
<rect x="693" y="379" width="6" height="1" fill="#000"/>
<rect x="103" y="367" width="6" height="1" fill="#000"/>
<rect x="693" y="367" width="6" height="1" fill="#000"/>
<rect x="103" y="361" width="6" height="1" fill="#000"/>
<rect x="693" y="361" width="6" height="1" fill="#000"/>
<rect x="103" y="356" width="6" height="1" fill="#000"/>
<rect x="693" y="356" width="6" height="1" fill="#000"/>
<rect x="102" y="433" width="598" height="1" fill="#000"/>
<rect x="102" y="498" width="598" height="1" fill="#000"/>
<rect x="152" y="434" width="1" height="1" fill="#000"/>
<rect x="202" y="434" width="1" height="1" fill="#000"/>
<rect x="252" y="434" width="1" height="1" fill="#000"/>
<rect x="252" y="497" width="1" height="1" fill="#000"/>
<rect x="301" y="434" width="1" height="1" fill="#000"/>
<rect x="351" y="434" width="1" height="1" fill="#000"/>
<rect x="401" y="434" width="1" height="1" fill="#000"/>
<rect x="401" y="497" width="1" height="1" fill="#000"/>
<rect x="450" y="434" width="1" height="1" fill="#000"/>
<rect x="500" y="434" width="1" height="1" fill="#000"/>
<rect x="550" y="434" width="1" height="1" fill="#000"/>
<rect x="550" y="497" width="1" height="1" fill="#000"/>
<rect x="599" y="434" width="1" height="1" fill="#000"/>
<rect x="649" y="434" width="1" height="1" fill="#000"/>
<rect x="103" y="485" width="12" height="1" fill="#000"/>
<rect x="687" y="485" width="12" height="1" fill="#000"/>
<rect x="103" y="453" width="12" height="1" fill="#000"/>
<rect x="687" y="453" width="12" height="1" fill="#000"/>
<rect x="103" y="495" width="6" height="1" fill="#000"/>
<rect x="693" y="495" width="6" height="1" fill="#000"/>
<rect x="103" y="492" width="6" height="1" fill="#000"/>
<rect x="693" y="492" width="6" height="1" fill="#000"/>
<rect x="103" y="490" width="6" height="1" fill="#000"/>
<rect x="693" y="490" width="6" height="1" fill="#000"/>
<rect x="103" y="488" width="6" height="1" fill="#000"/>
<rect x="693" y="488" width="6" height="1" fill="#000"/>
<rect x="103" y="486" width="6" height="1" fill="#000"/>
<rect x="693" y="486" width="6" height="1" fill="#000"/>
<rect x="103" y="475" width="6" height="1" fill="#000"/>
<rect x="693" y="475" width="6" height="1" fill="#000"/>
<rect x="103" y="470" width="6" height="1" fill="#000"/>
<rect x="693" y="470" width="6" height="1" fill="#000"/>
<rect x="103" y="466" width="6" height="1" fill="#000"/>
<rect x="693" y="466" width="6" height="1" fill="#000"/>
<rect x="103" y="463" width="6" height="1" fill="#000"/>
<rect x="693" y="463" width="6" height="1" fill="#000"/>
<rect x="103" y="460" width="6" height="1" fill="#000"/>
<rect x="693" y="460" width="6" height="1" fill="#000"/>
<rect x="103" y="458" width="6" height="1" fill="#000"/>
<rect x="693" y="458" width="6" height="1" fill="#000"/>
<rect x="103" y="456" width="6" height="1" fill="#000"/>
<rect x="693" y="456" width="6" height="1" fill="#000"/>
<rect x="103" y="454" width="6" height="1" fill="#000"/>
<rect x="693" y="454" width="6" height="1" fill="#000"/>
<rect x="103" y="443" width="6" height="1" fill="#000"/>
<rect x="693" y="443" width="6" height="1" fill="#000"/>
<rect x="103" y="438" width="6" height="1" fill="#000"/>
<rect x="693" y="438" width="6" height="1" fill="#000"/>
<rect x="103" y="434" width="6" height="1" fill="#000"/>
<rect x="693" y="434" width="6" height="1" fill="#000"/>
<rect x="102" y="511" width="598" height="1" fill="#000"/>
<rect x="102" y="576" width="598" height="1" fill="#000"/>
<rect x="152" y="512" width="1" height="1" fill="#000"/>
<rect x="152" y="575" width="1" height="1" fill="#000"/>
<rect x="202" y="512" width="1" height="1" fill="#000"/>
<rect x="202" y="575" width="1" height="1" fill="#000"/>
<rect x="252" y="512" width="1" height="1" fill="#000"/>
<rect x="252" y="575" width="1" height="1" fill="#000"/>
<rect x="301" y="512" width="1" height="1" fill="#000"/>
<rect x="301" y="575" width="1" height="1" fill="#000"/>
<rect x="351" y="512" width="1" height="1" fill="#000"/>
<rect x="351" y="575" width="1" height="1" fill="#000"/>
<rect x="401" y="512" width="1" height="1" fill="#000"/>
<rect x="401" y="575" width="1" height="1" fill="#000"/>
<rect x="450" y="512" width="1" height="1" fill="#000"/>
<rect x="450" y="575" width="1" height="1" fill="#000"/>
<rect x="500" y="512" width="1" height="1" fill="#000"/>
<rect x="500" y="575" width="1" height="1" fill="#000"/>
<rect x="550" y="512" width="1" height="1" fill="#000"/>
<rect x="550" y="575" width="1" height="1" fill="#000"/>
<rect x="599" y="512" width="1" height="1" fill="#000"/>
<rect x="599" y="575" width="1" height="1" fill="#000"/>
<rect x="649" y="512" width="1" height="1" fill="#000"/>
<rect x="649" y="575" width="1" height="1" fill="#000"/>
<rect x="103" y="564" width="12" height="1" fill="#000"/>
<rect x="687" y="564" width="12" height="1" fill="#000"/>
<rect x="103" y="532" width="12" height="1" fill="#000"/>
<rect x="687" y="532" width="12" height="1" fill="#000"/>
<rect x="103" y="573" width="6" height="1" fill="#000"/>
<rect x="693" y="573" width="6" height="1" fill="#000"/>
<rect x="103" y="571" width="6" height="1" fill="#000"/>
<rect x="693" y="571" width="6" height="1" fill="#000"/>
<rect x="103" y="568" width="6" height="1" fill="#000"/>
<rect x="693" y="568" width="6" height="1" fill="#000"/>
<rect x="103" y="567" width="6" height="1" fill="#000"/>
<rect x="693" y="567" width="6" height="1" fill="#000"/>
<rect x="103" y="565" width="6" height="1" fill="#000"/>
<rect x="693" y="565" width="6" height="1" fill="#000"/>
<rect x="103" y="554" width="6" height="1" fill="#000"/>
<rect x="693" y="554" width="6" height="1" fill="#000"/>
<rect x="103" y="548" width="6" height="1" fill="#000"/>
<rect x="693" y="548" width="6" height="1" fill="#000"/>
<rect x="103" y="544" width="6" height="1" fill="#000"/>
<rect x="693" y="544" width="6" height="1" fill="#000"/>
<rect x="103" y="541" width="6" height="1" fill="#000"/>
<rect x="693" y="541" width="6" height="1" fill="#000"/>
<rect x="103" y="539" width="6" height="1" fill="#000"/>
<rect x="693" y="539" width="6" height="1" fill="#000"/>
<rect x="103" y="536" width="6" height="1" fill="#000"/>
<rect x="693" y="536" width="6" height="1" fill="#000"/>
<rect x="103" y="535" width="6" height="1" fill="#000"/>
<rect x="693" y="535" width="6" height="1" fill="#000"/>
<rect x="103" y="533" width="6" height="1" fill="#000"/>
<rect x="693" y="533" width="6" height="1" fill="#000"/>
<rect x="103" y="522" width="6" height="1" fill="#000"/>
<rect x="693" y="522" width="6" height="1" fill="#000"/>
<rect x="103" y="516" width="6" height="1" fill="#000"/>
<rect x="693" y="516" width="6" height="1" fill="#000"/>
<rect x="103" y="512" width="6" height="1" fill="#000"/>
<rect x="693" y="512" width="6" height="1" fill="#000"/>
<rect x="102" y="589" width="598" height="1" fill="#000"/>
<rect x="102" y="654" width="598" height="1" fill="#000"/>
<rect x="152" y="590" width="1" height="1" fill="#000"/>
<rect x="152" y="653" width="1" height="1" fill="#000"/>
<rect x="202" y="590" width="1" height="1" fill="#000"/>
<rect x="202" y="653" width="1" height="1" fill="#000"/>
<rect x="252" y="590" width="1" height="1" fill="#000"/>
<rect x="252" y="653" width="1" height="1" fill="#000"/>
<rect x="301" y="590" width="1" height="1" fill="#000"/>
<rect x="301" y="653" width="1" height="1" fill="#000"/>
<rect x="351" y="590" width="1" height="1" fill="#000"/>
<rect x="351" y="653" width="1" height="1" fill="#000"/>
<rect x="401" y="590" width="1" height="1" fill="#000"/>
<rect x="401" y="653" width="1" height="1" fill="#000"/>
<rect x="450" y="590" width="1" height="1" fill="#000"/>
<rect x="450" y="653" width="1" height="1" fill="#000"/>
<rect x="500" y="590" width="1" height="1" fill="#000"/>
<rect x="500" y="653" width="1" height="1" fill="#000"/>
<rect x="550" y="590" width="1" height="1" fill="#000"/>
<rect x="550" y="653" width="1" height="1" fill="#000"/>
<rect x="599" y="590" width="1" height="1" fill="#000"/>
<rect x="599" y="653" width="1" height="1" fill="#000"/>
<rect x="649" y="590" width="1" height="1" fill="#000"/>
<rect x="649" y="653" width="1" height="1" fill="#000"/>
<rect x="103" y="643" width="12" height="1" fill="#000"/>
<rect x="687" y="643" width="12" height="1" fill="#000"/>
<rect x="103" y="609" width="12" height="1" fill="#000"/>
<rect x="687" y="609" width="12" height="1" fill="#000"/>
<rect x="103" y="653" width="6" height="1" fill="#000"/>
<rect x="693" y="653" width="6" height="1" fill="#000"/>
<rect x="103" y="650" width="6" height="1" fill="#000"/>
<rect x="693" y="650" width="6" height="1" fill="#000"/>
<rect x="103" y="648" width="6" height="1" fill="#000"/>
<rect x="693" y="648" width="6" height="1" fill="#000"/>
<rect x="103" y="646" width="6" height="1" fill="#000"/>
<rect x="693" y="646" width="6" height="1" fill="#000"/>
<rect x="103" y="644" width="6" height="1" fill="#000"/>
<rect x="693" y="644" width="6" height="1" fill="#000"/>
<rect x="103" y="633" width="6" height="1" fill="#000"/>
<rect x="693" y="633" width="6" height="1" fill="#000"/>
<rect x="103" y="627" width="6" height="1" fill="#000"/>
<rect x="693" y="627" width="6" height="1" fill="#000"/>
<rect x="103" y="622" width="6" height="1" fill="#000"/>
<rect x="693" y="622" width="6" height="1" fill="#000"/>
<rect x="103" y="619" width="6" height="1" fill="#000"/>
<rect x="693" y="619" width="6" height="1" fill="#000"/>
<rect x="103" y="616" width="6" height="1" fill="#000"/>
<rect x="693" y="616" width="6" height="1" fill="#000"/>
<rect x="103" y="614" width="6" height="1" fill="#000"/>
<rect x="693" y="614" width="6" height="1" fill="#000"/>
<rect x="103" y="612" width="6" height="1" fill="#000"/>
<rect x="693" y="612" width="6" height="1" fill="#000"/>
<rect x="103" y="611" width="6" height="1" fill="#000"/>
<rect x="693" y="611" width="6" height="1" fill="#000"/>
<rect x="103" y="599" width="6" height="1" fill="#000"/>
<rect x="693" y="599" width="6" height="1" fill="#000"/>
<rect x="103" y="593" width="6" height="1" fill="#000"/>
<rect x="693" y="593" width="6" height="1" fill="#000"/>
<rect x="102" y="667" width="598" height="1" fill="#000"/>
<rect x="102" y="732" width="598" height="1" fill="#000"/>
<rect x="152" y="668" width="1" height="1" fill="#000"/>
<rect x="152" y="731" width="1" height="1" fill="#000"/>
<rect x="202" y="668" width="1" height="1" fill="#000"/>
<rect x="202" y="731" width="1" height="1" fill="#000"/>
<rect x="252" y="668" width="1" height="1" fill="#000"/>
<rect x="252" y="731" width="1" height="1" fill="#000"/>
<rect x="301" y="668" width="1" height="1" fill="#000"/>
<rect x="301" y="731" width="1" height="1" fill="#000"/>
<rect x="351" y="668" width="1" height="1" fill="#000"/>
<rect x="351" y="731" width="1" height="1" fill="#000"/>
<rect x="401" y="668" width="1" height="1" fill="#000"/>
<rect x="401" y="731" width="1" height="1" fill="#000"/>
<rect x="450" y="668" width="1" height="1" fill="#000"/>
<rect x="450" y="731" width="1" height="1" fill="#000"/>
<rect x="500" y="668" width="1" height="1" fill="#000"/>
<rect x="500" y="731" width="1" height="1" fill="#000"/>
<rect x="550" y="668" width="1" height="1" fill="#000"/>
<rect x="550" y="731" width="1" height="1" fill="#000"/>
<rect x="599" y="668" width="1" height="1" fill="#000"/>
<rect x="599" y="731" width="1" height="1" fill="#000"/>
<rect x="649" y="668" width="1" height="1" fill="#000"/>
<rect x="649" y="731" width="1" height="1" fill="#000"/>
<rect x="103" y="723" width="12" height="1" fill="#000"/>
<rect x="687" y="723" width="12" height="1" fill="#000"/>
<rect x="103" y="688" width="12" height="1" fill="#000"/>
<rect x="687" y="688" width="12" height="1" fill="#000"/>
<rect x="103" y="731" width="6" height="1" fill="#000"/>
<rect x="693" y="731" width="6" height="1" fill="#000"/>
<rect x="103" y="728" width="6" height="1" fill="#000"/>
<rect x="693" y="728" width="6" height="1" fill="#000"/>
<rect x="103" y="726" width="6" height="1" fill="#000"/>
<rect x="693" y="726" width="6" height="1" fill="#000"/>
<rect x="103" y="725" width="6" height="1" fill="#000"/>
<rect x="693" y="725" width="6" height="1" fill="#000"/>
<rect x="103" y="712" width="6" height="1" fill="#000"/>
<rect x="693" y="712" width="6" height="1" fill="#000"/>
<rect x="103" y="706" width="6" height="1" fill="#000"/>
<rect x="693" y="706" width="6" height="1" fill="#000"/>
<rect x="103" y="702" width="6" height="1" fill="#000"/>
<rect x="693" y="702" width="6" height="1" fill="#000"/>
<rect x="103" y="699" width="6" height="1" fill="#000"/>
<rect x="693" y="699" width="6" height="1" fill="#000"/>
<rect x="103" y="696" width="6" height="1" fill="#000"/>
<rect x="693" y="696" width="6" height="1" fill="#000"/>
<rect x="103" y="693" width="6" height="1" fill="#000"/>
<rect x="693" y="693" width="6" height="1" fill="#000"/>
<rect x="103" y="691" width="6" height="1" fill="#000"/>
<rect x="693" y="691" width="6" height="1" fill="#000"/>
<rect x="103" y="690" width="6" height="1" fill="#000"/>
<rect x="693" y="690" width="6" height="1" fill="#000"/>
<rect x="103" y="677" width="6" height="1" fill="#000"/>
<rect x="693" y="677" width="6" height="1" fill="#000"/>
<rect x="103" y="671" width="6" height="1" fill="#000"/>
<rect x="693" y="671" width="6" height="1" fill="#000"/>
<rect x="102" y="18" width="1" height="715" fill="#000"/>
<rect x="699" y="18" width="1" height="715" fill="#000"/>
<rect x="705" y="18" width="8" height="66" fill="#000"/>
<rect x="706" y="19" width="6" height="64" fill="url(#g65)"/>
<rect x="710" y="20" width="2" height="1" fill="#000"/>
<text x="715.3" y="25" font-size="11"><tspan textLength="12.4" lengthAdjust="spacingAndGlyphs">10</tspan><tspan x="728.6" y="20.4" font-size="7">7</tspan></text>
<rect x="710" y="34" width="2" height="1" fill="#000"/>
<text x="715.3" y="38" font-size="11"><tspan textLength="12.4" lengthAdjust="spacingAndGlyphs">10</tspan><tspan x="728.6" y="33.4" font-size="7">6</tspan></text>
<rect x="710" y="46" width="2" height="1" fill="#000"/>
<text x="715.3" y="51" font-size="11"><tspan textLength="12.4" lengthAdjust="spacingAndGlyphs">10</tspan><tspan x="728.6" y="46.4" font-size="7">5</tspan></text>
<rect x="710" y="60" width="2" height="1" fill="#000"/>
<text x="715.3" y="64" font-size="11"><tspan textLength="12.4" lengthAdjust="spacingAndGlyphs">10</tspan><tspan x="728.6" y="59.4" font-size="7">4</tspan></text>
<rect x="710" y="72" width="2" height="1" fill="#000"/>
<text x="715.3" y="77" font-size="11"><tspan textLength="12.4" lengthAdjust="spacingAndGlyphs">10</tspan><tspan x="728.6" y="72.4" font-size="7">3</tspan></text>
<text x="744.5" y="51" font-size="11" text-anchor="middle" textLength="24" lengthAdjust="spacingAndGlyphs" transform="rotate(-90 744.5 51)">Eflux</text>
<rect x="705" y="83" width="8" height="66" fill="#000"/>
<rect x="706" y="84" width="6" height="64" fill="url(#g66)"/>
<text x="715.3" y="91" font-size="11"><tspan textLength="12.4" lengthAdjust="spacingAndGlyphs">10</tspan><tspan x="728.6" y="86.4" font-size="7">5</tspan></text>
<rect x="710" y="98" width="2" height="1" fill="#000"/>
<text x="715.3" y="102.25" font-size="11"><tspan textLength="12.4" lengthAdjust="spacingAndGlyphs">10</tspan><tspan x="728.6" y="97.65" font-size="7">4</tspan></text>
<rect x="710" y="112" width="2" height="1" fill="#000"/>
<text x="715.3" y="116.3" font-size="11"><tspan textLength="12.4" lengthAdjust="spacingAndGlyphs">10</tspan><tspan x="728.6" y="111.7" font-size="7">3</tspan></text>
<rect x="710" y="126" width="2" height="1" fill="#000"/>
<text x="715.3" y="130.35" font-size="11"><tspan textLength="12.4" lengthAdjust="spacingAndGlyphs">10</tspan><tspan x="728.6" y="125.75" font-size="7">2</tspan></text>
<rect x="710" y="140" width="2" height="1" fill="#000"/>
<text x="715.3" y="144.4" font-size="11"><tspan textLength="12.4" lengthAdjust="spacingAndGlyphs">10</tspan><tspan x="728.6" y="139.8" font-size="7">1</tspan></text>
<text x="744.5" y="116" font-size="11" text-anchor="middle" textLength="24" lengthAdjust="spacingAndGlyphs" transform="rotate(-90 744.5 116)">Eflux</text>
<rect x="705" y="148" width="8" height="66" fill="#000"/>
<rect x="706" y="149" width="6" height="64" fill="url(#g67)"/>
<rect x="710" y="158" width="2" height="1" fill="#000"/>
<text x="715.3" y="162.5" font-size="11" textLength="26" lengthAdjust="spacingAndGlyphs">1000</text>
<rect x="710" y="179" width="2" height="1" fill="#000"/>
<text x="715.3" y="183.5" font-size="11" textLength="19.4" lengthAdjust="spacingAndGlyphs">100</text>
<rect x="710" y="200" width="2" height="1" fill="#000"/>
<text x="715.3" y="204.5" font-size="11" textLength="12.4" lengthAdjust="spacingAndGlyphs">10</text>
<text x="754" y="180.5" font-size="11" text-anchor="middle" transform="rotate(-90 754 180.5)" textLength="24" lengthAdjust="spacingAndGlyphs">Eflux</text>
<rect x="705" y="213" width="8" height="66" fill="#000"/>
<rect x="706" y="214" width="6" height="64" fill="url(#g68)"/>
<text x="715.3" y="221" font-size="11"><tspan textLength="12.4" lengthAdjust="spacingAndGlyphs">10</tspan><tspan x="728.6" y="216.4" font-size="7">7</tspan></text>
<rect x="710" y="228" width="2" height="1" fill="#000"/>
<text x="715.3" y="232.5" font-size="11"><tspan textLength="12.4" lengthAdjust="spacingAndGlyphs">10</tspan><tspan x="728.6" y="227.9" font-size="7">6</tspan></text>
<rect x="710" y="241" width="2" height="1" fill="#000"/>
<text x="715.3" y="245.5" font-size="11"><tspan textLength="12.4" lengthAdjust="spacingAndGlyphs">10</tspan><tspan x="728.6" y="240.9" font-size="7">5</tspan></text>
<rect x="710" y="254" width="2" height="1" fill="#000"/>
<text x="715.3" y="258.5" font-size="11"><tspan textLength="12.4" lengthAdjust="spacingAndGlyphs">10</tspan><tspan x="728.6" y="253.9" font-size="7">4</tspan></text>
<rect x="710" y="267" width="2" height="1" fill="#000"/>
<text x="715.3" y="271.5" font-size="11"><tspan textLength="12.4" lengthAdjust="spacingAndGlyphs">10</tspan><tspan x="728.6" y="266.9" font-size="7">3</tspan></text>
<text x="744.5" y="246" font-size="11" text-anchor="middle" textLength="24" lengthAdjust="spacingAndGlyphs" transform="rotate(-90 744.5 246)">Eflux</text>
<rect x="705" y="278" width="8" height="66" fill="#000"/>
<rect x="706" y="279" width="6" height="64" fill="url(#g69)"/>
<rect x="710" y="281" width="2" height="1" fill="#000"/>
<text x="715.3" y="285.5" font-size="11"><tspan textLength="12.4" lengthAdjust="spacingAndGlyphs">10</tspan><tspan x="728.6" y="280.9" font-size="7">7</tspan></text>
<rect x="710" y="294" width="2" height="1" fill="#000"/>
<text x="715.3" y="298.5" font-size="11"><tspan textLength="12.4" lengthAdjust="spacingAndGlyphs">10</tspan><tspan x="728.6" y="293.9" font-size="7">6</tspan></text>
<rect x="710" y="307" width="2" height="1" fill="#000"/>
<text x="715.3" y="311.5" font-size="11"><tspan textLength="12.4" lengthAdjust="spacingAndGlyphs">10</tspan><tspan x="728.6" y="306.9" font-size="7">5</tspan></text>
<rect x="710" y="320" width="2" height="1" fill="#000"/>
<text x="715.3" y="324.5" font-size="11"><tspan textLength="12.4" lengthAdjust="spacingAndGlyphs">10</tspan><tspan x="728.6" y="319.9" font-size="7">4</tspan></text>
<rect x="710" y="333" width="2" height="1" fill="#000"/>
<text x="715.3" y="337.5" font-size="11"><tspan textLength="12.4" lengthAdjust="spacingAndGlyphs">10</tspan><tspan x="728.6" y="332.9" font-size="7">3</tspan></text>
<text x="744.5" y="311" font-size="11" text-anchor="middle" textLength="24" lengthAdjust="spacingAndGlyphs" transform="rotate(-90 744.5 311)">Eflux</text>
<rect x="705" y="356" width="8" height="65" fill="#000"/>
<rect x="706" y="357" width="6" height="63" fill="url(#g70)"/>
<rect x="710" y="366" width="2" height="1" fill="#000"/>
<text x="715.3" y="370.5" font-size="11"><tspan textLength="12.4" lengthAdjust="spacingAndGlyphs">10</tspan><tspan x="728.6" y="365.9" font-size="7">6</tspan></text>
<rect x="710" y="378" width="2" height="1" fill="#000"/>
<text x="715.3" y="383" font-size="11"><tspan textLength="12.4" lengthAdjust="spacingAndGlyphs">10</tspan><tspan x="728.6" y="378.4" font-size="7">5</tspan></text>
<rect x="710" y="391" width="2" height="1" fill="#000"/>
<text x="715.3" y="395.5" font-size="11"><tspan textLength="12.4" lengthAdjust="spacingAndGlyphs">10</tspan><tspan x="728.6" y="390.9" font-size="7">4</tspan></text>
<rect x="710" y="404" width="2" height="1" fill="#000"/>
<text x="715.3" y="408" font-size="11"><tspan textLength="12.4" lengthAdjust="spacingAndGlyphs">10</tspan><tspan x="728.6" y="403.4" font-size="7">3</tspan></text>
<rect x="710" y="416" width="2" height="1" fill="#000"/>
<text x="715.3" y="420.5" font-size="11"><tspan textLength="12.4" lengthAdjust="spacingAndGlyphs">10</tspan><tspan x="728.6" y="415.9" font-size="7">2</tspan></text>
<text x="744.5" y="388.5" font-size="11" text-anchor="middle" textLength="24" lengthAdjust="spacingAndGlyphs" transform="rotate(-90 744.5 388.5)">Eflux</text>
<rect x="705" y="433" width="8" height="66" fill="#000"/>
<rect x="706" y="434" width="6" height="64" fill="url(#g71)"/>
<text x="715.3" y="441" font-size="11"><tspan textLength="12.4" lengthAdjust="spacingAndGlyphs">10</tspan><tspan x="728.6" y="436.4" font-size="7">6</tspan></text>
<rect x="710" y="444" width="2" height="1" fill="#000"/>
<text x="715.3" y="448.7" font-size="11"><tspan textLength="12.4" lengthAdjust="spacingAndGlyphs">10</tspan><tspan x="728.6" y="444.1" font-size="7">5</tspan></text>
<rect x="710" y="454" width="2" height="1" fill="#000"/>
<text x="715.3" y="459" font-size="11"><tspan textLength="12.4" lengthAdjust="spacingAndGlyphs">10</tspan><tspan x="728.6" y="454.4" font-size="7">4</tspan></text>
<rect x="710" y="465" width="2" height="1" fill="#000"/>
<text x="715.3" y="469.5" font-size="11"><tspan textLength="12.4" lengthAdjust="spacingAndGlyphs">10</tspan><tspan x="728.6" y="464.9" font-size="7">3</tspan></text>
<rect x="710" y="476" width="2" height="1" fill="#000"/>
<text x="715.3" y="480" font-size="11"><tspan textLength="12.4" lengthAdjust="spacingAndGlyphs">10</tspan><tspan x="728.6" y="475.4" font-size="7">2</tspan></text>
<rect x="710" y="486" width="2" height="1" fill="#000"/>
<text x="715.3" y="490.5" font-size="11"><tspan textLength="12.4" lengthAdjust="spacingAndGlyphs">10</tspan><tspan x="728.6" y="485.9" font-size="7">1</tspan></text>
<text x="715.3" y="498" font-size="11"><tspan textLength="12.4" lengthAdjust="spacingAndGlyphs">10</tspan><tspan x="728.6" y="493.4" font-size="7">0</tspan></text>
<text x="744.5" y="466" font-size="11" text-anchor="middle" textLength="24" lengthAdjust="spacingAndGlyphs" transform="rotate(-90 744.5 466)">Eflux</text>
<rect x="705" y="511" width="8" height="66" fill="#000"/>
<rect x="706" y="512" width="6" height="64" fill="url(#g72)"/>
<rect x="710" y="518" width="2" height="1" fill="#000"/>
<text x="715.3" y="522" font-size="11" textLength="32.6" lengthAdjust="spacingAndGlyphs">10000</text>
<rect x="710" y="532" width="2" height="1" fill="#000"/>
<text x="715.3" y="536" font-size="11" textLength="26" lengthAdjust="spacingAndGlyphs">1000</text>
<rect x="710" y="546" width="2" height="1" fill="#000"/>
<text x="715.3" y="550" font-size="11" textLength="19.4" lengthAdjust="spacingAndGlyphs">100</text>
<rect x="710" y="560" width="2" height="1" fill="#000"/>
<text x="715.3" y="564" font-size="11" textLength="12.4" lengthAdjust="spacingAndGlyphs">10</text>
<rect x="710" y="574" width="2" height="1" fill="#000"/>
<text x="715.3" y="577" font-size="11" textLength="5" lengthAdjust="spacingAndGlyphs">1</text>
<rect x="705" y="589" width="8" height="66" fill="#000"/>
<rect x="706" y="590" width="6" height="64" fill="url(#g73)"/>
<rect x="710" y="600" width="2" height="1" fill="#000"/>
<text x="715.3" y="604" font-size="11"><tspan textLength="12.4" lengthAdjust="spacingAndGlyphs">10</tspan><tspan x="728.6" y="599.4" font-size="7">6</tspan></text>
<rect x="710" y="612" width="2" height="1" fill="#000"/>
<text x="715.3" y="616.5" font-size="11"><tspan textLength="12.4" lengthAdjust="spacingAndGlyphs">10</tspan><tspan x="728.6" y="611.9" font-size="7">5</tspan></text>
<rect x="710" y="624" width="2" height="1" fill="#000"/>
<text x="715.3" y="629" font-size="11"><tspan textLength="12.4" lengthAdjust="spacingAndGlyphs">10</tspan><tspan x="728.6" y="624.4" font-size="7">4</tspan></text>
<rect x="710" y="637" width="2" height="1" fill="#000"/>
<text x="715.3" y="641.5" font-size="11"><tspan textLength="12.4" lengthAdjust="spacingAndGlyphs">10</tspan><tspan x="728.6" y="636.9" font-size="7">3</tspan></text>
<rect x="710" y="650" width="2" height="1" fill="#000"/>
<text x="715.3" y="654" font-size="11"><tspan textLength="12.4" lengthAdjust="spacingAndGlyphs">10</tspan><tspan x="728.6" y="649.4" font-size="7">2</tspan></text>
<text x="744.5" y="622" font-size="11" text-anchor="middle" textLength="24" lengthAdjust="spacingAndGlyphs" transform="rotate(-90 744.5 622)">Eflux</text>
<rect x="705" y="667" width="8" height="66" fill="#000"/>
<rect x="706" y="668" width="6" height="64" fill="url(#g74)"/>
<text x="715.3" y="675" font-size="11"><tspan textLength="12.4" lengthAdjust="spacingAndGlyphs">10</tspan><tspan x="728.6" y="670.4" font-size="7">7</tspan></text>
<rect x="710" y="680" width="2" height="1" fill="#000"/>
<text x="715.3" y="684.2" font-size="11"><tspan textLength="12.4" lengthAdjust="spacingAndGlyphs">10</tspan><tspan x="728.6" y="679.6" font-size="7">6</tspan></text>
<rect x="710" y="692" width="2" height="1" fill="#000"/>
<text x="715.3" y="696.2" font-size="11"><tspan textLength="12.4" lengthAdjust="spacingAndGlyphs">10</tspan><tspan x="728.6" y="691.6" font-size="7">5</tspan></text>
<rect x="710" y="704" width="2" height="1" fill="#000"/>
<text x="715.3" y="708.2" font-size="11"><tspan textLength="12.4" lengthAdjust="spacingAndGlyphs">10</tspan><tspan x="728.6" y="703.6" font-size="7">4</tspan></text>
<rect x="710" y="716" width="2" height="1" fill="#000"/>
<text x="715.3" y="720.2" font-size="11"><tspan textLength="12.4" lengthAdjust="spacingAndGlyphs">10</tspan><tspan x="728.6" y="715.6" font-size="7">3</tspan></text>
<rect x="710" y="728" width="2" height="1" fill="#000"/>
<text x="715.3" y="732.2" font-size="11"><tspan textLength="12.4" lengthAdjust="spacingAndGlyphs">10</tspan><tspan x="728.6" y="727.6" font-size="7">2</tspan></text>
<text x="744.5" y="700" font-size="11" text-anchor="middle" textLength="24" lengthAdjust="spacingAndGlyphs" transform="rotate(-90 744.5 700)">Eflux</text>
<text x="63" y="51.8" font-size="11.3" text-anchor="middle" transform="rotate(-90 63 51.8)">tha</text>
<text x="73" y="51.8" font-size="11.3" text-anchor="middle" transform="rotate(-90 73 51.8)">elec</text>
<text x="82.5" y="64" font-size="11.2"><tspan textLength="12" lengthAdjust="spacingAndGlyphs">10</tspan><tspan x="94.9" y="58" font-size="7">5</tspan></text>
<text x="63" y="116.8" font-size="11.3" text-anchor="middle" transform="rotate(-90 63 116.8)">thb</text>
<text x="73" y="116.8" font-size="11.3" text-anchor="middle" transform="rotate(-90 73 116.8)">elec</text>
<text x="82.5" y="129" font-size="11.2"><tspan textLength="12" lengthAdjust="spacingAndGlyphs">10</tspan><tspan x="94.9" y="123" font-size="7">5</tspan></text>
<text x="63" y="181.8" font-size="11.3" text-anchor="middle" transform="rotate(-90 63 181.8)">thc</text>
<text x="73" y="181.8" font-size="11.3" text-anchor="middle" transform="rotate(-90 73 181.8)">elec</text>
<text x="82.5" y="194" font-size="11.2"><tspan textLength="12" lengthAdjust="spacingAndGlyphs">10</tspan><tspan x="94.9" y="188" font-size="7">5</tspan></text>
<text x="63" y="246.8" font-size="11.3" text-anchor="middle" transform="rotate(-90 63 246.8)">thd</text>
<text x="73" y="246.8" font-size="11.3" text-anchor="middle" transform="rotate(-90 73 246.8)">elec</text>
<text x="82.5" y="259" font-size="11.2"><tspan textLength="12" lengthAdjust="spacingAndGlyphs">10</tspan><tspan x="94.9" y="253" font-size="7">5</tspan></text>
<text x="63" y="311.8" font-size="11.3" text-anchor="middle" transform="rotate(-90 63 311.8)">the</text>
<text x="73" y="311.8" font-size="11.3" text-anchor="middle" transform="rotate(-90 73 311.8)">elec</text>
<text x="82.5" y="323.3" font-size="11.2"><tspan textLength="12" lengthAdjust="spacingAndGlyphs">10</tspan><tspan x="94.9" y="317.3" font-size="7">5</tspan></text>
<text x="63" y="389.3" font-size="11.3" text-anchor="middle" transform="rotate(-90 63 389.3)">tha</text>
<text x="73" y="389.3" font-size="11.3" text-anchor="middle" transform="rotate(-90 73 389.3)">ions</text>
<text x="82.5" y="418.9" font-size="11.2"><tspan textLength="12" lengthAdjust="spacingAndGlyphs">10</tspan><tspan x="94.9" y="412.9" font-size="7">5</tspan></text>
<text x="82.5" y="382.9" font-size="11.2"><tspan textLength="12" lengthAdjust="spacingAndGlyphs">10</tspan><tspan x="94.9" y="376.9" font-size="7">6</tspan></text>
<text x="63" y="466.8" font-size="11.3" text-anchor="middle" transform="rotate(-90 63 466.8)">thb</text>
<text x="73" y="466.8" font-size="11.3" text-anchor="middle" transform="rotate(-90 73 466.8)">ions</text>
<text x="82.5" y="490.1" font-size="11.2"><tspan textLength="12" lengthAdjust="spacingAndGlyphs">10</tspan><tspan x="94.9" y="484.1" font-size="7">5</tspan></text>
<text x="82.5" y="458.1" font-size="11.2"><tspan textLength="12" lengthAdjust="spacingAndGlyphs">10</tspan><tspan x="94.9" y="452.1" font-size="7">6</tspan></text>
<text x="63" y="544.8" font-size="11.3" text-anchor="middle" transform="rotate(-90 63 544.8)">thc</text>
<text x="73" y="544.8" font-size="11.3" text-anchor="middle" transform="rotate(-90 73 544.8)">ions</text>
<text x="82.5" y="568.6" font-size="11.2"><tspan textLength="12" lengthAdjust="spacingAndGlyphs">10</tspan><tspan x="94.9" y="562.6" font-size="7">5</tspan></text>
<text x="82.5" y="536.6" font-size="11.2"><tspan textLength="12" lengthAdjust="spacingAndGlyphs">10</tspan><tspan x="94.9" y="530.6" font-size="7">6</tspan></text>
<text x="63" y="622.8" font-size="11.3" text-anchor="middle" transform="rotate(-90 63 622.8)">thd</text>
<text x="73" y="622.8" font-size="11.3" text-anchor="middle" transform="rotate(-90 73 622.8)">ions</text>
<text x="82.5" y="647.9" font-size="11.2"><tspan textLength="12" lengthAdjust="spacingAndGlyphs">10</tspan><tspan x="94.9" y="641.9" font-size="7">5</tspan></text>
<text x="82.5" y="614.1" font-size="11.2"><tspan textLength="12" lengthAdjust="spacingAndGlyphs">10</tspan><tspan x="94.9" y="608.1" font-size="7">6</tspan></text>
<text x="63" y="700.8" font-size="11.3" text-anchor="middle" transform="rotate(-90 63 700.8)">the</text>
<text x="73" y="700.8" font-size="11.3" text-anchor="middle" transform="rotate(-90 73 700.8)">ions</text>
<text x="82.5" y="728.1" font-size="11.2"><tspan textLength="12" lengthAdjust="spacingAndGlyphs">10</tspan><tspan x="94.9" y="722.1" font-size="7">5</tspan></text>
<text x="82.5" y="693.1" font-size="11.2"><tspan textLength="12" lengthAdjust="spacingAndGlyphs">10</tspan><tspan x="94.9" y="687.1" font-size="7">6</tspan></text>
<text y="13.2" font-size="12.5"><tspan x="158.3" textLength="18.8" lengthAdjust="spacingAndGlyphs">P5,</tspan> <tspan x="186.3" textLength="18.8" lengthAdjust="spacingAndGlyphs">P1,</tspan> <tspan x="214.3" textLength="18.8" lengthAdjust="spacingAndGlyphs">P2,</tspan> <tspan x="242.3" textLength="18.8" lengthAdjust="spacingAndGlyphs">P3,</tspan> <tspan x="271.2" textLength="15.8" lengthAdjust="spacingAndGlyphs">P4</tspan> <tspan x="295.5" textLength="96.5" lengthAdjust="spacingAndGlyphs">(TH-A,B,C,D,E)</tspan> <tspan x="400" textLength="63" lengthAdjust="spacingAndGlyphs">PSIF,PSEF</tspan> <tspan x="472" textLength="31" lengthAdjust="spacingAndGlyphs">EFlux</tspan> <tspan x="513.3" textLength="70" lengthAdjust="spacingAndGlyphs">eV/(eV*cm</tspan><tspan x="584.3" y="8" font-size="8">2</tspan><tspan x="590" y="13.2" textLength="53" lengthAdjust="spacingAndGlyphs">*sec*sr)</tspan></text>
<text x="102.8" y="746.8" font-size="10.5" text-anchor="middle" textLength="26" lengthAdjust="spacingAndGlyphs">0000</text>
<text x="252" y="746.8" font-size="10.5" text-anchor="middle" textLength="26" lengthAdjust="spacingAndGlyphs">0030</text>
<text x="401" y="746.8" font-size="10.5" text-anchor="middle" textLength="26" lengthAdjust="spacingAndGlyphs">0100</text>
<text x="550" y="746.8" font-size="10.5" text-anchor="middle" textLength="26" lengthAdjust="spacingAndGlyphs">0130</text>
<text x="699" y="746.8" font-size="10.5" text-anchor="middle" textLength="26" lengthAdjust="spacingAndGlyphs">0200</text>
<text x="6.7" y="746.8" font-size="10.5" textLength="32.5" lengthAdjust="spacingAndGlyphs">hhmm</text>
<text x="6.7" y="757.2" font-size="10.5" textLength="69" lengthAdjust="spacingAndGlyphs">2019 Oct 26</text></svg></body></html>
